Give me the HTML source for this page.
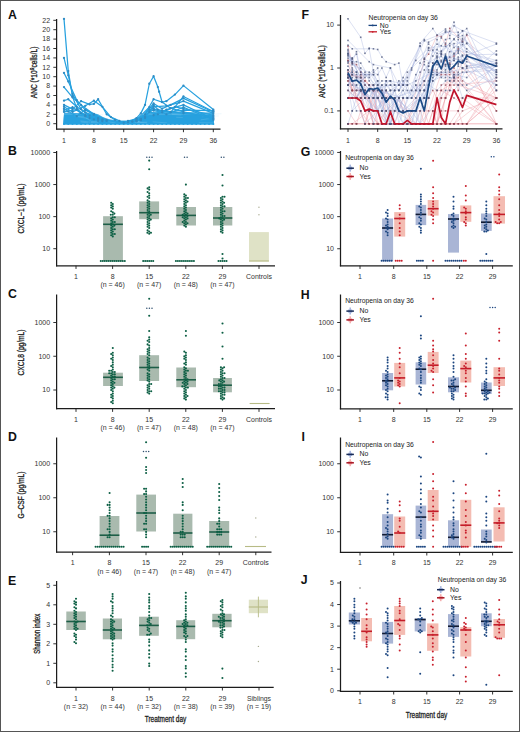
<!DOCTYPE html>
<html><head><meta charset="utf-8"><style>
html,body{margin:0;padding:0;background:#fff;}
svg{display:block;font-family:"Liberation Sans",sans-serif;}
</style></head><body>
<svg width="520" height="732" viewBox="0 0 520 732">
<rect x="0" y="0" width="520" height="732" fill="#ffffff" />
<text x="8" y="18.8" font-size="12.3" text-anchor="start" font-weight="bold" fill="#111" >A</text>
<text x="8" y="155.2" font-size="12.3" text-anchor="start" font-weight="bold" fill="#111" >B</text>
<text x="8" y="298.2" font-size="12.3" text-anchor="start" font-weight="bold" fill="#111" >C</text>
<text x="8" y="441.2" font-size="12.3" text-anchor="start" font-weight="bold" fill="#111" >D</text>
<text x="8" y="585.4" font-size="12.3" text-anchor="start" font-weight="bold" fill="#111" >E</text>
<text x="301.6" y="19" font-size="12.3" text-anchor="start" font-weight="bold" fill="#111" >F</text>
<text x="300.8" y="155.8" font-size="12.3" text-anchor="start" font-weight="bold" fill="#111" >G</text>
<text x="300.8" y="298.8" font-size="12.3" text-anchor="start" font-weight="bold" fill="#111" >H</text>
<text x="301.5" y="441.2" font-size="12.3" text-anchor="start" font-weight="bold" fill="#111" >I</text>
<text x="300.8" y="584.4" font-size="12.3" text-anchor="start" font-weight="bold" fill="#111" >J</text>
<line x1="56.6" y1="19" x2="56.6" y2="129.6" stroke="#1c1c1c" stroke-width="1.25" />
<line x1="53.3" y1="123.7" x2="56.6" y2="123.7" stroke="#1c1c1c" stroke-width="0.9" />
<text x="50.1" y="126.08" font-size="6.6" text-anchor="end" font-weight="normal" fill="#333" textLength="3.9" lengthAdjust="spacingAndGlyphs" >0</text>
<line x1="53.3" y1="114.3" x2="56.6" y2="114.3" stroke="#1c1c1c" stroke-width="0.9" />
<text x="50.1" y="116.68" font-size="6.6" text-anchor="end" font-weight="normal" fill="#333" textLength="3.9" lengthAdjust="spacingAndGlyphs" >2</text>
<line x1="53.3" y1="104.9" x2="56.6" y2="104.9" stroke="#1c1c1c" stroke-width="0.9" />
<text x="50.1" y="107.28" font-size="6.6" text-anchor="end" font-weight="normal" fill="#333" textLength="3.9" lengthAdjust="spacingAndGlyphs" >4</text>
<line x1="53.3" y1="95.5" x2="56.6" y2="95.5" stroke="#1c1c1c" stroke-width="0.9" />
<text x="50.1" y="97.88" font-size="6.6" text-anchor="end" font-weight="normal" fill="#333" textLength="3.9" lengthAdjust="spacingAndGlyphs" >6</text>
<line x1="53.3" y1="86.1" x2="56.6" y2="86.1" stroke="#1c1c1c" stroke-width="0.9" />
<text x="50.1" y="88.48" font-size="6.6" text-anchor="end" font-weight="normal" fill="#333" textLength="3.9" lengthAdjust="spacingAndGlyphs" >8</text>
<line x1="53.3" y1="76.7" x2="56.6" y2="76.7" stroke="#1c1c1c" stroke-width="0.9" />
<text x="50.1" y="79.08" font-size="6.6" text-anchor="end" font-weight="normal" fill="#333" textLength="7.8" lengthAdjust="spacingAndGlyphs" >10</text>
<line x1="53.3" y1="67.3" x2="56.6" y2="67.3" stroke="#1c1c1c" stroke-width="0.9" />
<text x="50.1" y="69.68" font-size="6.6" text-anchor="end" font-weight="normal" fill="#333" textLength="7.8" lengthAdjust="spacingAndGlyphs" >12</text>
<line x1="53.3" y1="57.9" x2="56.6" y2="57.9" stroke="#1c1c1c" stroke-width="0.9" />
<text x="50.1" y="60.28" font-size="6.6" text-anchor="end" font-weight="normal" fill="#333" textLength="7.8" lengthAdjust="spacingAndGlyphs" >14</text>
<line x1="53.3" y1="48.5" x2="56.6" y2="48.5" stroke="#1c1c1c" stroke-width="0.9" />
<text x="50.1" y="50.88" font-size="6.6" text-anchor="end" font-weight="normal" fill="#333" textLength="7.8" lengthAdjust="spacingAndGlyphs" >16</text>
<line x1="53.3" y1="39.1" x2="56.6" y2="39.1" stroke="#1c1c1c" stroke-width="0.9" />
<text x="50.1" y="41.48" font-size="6.6" text-anchor="end" font-weight="normal" fill="#333" textLength="7.8" lengthAdjust="spacingAndGlyphs" >18</text>
<line x1="53.3" y1="29.7" x2="56.6" y2="29.7" stroke="#1c1c1c" stroke-width="0.9" />
<text x="50.1" y="32.08" font-size="6.6" text-anchor="end" font-weight="normal" fill="#333" textLength="7.8" lengthAdjust="spacingAndGlyphs" >20</text>
<line x1="53.3" y1="20.3" x2="56.6" y2="20.3" stroke="#1c1c1c" stroke-width="0.9" />
<text x="50.1" y="22.68" font-size="6.6" text-anchor="end" font-weight="normal" fill="#333" textLength="7.8" lengthAdjust="spacingAndGlyphs" >22</text>
<line x1="56" y1="129" x2="220.5" y2="129" stroke="#1c1c1c" stroke-width="1.25" />
<line x1="64" y1="129" x2="64" y2="132.2" stroke="#1c1c1c" stroke-width="0.9" />
<text x="64" y="142.58" font-size="6.6" text-anchor="middle" font-weight="normal" fill="#333" textLength="3.9" lengthAdjust="spacingAndGlyphs" >1</text>
<line x1="93.86" y1="129" x2="93.86" y2="132.2" stroke="#1c1c1c" stroke-width="0.9" />
<text x="93.86" y="142.58" font-size="6.6" text-anchor="middle" font-weight="normal" fill="#333" textLength="3.9" lengthAdjust="spacingAndGlyphs" >8</text>
<line x1="123.72" y1="129" x2="123.72" y2="132.2" stroke="#1c1c1c" stroke-width="0.9" />
<text x="123.72" y="142.58" font-size="6.6" text-anchor="middle" font-weight="normal" fill="#333" textLength="7.8" lengthAdjust="spacingAndGlyphs" >15</text>
<line x1="153.59" y1="129" x2="153.59" y2="132.2" stroke="#1c1c1c" stroke-width="0.9" />
<text x="153.59" y="142.58" font-size="6.6" text-anchor="middle" font-weight="normal" fill="#333" textLength="7.8" lengthAdjust="spacingAndGlyphs" >22</text>
<line x1="183.45" y1="129" x2="183.45" y2="132.2" stroke="#1c1c1c" stroke-width="0.9" />
<text x="183.45" y="142.58" font-size="6.6" text-anchor="middle" font-weight="normal" fill="#333" textLength="7.8" lengthAdjust="spacingAndGlyphs" >29</text>
<line x1="213.31" y1="129" x2="213.31" y2="132.2" stroke="#1c1c1c" stroke-width="0.9" />
<text x="213.31" y="142.58" font-size="6.6" text-anchor="middle" font-weight="normal" fill="#333" textLength="7.8" lengthAdjust="spacingAndGlyphs" >36</text>
<g transform="translate(37.01,72.4) rotate(-90)"><text x="0" y="0" font-size="8.3" text-anchor="middle" fill="#222" stroke="#222" stroke-width="0.3" textLength="51.5" lengthAdjust="spacingAndGlyphs">ANC (*10<tspan font-size="6.2" dy="-3.2" >9</tspan><tspan dy="3.2">cells/L)</tspan></text></g>
<line x1="56.6" y1="151" x2="56.6" y2="266.35" stroke="#1c1c1c" stroke-width="1.25" />
<line x1="53.3" y1="152.49" x2="56.6" y2="152.49" stroke="#1c1c1c" stroke-width="0.9" />
<text x="50.1" y="154.87" font-size="6.6" text-anchor="end" font-weight="normal" fill="#333" textLength="19.5" lengthAdjust="spacingAndGlyphs" >10000</text>
<line x1="53.3" y1="184.56" x2="56.6" y2="184.56" stroke="#1c1c1c" stroke-width="0.9" />
<text x="50.1" y="186.94" font-size="6.6" text-anchor="end" font-weight="normal" fill="#333" textLength="15.6" lengthAdjust="spacingAndGlyphs" >1000</text>
<line x1="53.3" y1="216.63" x2="56.6" y2="216.63" stroke="#1c1c1c" stroke-width="0.9" />
<text x="50.1" y="219.01" font-size="6.6" text-anchor="end" font-weight="normal" fill="#333" textLength="11.7" lengthAdjust="spacingAndGlyphs" >100</text>
<line x1="53.3" y1="248.7" x2="56.6" y2="248.7" stroke="#1c1c1c" stroke-width="0.9" />
<text x="50.1" y="251.08" font-size="6.6" text-anchor="end" font-weight="normal" fill="#333" textLength="7.8" lengthAdjust="spacingAndGlyphs" >10</text>
<line x1="56" y1="265.75" x2="275" y2="265.75" stroke="#1c1c1c" stroke-width="1.25" />
<line x1="76" y1="265.75" x2="76" y2="268.95" stroke="#1c1c1c" stroke-width="0.9" />
<text x="76" y="278.68" font-size="6.6" text-anchor="middle" font-weight="normal" fill="#333" textLength="3.9" lengthAdjust="spacingAndGlyphs" >1</text>
<line x1="112.6" y1="265.75" x2="112.6" y2="268.95" stroke="#1c1c1c" stroke-width="0.9" />
<text x="112.6" y="278.68" font-size="6.6" text-anchor="middle" font-weight="normal" fill="#333" textLength="3.9" lengthAdjust="spacingAndGlyphs" >8</text>
<text x="112.6" y="287.18" font-size="6.6" text-anchor="middle" font-weight="normal" fill="#333" textLength="24.3" lengthAdjust="spacingAndGlyphs" >(n = 46)</text>
<line x1="149.2" y1="265.75" x2="149.2" y2="268.95" stroke="#1c1c1c" stroke-width="0.9" />
<text x="149.2" y="278.68" font-size="6.6" text-anchor="middle" font-weight="normal" fill="#333" textLength="7.8" lengthAdjust="spacingAndGlyphs" >15</text>
<text x="149.2" y="287.18" font-size="6.6" text-anchor="middle" font-weight="normal" fill="#333" textLength="24.3" lengthAdjust="spacingAndGlyphs" >(n = 47)</text>
<line x1="185.8" y1="265.75" x2="185.8" y2="268.95" stroke="#1c1c1c" stroke-width="0.9" />
<text x="185.8" y="278.68" font-size="6.6" text-anchor="middle" font-weight="normal" fill="#333" textLength="7.8" lengthAdjust="spacingAndGlyphs" >22</text>
<text x="185.8" y="287.18" font-size="6.6" text-anchor="middle" font-weight="normal" fill="#333" textLength="24.3" lengthAdjust="spacingAndGlyphs" >(n = 48)</text>
<line x1="222.4" y1="265.75" x2="222.4" y2="268.95" stroke="#1c1c1c" stroke-width="0.9" />
<text x="222.4" y="278.68" font-size="6.6" text-anchor="middle" font-weight="normal" fill="#333" textLength="7.8" lengthAdjust="spacingAndGlyphs" >29</text>
<text x="222.4" y="287.18" font-size="6.6" text-anchor="middle" font-weight="normal" fill="#333" textLength="24.3" lengthAdjust="spacingAndGlyphs" >(n = 47)</text>
<line x1="259" y1="265.75" x2="259" y2="268.95" stroke="#1c1c1c" stroke-width="0.9" />
<text x="259" y="278.68" font-size="6.6" text-anchor="middle" font-weight="normal" fill="#333" textLength="25.9" lengthAdjust="spacingAndGlyphs" >Controls</text>
<text transform="translate(24.41,208.5) rotate(-90)" x="0" y="0" font-size="8.3" text-anchor="middle" fill="#222" stroke="#222" stroke-width="0.3" textLength="50" lengthAdjust="spacingAndGlyphs">CXCL&#8722;1 (pg/mL)</text>
<line x1="56.6" y1="294.5" x2="56.6" y2="409.3" stroke="#1c1c1c" stroke-width="1.25" />
<line x1="53.3" y1="322.5" x2="56.6" y2="322.5" stroke="#1c1c1c" stroke-width="0.9" />
<text x="50.1" y="324.88" font-size="6.6" text-anchor="end" font-weight="normal" fill="#333" textLength="15.6" lengthAdjust="spacingAndGlyphs" >1000</text>
<line x1="53.3" y1="356.25" x2="56.6" y2="356.25" stroke="#1c1c1c" stroke-width="0.9" />
<text x="50.1" y="358.63" font-size="6.6" text-anchor="end" font-weight="normal" fill="#333" textLength="11.7" lengthAdjust="spacingAndGlyphs" >100</text>
<line x1="53.3" y1="390" x2="56.6" y2="390" stroke="#1c1c1c" stroke-width="0.9" />
<text x="50.1" y="392.38" font-size="6.6" text-anchor="end" font-weight="normal" fill="#333" textLength="7.8" lengthAdjust="spacingAndGlyphs" >10</text>
<line x1="56" y1="408.7" x2="275" y2="408.7" stroke="#1c1c1c" stroke-width="1.25" />
<line x1="76" y1="408.7" x2="76" y2="411.9" stroke="#1c1c1c" stroke-width="0.9" />
<text x="76" y="421.58" font-size="6.6" text-anchor="middle" font-weight="normal" fill="#333" textLength="3.9" lengthAdjust="spacingAndGlyphs" >1</text>
<line x1="112.6" y1="408.7" x2="112.6" y2="411.9" stroke="#1c1c1c" stroke-width="0.9" />
<text x="112.6" y="421.58" font-size="6.6" text-anchor="middle" font-weight="normal" fill="#333" textLength="3.9" lengthAdjust="spacingAndGlyphs" >8</text>
<text x="112.6" y="430.38" font-size="6.6" text-anchor="middle" font-weight="normal" fill="#333" textLength="24.3" lengthAdjust="spacingAndGlyphs" >(n = 46)</text>
<line x1="149.2" y1="408.7" x2="149.2" y2="411.9" stroke="#1c1c1c" stroke-width="0.9" />
<text x="149.2" y="421.58" font-size="6.6" text-anchor="middle" font-weight="normal" fill="#333" textLength="7.8" lengthAdjust="spacingAndGlyphs" >15</text>
<text x="149.2" y="430.38" font-size="6.6" text-anchor="middle" font-weight="normal" fill="#333" textLength="24.3" lengthAdjust="spacingAndGlyphs" >(n = 47)</text>
<line x1="185.8" y1="408.7" x2="185.8" y2="411.9" stroke="#1c1c1c" stroke-width="0.9" />
<text x="185.8" y="421.58" font-size="6.6" text-anchor="middle" font-weight="normal" fill="#333" textLength="7.8" lengthAdjust="spacingAndGlyphs" >22</text>
<text x="185.8" y="430.38" font-size="6.6" text-anchor="middle" font-weight="normal" fill="#333" textLength="24.3" lengthAdjust="spacingAndGlyphs" >(n = 48)</text>
<line x1="222.4" y1="408.7" x2="222.4" y2="411.9" stroke="#1c1c1c" stroke-width="0.9" />
<text x="222.4" y="421.58" font-size="6.6" text-anchor="middle" font-weight="normal" fill="#333" textLength="7.8" lengthAdjust="spacingAndGlyphs" >29</text>
<text x="222.4" y="430.38" font-size="6.6" text-anchor="middle" font-weight="normal" fill="#333" textLength="24.3" lengthAdjust="spacingAndGlyphs" >(n = 47)</text>
<line x1="259" y1="408.7" x2="259" y2="411.9" stroke="#1c1c1c" stroke-width="0.9" />
<text x="259" y="421.58" font-size="6.6" text-anchor="middle" font-weight="normal" fill="#333" textLength="25.9" lengthAdjust="spacingAndGlyphs" >Controls</text>
<text transform="translate(24.41,352.5) rotate(-90)" x="0" y="0" font-size="8.3" text-anchor="middle" fill="#222" stroke="#222" stroke-width="0.3" textLength="46" lengthAdjust="spacingAndGlyphs">CXCL8 (pg/mL)</text>
<line x1="56.6" y1="437.5" x2="56.6" y2="552.6" stroke="#1c1c1c" stroke-width="1.25" />
<line x1="53.3" y1="463.75" x2="56.6" y2="463.75" stroke="#1c1c1c" stroke-width="0.9" />
<text x="50.1" y="466.13" font-size="6.6" text-anchor="end" font-weight="normal" fill="#333" textLength="15.6" lengthAdjust="spacingAndGlyphs" >1000</text>
<line x1="53.3" y1="497.75" x2="56.6" y2="497.75" stroke="#1c1c1c" stroke-width="0.9" />
<text x="50.1" y="500.13" font-size="6.6" text-anchor="end" font-weight="normal" fill="#333" textLength="11.7" lengthAdjust="spacingAndGlyphs" >100</text>
<line x1="53.3" y1="531.75" x2="56.6" y2="531.75" stroke="#1c1c1c" stroke-width="0.9" />
<text x="50.1" y="534.13" font-size="6.6" text-anchor="end" font-weight="normal" fill="#333" textLength="7.8" lengthAdjust="spacingAndGlyphs" >10</text>
<line x1="56" y1="552" x2="271.5" y2="552" stroke="#1c1c1c" stroke-width="1.25" />
<line x1="72.6" y1="552" x2="72.6" y2="555.2" stroke="#1c1c1c" stroke-width="0.9" />
<text x="72.6" y="565.38" font-size="6.6" text-anchor="middle" font-weight="normal" fill="#333" textLength="3.9" lengthAdjust="spacingAndGlyphs" >1</text>
<line x1="109.4" y1="552" x2="109.4" y2="555.2" stroke="#1c1c1c" stroke-width="0.9" />
<text x="109.4" y="565.38" font-size="6.6" text-anchor="middle" font-weight="normal" fill="#333" textLength="3.9" lengthAdjust="spacingAndGlyphs" >8</text>
<text x="109.4" y="573.88" font-size="6.6" text-anchor="middle" font-weight="normal" fill="#333" textLength="24.3" lengthAdjust="spacingAndGlyphs" >(n = 46)</text>
<line x1="146" y1="552" x2="146" y2="555.2" stroke="#1c1c1c" stroke-width="0.9" />
<text x="146" y="565.38" font-size="6.6" text-anchor="middle" font-weight="normal" fill="#333" textLength="7.8" lengthAdjust="spacingAndGlyphs" >15</text>
<text x="146" y="573.88" font-size="6.6" text-anchor="middle" font-weight="normal" fill="#333" textLength="24.3" lengthAdjust="spacingAndGlyphs" >(n = 47)</text>
<line x1="182.6" y1="552" x2="182.6" y2="555.2" stroke="#1c1c1c" stroke-width="0.9" />
<text x="182.6" y="565.38" font-size="6.6" text-anchor="middle" font-weight="normal" fill="#333" textLength="7.8" lengthAdjust="spacingAndGlyphs" >22</text>
<text x="182.6" y="573.88" font-size="6.6" text-anchor="middle" font-weight="normal" fill="#333" textLength="24.3" lengthAdjust="spacingAndGlyphs" >(n = 48)</text>
<line x1="219.2" y1="552" x2="219.2" y2="555.2" stroke="#1c1c1c" stroke-width="0.9" />
<text x="219.2" y="565.38" font-size="6.6" text-anchor="middle" font-weight="normal" fill="#333" textLength="7.8" lengthAdjust="spacingAndGlyphs" >29</text>
<text x="219.2" y="573.88" font-size="6.6" text-anchor="middle" font-weight="normal" fill="#333" textLength="24.3" lengthAdjust="spacingAndGlyphs" >(n = 47)</text>
<line x1="255.8" y1="552" x2="255.8" y2="555.2" stroke="#1c1c1c" stroke-width="0.9" />
<text x="255.8" y="565.38" font-size="6.6" text-anchor="middle" font-weight="normal" fill="#333" textLength="25.9" lengthAdjust="spacingAndGlyphs" >Controls</text>
<text transform="translate(24.41,495) rotate(-90)" x="0" y="0" font-size="8.3" text-anchor="middle" fill="#222" stroke="#222" stroke-width="0.3" textLength="47" lengthAdjust="spacingAndGlyphs">G&#8211;CSF (pg/mL)</text>
<line x1="56.6" y1="581" x2="56.6" y2="687.9" stroke="#1c1c1c" stroke-width="1.25" />
<line x1="53.3" y1="682.8" x2="56.6" y2="682.8" stroke="#1c1c1c" stroke-width="0.9" />
<text x="50.1" y="685.18" font-size="6.6" text-anchor="end" font-weight="normal" fill="#333" textLength="3.9" lengthAdjust="spacingAndGlyphs" >0</text>
<line x1="53.3" y1="663.3" x2="56.6" y2="663.3" stroke="#1c1c1c" stroke-width="0.9" />
<text x="50.1" y="665.68" font-size="6.6" text-anchor="end" font-weight="normal" fill="#333" textLength="3.9" lengthAdjust="spacingAndGlyphs" >1</text>
<line x1="53.3" y1="643.8" x2="56.6" y2="643.8" stroke="#1c1c1c" stroke-width="0.9" />
<text x="50.1" y="646.18" font-size="6.6" text-anchor="end" font-weight="normal" fill="#333" textLength="3.9" lengthAdjust="spacingAndGlyphs" >2</text>
<line x1="53.3" y1="624.3" x2="56.6" y2="624.3" stroke="#1c1c1c" stroke-width="0.9" />
<text x="50.1" y="626.68" font-size="6.6" text-anchor="end" font-weight="normal" fill="#333" textLength="3.9" lengthAdjust="spacingAndGlyphs" >3</text>
<line x1="53.3" y1="604.8" x2="56.6" y2="604.8" stroke="#1c1c1c" stroke-width="0.9" />
<text x="50.1" y="607.18" font-size="6.6" text-anchor="end" font-weight="normal" fill="#333" textLength="3.9" lengthAdjust="spacingAndGlyphs" >4</text>
<line x1="53.3" y1="585.3" x2="56.6" y2="585.3" stroke="#1c1c1c" stroke-width="0.9" />
<text x="50.1" y="587.68" font-size="6.6" text-anchor="end" font-weight="normal" fill="#333" textLength="3.9" lengthAdjust="spacingAndGlyphs" >5</text>
<line x1="56" y1="687.3" x2="273.7" y2="687.3" stroke="#1c1c1c" stroke-width="1.25" />
<line x1="76" y1="687.3" x2="76" y2="690.5" stroke="#1c1c1c" stroke-width="0.9" />
<text x="76" y="700.88" font-size="6.6" text-anchor="middle" font-weight="normal" fill="#333" textLength="3.9" lengthAdjust="spacingAndGlyphs" >1</text>
<text x="76" y="709.28" font-size="6.6" text-anchor="middle" font-weight="normal" fill="#333" textLength="24.3" lengthAdjust="spacingAndGlyphs" >(n = 32)</text>
<line x1="112.6" y1="687.3" x2="112.6" y2="690.5" stroke="#1c1c1c" stroke-width="0.9" />
<text x="112.6" y="700.88" font-size="6.6" text-anchor="middle" font-weight="normal" fill="#333" textLength="3.9" lengthAdjust="spacingAndGlyphs" >8</text>
<text x="112.6" y="709.28" font-size="6.6" text-anchor="middle" font-weight="normal" fill="#333" textLength="24.3" lengthAdjust="spacingAndGlyphs" >(n = 44)</text>
<line x1="149.2" y1="687.3" x2="149.2" y2="690.5" stroke="#1c1c1c" stroke-width="0.9" />
<text x="149.2" y="700.88" font-size="6.6" text-anchor="middle" font-weight="normal" fill="#333" textLength="7.8" lengthAdjust="spacingAndGlyphs" >15</text>
<text x="149.2" y="709.28" font-size="6.6" text-anchor="middle" font-weight="normal" fill="#333" textLength="24.3" lengthAdjust="spacingAndGlyphs" >(n = 32)</text>
<line x1="185.8" y1="687.3" x2="185.8" y2="690.5" stroke="#1c1c1c" stroke-width="0.9" />
<text x="185.8" y="700.88" font-size="6.6" text-anchor="middle" font-weight="normal" fill="#333" textLength="7.8" lengthAdjust="spacingAndGlyphs" >22</text>
<text x="185.8" y="709.28" font-size="6.6" text-anchor="middle" font-weight="normal" fill="#333" textLength="24.3" lengthAdjust="spacingAndGlyphs" >(n = 38)</text>
<line x1="222.4" y1="687.3" x2="222.4" y2="690.5" stroke="#1c1c1c" stroke-width="0.9" />
<text x="222.4" y="700.88" font-size="6.6" text-anchor="middle" font-weight="normal" fill="#333" textLength="7.8" lengthAdjust="spacingAndGlyphs" >29</text>
<text x="222.4" y="709.28" font-size="6.6" text-anchor="middle" font-weight="normal" fill="#333" textLength="24.3" lengthAdjust="spacingAndGlyphs" >(n = 39)</text>
<line x1="259" y1="687.3" x2="259" y2="690.5" stroke="#1c1c1c" stroke-width="0.9" />
<text x="259" y="700.88" font-size="6.6" text-anchor="middle" font-weight="normal" fill="#333" textLength="24" lengthAdjust="spacingAndGlyphs" >Siblings</text>
<text x="259" y="709.28" font-size="6.6" text-anchor="middle" font-weight="normal" fill="#333" textLength="24.3" lengthAdjust="spacingAndGlyphs" >(n = 19)</text>
<text transform="translate(40.41,633.8) rotate(-90)" x="0" y="0" font-size="8.3" text-anchor="middle" fill="#222" stroke="#222" stroke-width="0.3" textLength="40" lengthAdjust="spacingAndGlyphs">Shannon index</text>
<text x="165.5" y="722.3" font-size="8.6" text-anchor="middle" font-weight="normal" fill="#222" textLength="41.5" lengthAdjust="spacingAndGlyphs" stroke="#222" stroke-width="0.3">Treatment day</text>
<line x1="340.5" y1="15" x2="340.5" y2="129.35" stroke="#1c1c1c" stroke-width="1.25" />
<line x1="337.2" y1="25.1" x2="340.5" y2="25.1" stroke="#1c1c1c" stroke-width="0.9" />
<text x="334" y="27.48" font-size="6.6" text-anchor="end" font-weight="normal" fill="#333" textLength="7.8" lengthAdjust="spacingAndGlyphs" >10</text>
<line x1="337.2" y1="68" x2="340.5" y2="68" stroke="#1c1c1c" stroke-width="0.9" />
<text x="334" y="70.38" font-size="6.6" text-anchor="end" font-weight="normal" fill="#333" textLength="3.9" lengthAdjust="spacingAndGlyphs" >1</text>
<line x1="337.2" y1="110.9" x2="340.5" y2="110.9" stroke="#1c1c1c" stroke-width="0.9" />
<text x="334" y="113.28" font-size="6.6" text-anchor="end" font-weight="normal" fill="#333" textLength="9.7" lengthAdjust="spacingAndGlyphs" >0.1</text>
<line x1="339.9" y1="128.75" x2="502.5" y2="128.75" stroke="#1c1c1c" stroke-width="1.25" />
<line x1="348" y1="128.75" x2="348" y2="131.95" stroke="#1c1c1c" stroke-width="0.9" />
<text x="348" y="142.58" font-size="6.6" text-anchor="middle" font-weight="normal" fill="#333" textLength="3.9" lengthAdjust="spacingAndGlyphs" >1</text>
<line x1="377.68" y1="128.75" x2="377.68" y2="131.95" stroke="#1c1c1c" stroke-width="0.9" />
<text x="377.68" y="142.58" font-size="6.6" text-anchor="middle" font-weight="normal" fill="#333" textLength="3.9" lengthAdjust="spacingAndGlyphs" >8</text>
<line x1="407.36" y1="128.75" x2="407.36" y2="131.95" stroke="#1c1c1c" stroke-width="0.9" />
<text x="407.36" y="142.58" font-size="6.6" text-anchor="middle" font-weight="normal" fill="#333" textLength="7.8" lengthAdjust="spacingAndGlyphs" >15</text>
<line x1="437.04" y1="128.75" x2="437.04" y2="131.95" stroke="#1c1c1c" stroke-width="0.9" />
<text x="437.04" y="142.58" font-size="6.6" text-anchor="middle" font-weight="normal" fill="#333" textLength="7.8" lengthAdjust="spacingAndGlyphs" >22</text>
<line x1="466.72" y1="128.75" x2="466.72" y2="131.95" stroke="#1c1c1c" stroke-width="0.9" />
<text x="466.72" y="142.58" font-size="6.6" text-anchor="middle" font-weight="normal" fill="#333" textLength="7.8" lengthAdjust="spacingAndGlyphs" >29</text>
<line x1="496.4" y1="128.75" x2="496.4" y2="131.95" stroke="#1c1c1c" stroke-width="0.9" />
<text x="496.4" y="142.58" font-size="6.6" text-anchor="middle" font-weight="normal" fill="#333" textLength="7.8" lengthAdjust="spacingAndGlyphs" >36</text>
<g transform="translate(325.4,71.6) rotate(-90)"><text x="0" y="0" font-size="8.3" text-anchor="middle" fill="#222" stroke="#222" stroke-width="0.3" textLength="52.5" lengthAdjust="spacingAndGlyphs">ANC (*10<tspan font-size="6.2" dy="-3.2" >9</tspan><tspan dy="3.2">cells/L)</tspan></text></g>
<line x1="340.5" y1="151" x2="340.5" y2="266.35" stroke="#1c1c1c" stroke-width="1.25" />
<line x1="337.2" y1="152.45" x2="340.5" y2="152.45" stroke="#1c1c1c" stroke-width="0.9" />
<text x="334" y="154.83" font-size="6.6" text-anchor="end" font-weight="normal" fill="#333" textLength="19.5" lengthAdjust="spacingAndGlyphs" >10000</text>
<line x1="337.2" y1="184.55" x2="340.5" y2="184.55" stroke="#1c1c1c" stroke-width="0.9" />
<text x="334" y="186.93" font-size="6.6" text-anchor="end" font-weight="normal" fill="#333" textLength="15.6" lengthAdjust="spacingAndGlyphs" >1000</text>
<line x1="337.2" y1="216.65" x2="340.5" y2="216.65" stroke="#1c1c1c" stroke-width="0.9" />
<text x="334" y="219.03" font-size="6.6" text-anchor="end" font-weight="normal" fill="#333" textLength="11.7" lengthAdjust="spacingAndGlyphs" >100</text>
<line x1="337.2" y1="248.75" x2="340.5" y2="248.75" stroke="#1c1c1c" stroke-width="0.9" />
<text x="334" y="251.13" font-size="6.6" text-anchor="end" font-weight="normal" fill="#333" textLength="7.8" lengthAdjust="spacingAndGlyphs" >10</text>
<line x1="339.9" y1="265.75" x2="512.8" y2="265.75" stroke="#1c1c1c" stroke-width="1.25" />
<line x1="360" y1="265.75" x2="360" y2="268.95" stroke="#1c1c1c" stroke-width="0.9" />
<text x="360" y="279.08" font-size="6.6" text-anchor="middle" font-weight="normal" fill="#333" textLength="3.9" lengthAdjust="spacingAndGlyphs" >1</text>
<line x1="393.7" y1="265.75" x2="393.7" y2="268.95" stroke="#1c1c1c" stroke-width="0.9" />
<text x="393.7" y="279.08" font-size="6.6" text-anchor="middle" font-weight="normal" fill="#333" textLength="3.9" lengthAdjust="spacingAndGlyphs" >8</text>
<line x1="426.8" y1="265.75" x2="426.8" y2="268.95" stroke="#1c1c1c" stroke-width="0.9" />
<text x="426.8" y="279.08" font-size="6.6" text-anchor="middle" font-weight="normal" fill="#333" textLength="7.8" lengthAdjust="spacingAndGlyphs" >15</text>
<line x1="459.6" y1="265.75" x2="459.6" y2="268.95" stroke="#1c1c1c" stroke-width="0.9" />
<text x="459.6" y="279.08" font-size="6.6" text-anchor="middle" font-weight="normal" fill="#333" textLength="7.8" lengthAdjust="spacingAndGlyphs" >22</text>
<line x1="492.6" y1="265.75" x2="492.6" y2="268.95" stroke="#1c1c1c" stroke-width="0.9" />
<text x="492.6" y="279.08" font-size="6.6" text-anchor="middle" font-weight="normal" fill="#333" textLength="7.8" lengthAdjust="spacingAndGlyphs" >29</text>
<line x1="340.5" y1="294.5" x2="340.5" y2="409.35" stroke="#1c1c1c" stroke-width="1.25" />
<line x1="337.2" y1="322.5" x2="340.5" y2="322.5" stroke="#1c1c1c" stroke-width="0.9" />
<text x="334" y="324.88" font-size="6.6" text-anchor="end" font-weight="normal" fill="#333" textLength="15.6" lengthAdjust="spacingAndGlyphs" >1000</text>
<line x1="337.2" y1="356.25" x2="340.5" y2="356.25" stroke="#1c1c1c" stroke-width="0.9" />
<text x="334" y="358.63" font-size="6.6" text-anchor="end" font-weight="normal" fill="#333" textLength="11.7" lengthAdjust="spacingAndGlyphs" >100</text>
<line x1="337.2" y1="390" x2="340.5" y2="390" stroke="#1c1c1c" stroke-width="0.9" />
<text x="334" y="392.38" font-size="6.6" text-anchor="end" font-weight="normal" fill="#333" textLength="7.8" lengthAdjust="spacingAndGlyphs" >10</text>
<line x1="339.9" y1="408.75" x2="512.8" y2="408.75" stroke="#1c1c1c" stroke-width="1.25" />
<line x1="360" y1="408.75" x2="360" y2="411.95" stroke="#1c1c1c" stroke-width="0.9" />
<text x="360" y="421.58" font-size="6.6" text-anchor="middle" font-weight="normal" fill="#333" textLength="3.9" lengthAdjust="spacingAndGlyphs" >1</text>
<line x1="393.7" y1="408.75" x2="393.7" y2="411.95" stroke="#1c1c1c" stroke-width="0.9" />
<text x="393.7" y="421.58" font-size="6.6" text-anchor="middle" font-weight="normal" fill="#333" textLength="3.9" lengthAdjust="spacingAndGlyphs" >8</text>
<line x1="426.8" y1="408.75" x2="426.8" y2="411.95" stroke="#1c1c1c" stroke-width="0.9" />
<text x="426.8" y="421.58" font-size="6.6" text-anchor="middle" font-weight="normal" fill="#333" textLength="7.8" lengthAdjust="spacingAndGlyphs" >15</text>
<line x1="459.6" y1="408.75" x2="459.6" y2="411.95" stroke="#1c1c1c" stroke-width="0.9" />
<text x="459.6" y="421.58" font-size="6.6" text-anchor="middle" font-weight="normal" fill="#333" textLength="7.8" lengthAdjust="spacingAndGlyphs" >22</text>
<line x1="492.6" y1="408.75" x2="492.6" y2="411.95" stroke="#1c1c1c" stroke-width="0.9" />
<text x="492.6" y="421.58" font-size="6.6" text-anchor="middle" font-weight="normal" fill="#333" textLength="7.8" lengthAdjust="spacingAndGlyphs" >29</text>
<line x1="340.5" y1="437.5" x2="340.5" y2="552.9" stroke="#1c1c1c" stroke-width="1.25" />
<line x1="337.2" y1="463.75" x2="340.5" y2="463.75" stroke="#1c1c1c" stroke-width="0.9" />
<text x="334" y="466.13" font-size="6.6" text-anchor="end" font-weight="normal" fill="#333" textLength="15.6" lengthAdjust="spacingAndGlyphs" >1000</text>
<line x1="337.2" y1="497.75" x2="340.5" y2="497.75" stroke="#1c1c1c" stroke-width="0.9" />
<text x="334" y="500.13" font-size="6.6" text-anchor="end" font-weight="normal" fill="#333" textLength="11.7" lengthAdjust="spacingAndGlyphs" >100</text>
<line x1="337.2" y1="531.75" x2="340.5" y2="531.75" stroke="#1c1c1c" stroke-width="0.9" />
<text x="334" y="534.13" font-size="6.6" text-anchor="end" font-weight="normal" fill="#333" textLength="7.8" lengthAdjust="spacingAndGlyphs" >10</text>
<line x1="339.9" y1="552.3" x2="512.8" y2="552.3" stroke="#1c1c1c" stroke-width="1.25" />
<line x1="360" y1="552.3" x2="360" y2="555.5" stroke="#1c1c1c" stroke-width="0.9" />
<text x="360" y="564.78" font-size="6.6" text-anchor="middle" font-weight="normal" fill="#333" textLength="3.9" lengthAdjust="spacingAndGlyphs" >1</text>
<line x1="393.7" y1="552.3" x2="393.7" y2="555.5" stroke="#1c1c1c" stroke-width="0.9" />
<text x="393.7" y="564.78" font-size="6.6" text-anchor="middle" font-weight="normal" fill="#333" textLength="3.9" lengthAdjust="spacingAndGlyphs" >8</text>
<line x1="426.8" y1="552.3" x2="426.8" y2="555.5" stroke="#1c1c1c" stroke-width="0.9" />
<text x="426.8" y="564.78" font-size="6.6" text-anchor="middle" font-weight="normal" fill="#333" textLength="7.8" lengthAdjust="spacingAndGlyphs" >15</text>
<line x1="459.6" y1="552.3" x2="459.6" y2="555.5" stroke="#1c1c1c" stroke-width="0.9" />
<text x="459.6" y="564.78" font-size="6.6" text-anchor="middle" font-weight="normal" fill="#333" textLength="7.8" lengthAdjust="spacingAndGlyphs" >22</text>
<line x1="492.6" y1="552.3" x2="492.6" y2="555.5" stroke="#1c1c1c" stroke-width="0.9" />
<text x="492.6" y="564.78" font-size="6.6" text-anchor="middle" font-weight="normal" fill="#333" textLength="7.8" lengthAdjust="spacingAndGlyphs" >29</text>
<line x1="340.5" y1="581" x2="340.5" y2="691.9" stroke="#1c1c1c" stroke-width="1.25" />
<line x1="337.2" y1="690.75" x2="340.5" y2="690.75" stroke="#1c1c1c" stroke-width="0.9" />
<text x="334" y="693.13" font-size="6.6" text-anchor="end" font-weight="normal" fill="#333" textLength="3.9" lengthAdjust="spacingAndGlyphs" >0</text>
<line x1="337.2" y1="669.2" x2="340.5" y2="669.2" stroke="#1c1c1c" stroke-width="0.9" />
<text x="334" y="671.58" font-size="6.6" text-anchor="end" font-weight="normal" fill="#333" textLength="3.9" lengthAdjust="spacingAndGlyphs" >1</text>
<line x1="337.2" y1="647.65" x2="340.5" y2="647.65" stroke="#1c1c1c" stroke-width="0.9" />
<text x="334" y="650.03" font-size="6.6" text-anchor="end" font-weight="normal" fill="#333" textLength="3.9" lengthAdjust="spacingAndGlyphs" >2</text>
<line x1="337.2" y1="626.1" x2="340.5" y2="626.1" stroke="#1c1c1c" stroke-width="0.9" />
<text x="334" y="628.48" font-size="6.6" text-anchor="end" font-weight="normal" fill="#333" textLength="3.9" lengthAdjust="spacingAndGlyphs" >3</text>
<line x1="337.2" y1="604.55" x2="340.5" y2="604.55" stroke="#1c1c1c" stroke-width="0.9" />
<text x="334" y="606.93" font-size="6.6" text-anchor="end" font-weight="normal" fill="#333" textLength="3.9" lengthAdjust="spacingAndGlyphs" >4</text>
<line x1="337.2" y1="583" x2="340.5" y2="583" stroke="#1c1c1c" stroke-width="0.9" />
<text x="334" y="585.38" font-size="6.6" text-anchor="end" font-weight="normal" fill="#333" textLength="3.9" lengthAdjust="spacingAndGlyphs" >5</text>
<line x1="339.9" y1="691.3" x2="512.8" y2="691.3" stroke="#1c1c1c" stroke-width="1.25" />
<line x1="360" y1="691.3" x2="360" y2="694.5" stroke="#1c1c1c" stroke-width="0.9" />
<text x="360" y="704.28" font-size="6.6" text-anchor="middle" font-weight="normal" fill="#333" textLength="3.9" lengthAdjust="spacingAndGlyphs" >1</text>
<line x1="393.7" y1="691.3" x2="393.7" y2="694.5" stroke="#1c1c1c" stroke-width="0.9" />
<text x="393.7" y="704.28" font-size="6.6" text-anchor="middle" font-weight="normal" fill="#333" textLength="3.9" lengthAdjust="spacingAndGlyphs" >8</text>
<line x1="426.8" y1="691.3" x2="426.8" y2="694.5" stroke="#1c1c1c" stroke-width="0.9" />
<text x="426.8" y="704.28" font-size="6.6" text-anchor="middle" font-weight="normal" fill="#333" textLength="7.8" lengthAdjust="spacingAndGlyphs" >15</text>
<line x1="459.6" y1="691.3" x2="459.6" y2="694.5" stroke="#1c1c1c" stroke-width="0.9" />
<text x="459.6" y="704.28" font-size="6.6" text-anchor="middle" font-weight="normal" fill="#333" textLength="7.8" lengthAdjust="spacingAndGlyphs" >22</text>
<line x1="492.6" y1="691.3" x2="492.6" y2="694.5" stroke="#1c1c1c" stroke-width="0.9" />
<text x="492.6" y="704.28" font-size="6.6" text-anchor="middle" font-weight="normal" fill="#333" textLength="7.8" lengthAdjust="spacingAndGlyphs" >29</text>
<text x="426.5" y="717.5" font-size="8.6" text-anchor="middle" font-weight="normal" fill="#222" textLength="41.5" lengthAdjust="spacingAndGlyphs" stroke="#222" stroke-width="0.3">Treatment day</text>
<rect x="103.1" y="216.2" width="19.8" height="44.8" fill="#a9baae" />
<rect x="139.2" y="201.4" width="19.9" height="17.8" fill="#a9baae" />
<rect x="176.3" y="207" width="19.7" height="18.5" fill="#a9baae" />
<rect x="213" y="207" width="19.3" height="18.5" fill="#a9baae" />
<rect x="249" y="232.1" width="19.9" height="29.2" fill="#dfe2c6" />
<line x1="249" y1="261" x2="268.9" y2="261" stroke="#b7bb86" stroke-width="1.1" />
<circle cx="258.95" cy="207.3" r="0.7" fill="#a8ab90" />
<circle cx="258.95" cy="214.8" r="0.7" fill="#a8ab90" />
<line x1="103.1" y1="224.3" x2="122.9" y2="224.3" stroke="#1d5e47" stroke-width="1.6" />
<line x1="139.2" y1="212.7" x2="159.1" y2="212.7" stroke="#1d5e47" stroke-width="1.6" />
<line x1="176.3" y1="215.4" x2="196" y2="215.4" stroke="#1d5e47" stroke-width="1.6" />
<line x1="213" y1="218" x2="232.3" y2="218" stroke="#1d5e47" stroke-width="1.6" />
<circle cx="112.8" cy="261" r="1.05" fill="#0c5f44" />
<circle cx="110.8" cy="261" r="1.05" fill="#0c5f44" />
<circle cx="114.8" cy="261" r="1.05" fill="#0c5f44" />
<circle cx="108.8" cy="261" r="1.05" fill="#0c5f44" />
<circle cx="116.8" cy="261" r="1.05" fill="#0c5f44" />
<circle cx="106.8" cy="261" r="1.05" fill="#0c5f44" />
<circle cx="118.8" cy="261" r="1.05" fill="#0c5f44" />
<circle cx="104.8" cy="261" r="1.05" fill="#0c5f44" />
<circle cx="120.8" cy="261" r="1.05" fill="#0c5f44" />
<circle cx="102.8" cy="261" r="1.05" fill="#0c5f44" />
<circle cx="122.8" cy="261" r="1.05" fill="#0c5f44" />
<circle cx="100.8" cy="261" r="1.05" fill="#0c5f44" />
<circle cx="124.8" cy="261" r="1.05" fill="#0c5f44" />
<circle cx="112.8" cy="236.4" r="1.05" fill="#0c5f44" />
<circle cx="111.2" cy="235.2" r="1.05" fill="#0c5f44" />
<circle cx="112.8" cy="234" r="1.05" fill="#0c5f44" />
<circle cx="114.8" cy="234" r="1.05" fill="#0c5f44" />
<circle cx="111.2" cy="232.8" r="1.05" fill="#0c5f44" />
<circle cx="112.8" cy="231.6" r="1.05" fill="#0c5f44" />
<circle cx="111.2" cy="230.4" r="1.05" fill="#0c5f44" />
<circle cx="112.8" cy="229.2" r="1.05" fill="#0c5f44" />
<circle cx="114.8" cy="229.2" r="1.05" fill="#0c5f44" />
<circle cx="111.2" cy="228" r="1.05" fill="#0c5f44" />
<circle cx="112.8" cy="226.8" r="1.05" fill="#0c5f44" />
<circle cx="111.2" cy="225.6" r="1.05" fill="#0c5f44" />
<circle cx="114.4" cy="225.6" r="1.05" fill="#0c5f44" />
<circle cx="112.8" cy="224.4" r="1.05" fill="#0c5f44" />
<circle cx="111.2" cy="223.2" r="1.05" fill="#0c5f44" />
<circle cx="112.8" cy="222" r="1.05" fill="#0c5f44" />
<circle cx="114.8" cy="222" r="1.05" fill="#0c5f44" />
<circle cx="111.2" cy="220.8" r="1.05" fill="#0c5f44" />
<circle cx="112.8" cy="219.6" r="1.05" fill="#0c5f44" />
<circle cx="111.2" cy="218.4" r="1.05" fill="#0c5f44" />
<circle cx="112.8" cy="217.2" r="1.05" fill="#0c5f44" />
<circle cx="114.8" cy="217.2" r="1.05" fill="#0c5f44" />
<circle cx="112.8" cy="214.8" r="1.05" fill="#0c5f44" />
<circle cx="110.8" cy="214.8" r="1.05" fill="#0c5f44" />
<circle cx="114.4" cy="213.6" r="1.05" fill="#0c5f44" />
<circle cx="112.8" cy="212.4" r="1.05" fill="#0c5f44" />
<circle cx="111.2" cy="211.2" r="1.05" fill="#0c5f44" />
<circle cx="112.8" cy="208.8" r="1.05" fill="#0c5f44" />
<circle cx="111.2" cy="207.6" r="1.05" fill="#0c5f44" />
<circle cx="112.8" cy="206.4" r="1.05" fill="#0c5f44" />
<circle cx="111.2" cy="205.2" r="1.05" fill="#0c5f44" />
<circle cx="112.8" cy="204" r="1.05" fill="#0c5f44" />
<circle cx="111.2" cy="202.8" r="1.05" fill="#0c5f44" />
<circle cx="149.2" cy="261" r="1.05" fill="#0c5f44" />
<circle cx="147.2" cy="261" r="1.05" fill="#0c5f44" />
<circle cx="151.2" cy="261" r="1.05" fill="#0c5f44" />
<circle cx="145.2" cy="261" r="1.05" fill="#0c5f44" />
<circle cx="153.2" cy="261" r="1.05" fill="#0c5f44" />
<circle cx="143.2" cy="261" r="1.05" fill="#0c5f44" />
<circle cx="149.2" cy="233.7" r="1.05" fill="#0c5f44" />
<circle cx="147.41" cy="232.8" r="1.05" fill="#0c5f44" />
<circle cx="150.99" cy="232.8" r="1.05" fill="#0c5f44" />
<circle cx="149.2" cy="231.6" r="1.05" fill="#0c5f44" />
<circle cx="147.6" cy="230.4" r="1.05" fill="#0c5f44" />
<circle cx="149.2" cy="228" r="1.05" fill="#0c5f44" />
<circle cx="147.6" cy="226.8" r="1.05" fill="#0c5f44" />
<circle cx="149.2" cy="225.6" r="1.05" fill="#0c5f44" />
<circle cx="147.6" cy="224.4" r="1.05" fill="#0c5f44" />
<circle cx="149.2" cy="223.2" r="1.05" fill="#0c5f44" />
<circle cx="147.6" cy="222" r="1.05" fill="#0c5f44" />
<circle cx="149.2" cy="220.8" r="1.05" fill="#0c5f44" />
<circle cx="147.6" cy="219.6" r="1.05" fill="#0c5f44" />
<circle cx="150.8" cy="219.6" r="1.05" fill="#0c5f44" />
<circle cx="149.2" cy="218.4" r="1.05" fill="#0c5f44" />
<circle cx="147.6" cy="217.2" r="1.05" fill="#0c5f44" />
<circle cx="149.2" cy="216" r="1.05" fill="#0c5f44" />
<circle cx="147.6" cy="214.8" r="1.05" fill="#0c5f44" />
<circle cx="150.8" cy="214.8" r="1.05" fill="#0c5f44" />
<circle cx="149.2" cy="213.6" r="1.05" fill="#0c5f44" />
<circle cx="147.6" cy="212.4" r="1.05" fill="#0c5f44" />
<circle cx="149.2" cy="211.2" r="1.05" fill="#0c5f44" />
<circle cx="147.6" cy="210" r="1.05" fill="#0c5f44" />
<circle cx="149.2" cy="208.8" r="1.05" fill="#0c5f44" />
<circle cx="147.6" cy="207.6" r="1.05" fill="#0c5f44" />
<circle cx="149.2" cy="206.4" r="1.05" fill="#0c5f44" />
<circle cx="147.6" cy="205.2" r="1.05" fill="#0c5f44" />
<circle cx="149.2" cy="204" r="1.05" fill="#0c5f44" />
<circle cx="147.6" cy="202.8" r="1.05" fill="#0c5f44" />
<circle cx="149.2" cy="201.6" r="1.05" fill="#0c5f44" />
<circle cx="147.6" cy="200.4" r="1.05" fill="#0c5f44" />
<circle cx="149.2" cy="198" r="1.05" fill="#0c5f44" />
<circle cx="147.6" cy="196.8" r="1.05" fill="#0c5f44" />
<circle cx="149.2" cy="195.6" r="1.05" fill="#0c5f44" />
<circle cx="149.2" cy="193.2" r="1.05" fill="#0c5f44" />
<circle cx="147.6" cy="192" r="1.05" fill="#0c5f44" />
<circle cx="149.2" cy="189.6" r="1.05" fill="#0c5f44" />
<circle cx="147.6" cy="188.4" r="1.05" fill="#0c5f44" />
<circle cx="149.2" cy="187.2" r="1.05" fill="#0c5f44" />
<circle cx="149.2" cy="169.2" r="1.05" fill="#0c5f44" />
<circle cx="149.2" cy="160.6" r="1.05" fill="#0c5f44" />
<circle cx="185.9" cy="261" r="1.05" fill="#0c5f44" />
<circle cx="183.9" cy="261" r="1.05" fill="#0c5f44" />
<circle cx="187.9" cy="261" r="1.05" fill="#0c5f44" />
<circle cx="181.9" cy="261" r="1.05" fill="#0c5f44" />
<circle cx="189.9" cy="261" r="1.05" fill="#0c5f44" />
<circle cx="179.9" cy="261" r="1.05" fill="#0c5f44" />
<circle cx="191.9" cy="261" r="1.05" fill="#0c5f44" />
<circle cx="177.9" cy="261" r="1.05" fill="#0c5f44" />
<circle cx="193.9" cy="261" r="1.05" fill="#0c5f44" />
<circle cx="175.9" cy="261" r="1.05" fill="#0c5f44" />
<circle cx="185.9" cy="226.8" r="1.05" fill="#0c5f44" />
<circle cx="184.3" cy="225.6" r="1.05" fill="#0c5f44" />
<circle cx="185.9" cy="224.4" r="1.05" fill="#0c5f44" />
<circle cx="184.3" cy="223.2" r="1.05" fill="#0c5f44" />
<circle cx="187.5" cy="223.2" r="1.05" fill="#0c5f44" />
<circle cx="185.9" cy="222" r="1.05" fill="#0c5f44" />
<circle cx="182.7" cy="222" r="1.05" fill="#0c5f44" />
<circle cx="184.3" cy="220.8" r="1.05" fill="#0c5f44" />
<circle cx="185.9" cy="219.6" r="1.05" fill="#0c5f44" />
<circle cx="184.3" cy="218.4" r="1.05" fill="#0c5f44" />
<circle cx="187.5" cy="218.4" r="1.05" fill="#0c5f44" />
<circle cx="185.9" cy="217.2" r="1.05" fill="#0c5f44" />
<circle cx="182.7" cy="217.2" r="1.05" fill="#0c5f44" />
<circle cx="184.3" cy="216" r="1.05" fill="#0c5f44" />
<circle cx="187.5" cy="216" r="1.05" fill="#0c5f44" />
<circle cx="185.9" cy="214.8" r="1.05" fill="#0c5f44" />
<circle cx="182.7" cy="214.8" r="1.05" fill="#0c5f44" />
<circle cx="184.3" cy="213.6" r="1.05" fill="#0c5f44" />
<circle cx="187.5" cy="213.6" r="1.05" fill="#0c5f44" />
<circle cx="185.9" cy="212.4" r="1.05" fill="#0c5f44" />
<circle cx="184.3" cy="211.2" r="1.05" fill="#0c5f44" />
<circle cx="185.9" cy="210" r="1.05" fill="#0c5f44" />
<circle cx="184.3" cy="208.8" r="1.05" fill="#0c5f44" />
<circle cx="185.9" cy="207.6" r="1.05" fill="#0c5f44" />
<circle cx="184.3" cy="206.4" r="1.05" fill="#0c5f44" />
<circle cx="185.9" cy="205.2" r="1.05" fill="#0c5f44" />
<circle cx="184.3" cy="204" r="1.05" fill="#0c5f44" />
<circle cx="185.9" cy="202.8" r="1.05" fill="#0c5f44" />
<circle cx="184.3" cy="201.6" r="1.05" fill="#0c5f44" />
<circle cx="187.5" cy="201.6" r="1.05" fill="#0c5f44" />
<circle cx="185.9" cy="200.4" r="1.05" fill="#0c5f44" />
<circle cx="184.3" cy="199.2" r="1.05" fill="#0c5f44" />
<circle cx="185.9" cy="198" r="1.05" fill="#0c5f44" />
<circle cx="187.9" cy="198" r="1.05" fill="#0c5f44" />
<circle cx="184.3" cy="196.8" r="1.05" fill="#0c5f44" />
<circle cx="185.9" cy="195.6" r="1.05" fill="#0c5f44" />
<circle cx="184.3" cy="194.4" r="1.05" fill="#0c5f44" />
<circle cx="185.9" cy="184.6" r="1.05" fill="#0c5f44" />
<circle cx="222.5" cy="261" r="1.05" fill="#0c5f44" />
<circle cx="220.5" cy="261" r="1.05" fill="#0c5f44" />
<circle cx="224.5" cy="261" r="1.05" fill="#0c5f44" />
<circle cx="218.5" cy="261" r="1.05" fill="#0c5f44" />
<circle cx="226.5" cy="261" r="1.05" fill="#0c5f44" />
<circle cx="222.5" cy="258.5" r="1.05" fill="#0c5f44" />
<circle cx="222.5" cy="254" r="1.05" fill="#0c5f44" />
<circle cx="222.5" cy="232.8" r="1.05" fill="#0c5f44" />
<circle cx="220.9" cy="231.6" r="1.05" fill="#0c5f44" />
<circle cx="222.5" cy="230.4" r="1.05" fill="#0c5f44" />
<circle cx="220.9" cy="229.2" r="1.05" fill="#0c5f44" />
<circle cx="222.5" cy="228" r="1.05" fill="#0c5f44" />
<circle cx="220.9" cy="226.8" r="1.05" fill="#0c5f44" />
<circle cx="222.5" cy="225.6" r="1.05" fill="#0c5f44" />
<circle cx="220.9" cy="224.4" r="1.05" fill="#0c5f44" />
<circle cx="222.5" cy="223.2" r="1.05" fill="#0c5f44" />
<circle cx="220.9" cy="222" r="1.05" fill="#0c5f44" />
<circle cx="222.5" cy="220.8" r="1.05" fill="#0c5f44" />
<circle cx="220.9" cy="219.6" r="1.05" fill="#0c5f44" />
<circle cx="224.1" cy="219.6" r="1.05" fill="#0c5f44" />
<circle cx="222.5" cy="218.4" r="1.05" fill="#0c5f44" />
<circle cx="219.3" cy="218.4" r="1.05" fill="#0c5f44" />
<circle cx="220.9" cy="217.2" r="1.05" fill="#0c5f44" />
<circle cx="222.5" cy="216" r="1.05" fill="#0c5f44" />
<circle cx="224.5" cy="216" r="1.05" fill="#0c5f44" />
<circle cx="220.9" cy="214.8" r="1.05" fill="#0c5f44" />
<circle cx="222.5" cy="213.6" r="1.05" fill="#0c5f44" />
<circle cx="220.9" cy="212.4" r="1.05" fill="#0c5f44" />
<circle cx="222.5" cy="211.2" r="1.05" fill="#0c5f44" />
<circle cx="224.5" cy="211.2" r="1.05" fill="#0c5f44" />
<circle cx="220.9" cy="210" r="1.05" fill="#0c5f44" />
<circle cx="222.5" cy="208.8" r="1.05" fill="#0c5f44" />
<circle cx="220.9" cy="207.6" r="1.05" fill="#0c5f44" />
<circle cx="222.5" cy="206.4" r="1.05" fill="#0c5f44" />
<circle cx="224.5" cy="206.4" r="1.05" fill="#0c5f44" />
<circle cx="220.9" cy="205.2" r="1.05" fill="#0c5f44" />
<circle cx="222.5" cy="204" r="1.05" fill="#0c5f44" />
<circle cx="220.9" cy="202.8" r="1.05" fill="#0c5f44" />
<circle cx="224.1" cy="202.8" r="1.05" fill="#0c5f44" />
<circle cx="222.5" cy="201.6" r="1.05" fill="#0c5f44" />
<circle cx="220.9" cy="200.4" r="1.05" fill="#0c5f44" />
<circle cx="222.5" cy="199.2" r="1.05" fill="#0c5f44" />
<circle cx="220.9" cy="198" r="1.05" fill="#0c5f44" />
<circle cx="222.5" cy="196.8" r="1.05" fill="#0c5f44" />
<circle cx="224.5" cy="196.8" r="1.05" fill="#0c5f44" />
<circle cx="222.5" cy="185.5" r="1.05" fill="#0c5f44" />
<circle cx="222.5" cy="175" r="1.05" fill="#0c5f44" />
<circle cx="146.8" cy="157.3" r="0.75" fill="#2f4f6f" />
<circle cx="149.4" cy="157.3" r="0.75" fill="#2f4f6f" />
<circle cx="152" cy="157.3" r="0.75" fill="#2f4f6f" />
<circle cx="184.5" cy="157.3" r="0.75" fill="#2f4f6f" />
<circle cx="187.1" cy="157.3" r="0.75" fill="#2f4f6f" />
<circle cx="221.3" cy="157.3" r="0.75" fill="#2f4f6f" />
<circle cx="223.9" cy="157.3" r="0.75" fill="#2f4f6f" />
<rect x="103.1" y="372.7" width="19.8" height="13.3" fill="#a9baae" />
<rect x="139.2" y="355.2" width="19.9" height="25.8" fill="#a9baae" />
<rect x="176.3" y="367.5" width="19.7" height="19.7" fill="#a9baae" />
<rect x="213.1" y="378" width="18.8" height="14.3" fill="#a9baae" />
<line x1="249.6" y1="403.5" x2="269.6" y2="403.5" stroke="#b7bb86" stroke-width="1.1" />
<line x1="103.1" y1="377.3" x2="122.9" y2="377.3" stroke="#1d5e47" stroke-width="1.6" />
<line x1="139.2" y1="367.5" x2="159.1" y2="367.5" stroke="#1d5e47" stroke-width="1.6" />
<line x1="176.3" y1="379.8" x2="196" y2="379.8" stroke="#1d5e47" stroke-width="1.6" />
<line x1="213.1" y1="385.2" x2="231.9" y2="385.2" stroke="#1d5e47" stroke-width="1.6" />
<circle cx="112.8" cy="403.2" r="1.05" fill="#0c5f44" />
<circle cx="111.2" cy="402" r="1.05" fill="#0c5f44" />
<circle cx="112.8" cy="400.8" r="1.05" fill="#0c5f44" />
<circle cx="112.8" cy="398.4" r="1.05" fill="#0c5f44" />
<circle cx="111.2" cy="397.2" r="1.05" fill="#0c5f44" />
<circle cx="112.8" cy="396" r="1.05" fill="#0c5f44" />
<circle cx="111.2" cy="394.8" r="1.05" fill="#0c5f44" />
<circle cx="112.8" cy="393.6" r="1.05" fill="#0c5f44" />
<circle cx="112.8" cy="391.2" r="1.05" fill="#0c5f44" />
<circle cx="111.2" cy="390" r="1.05" fill="#0c5f44" />
<circle cx="112.8" cy="388.8" r="1.05" fill="#0c5f44" />
<circle cx="111.2" cy="387.6" r="1.05" fill="#0c5f44" />
<circle cx="114.4" cy="387.6" r="1.05" fill="#0c5f44" />
<circle cx="112.8" cy="386.4" r="1.05" fill="#0c5f44" />
<circle cx="111.2" cy="385.2" r="1.05" fill="#0c5f44" />
<circle cx="112.8" cy="384" r="1.05" fill="#0c5f44" />
<circle cx="111.2" cy="382.8" r="1.05" fill="#0c5f44" />
<circle cx="114.4" cy="382.8" r="1.05" fill="#0c5f44" />
<circle cx="112.8" cy="381.6" r="1.05" fill="#0c5f44" />
<circle cx="111.2" cy="380.4" r="1.05" fill="#0c5f44" />
<circle cx="112.8" cy="379.2" r="1.05" fill="#0c5f44" />
<circle cx="114.8" cy="379.2" r="1.05" fill="#0c5f44" />
<circle cx="111.2" cy="378" r="1.05" fill="#0c5f44" />
<circle cx="112.8" cy="376.8" r="1.05" fill="#0c5f44" />
<circle cx="114.8" cy="376.8" r="1.05" fill="#0c5f44" />
<circle cx="111.2" cy="375.6" r="1.05" fill="#0c5f44" />
<circle cx="112.8" cy="374.4" r="1.05" fill="#0c5f44" />
<circle cx="114.8" cy="374.4" r="1.05" fill="#0c5f44" />
<circle cx="111.2" cy="373.2" r="1.05" fill="#0c5f44" />
<circle cx="109.2" cy="373.2" r="1.05" fill="#0c5f44" />
<circle cx="112.8" cy="372" r="1.05" fill="#0c5f44" />
<circle cx="114.8" cy="372" r="1.05" fill="#0c5f44" />
<circle cx="111.2" cy="370.8" r="1.05" fill="#0c5f44" />
<circle cx="109.2" cy="370.8" r="1.05" fill="#0c5f44" />
<circle cx="112.8" cy="369.6" r="1.05" fill="#0c5f44" />
<circle cx="112.8" cy="367.2" r="1.05" fill="#0c5f44" />
<circle cx="111.2" cy="366" r="1.05" fill="#0c5f44" />
<circle cx="112.8" cy="364.8" r="1.05" fill="#0c5f44" />
<circle cx="112.8" cy="362.4" r="1.05" fill="#0c5f44" />
<circle cx="112.8" cy="360" r="1.05" fill="#0c5f44" />
<circle cx="111.2" cy="358.8" r="1.05" fill="#0c5f44" />
<circle cx="112.8" cy="357.6" r="1.05" fill="#0c5f44" />
<circle cx="112.8" cy="355.2" r="1.05" fill="#0c5f44" />
<circle cx="111.2" cy="354" r="1.05" fill="#0c5f44" />
<circle cx="112.8" cy="352.8" r="1.05" fill="#0c5f44" />
<circle cx="112.8" cy="348" r="1.05" fill="#0c5f44" />
<circle cx="149.2" cy="393.6" r="1.05" fill="#0c5f44" />
<circle cx="147.6" cy="392.4" r="1.05" fill="#0c5f44" />
<circle cx="149.2" cy="391.2" r="1.05" fill="#0c5f44" />
<circle cx="151.2" cy="391.2" r="1.05" fill="#0c5f44" />
<circle cx="147.6" cy="390" r="1.05" fill="#0c5f44" />
<circle cx="149.2" cy="388.8" r="1.05" fill="#0c5f44" />
<circle cx="147.6" cy="387.6" r="1.05" fill="#0c5f44" />
<circle cx="149.2" cy="386.4" r="1.05" fill="#0c5f44" />
<circle cx="147.6" cy="385.2" r="1.05" fill="#0c5f44" />
<circle cx="149.2" cy="384" r="1.05" fill="#0c5f44" />
<circle cx="151.2" cy="384" r="1.05" fill="#0c5f44" />
<circle cx="149.2" cy="381.6" r="1.05" fill="#0c5f44" />
<circle cx="147.6" cy="380.4" r="1.05" fill="#0c5f44" />
<circle cx="149.2" cy="379.2" r="1.05" fill="#0c5f44" />
<circle cx="147.6" cy="378" r="1.05" fill="#0c5f44" />
<circle cx="149.2" cy="376.8" r="1.05" fill="#0c5f44" />
<circle cx="147.6" cy="375.6" r="1.05" fill="#0c5f44" />
<circle cx="149.2" cy="374.4" r="1.05" fill="#0c5f44" />
<circle cx="147.6" cy="373.2" r="1.05" fill="#0c5f44" />
<circle cx="149.2" cy="370.8" r="1.05" fill="#0c5f44" />
<circle cx="147.6" cy="369.6" r="1.05" fill="#0c5f44" />
<circle cx="149.2" cy="368.4" r="1.05" fill="#0c5f44" />
<circle cx="147.6" cy="367.2" r="1.05" fill="#0c5f44" />
<circle cx="149.2" cy="366" r="1.05" fill="#0c5f44" />
<circle cx="147.6" cy="364.8" r="1.05" fill="#0c5f44" />
<circle cx="149.2" cy="363.6" r="1.05" fill="#0c5f44" />
<circle cx="147.6" cy="362.4" r="1.05" fill="#0c5f44" />
<circle cx="149.2" cy="361.2" r="1.05" fill="#0c5f44" />
<circle cx="147.6" cy="360" r="1.05" fill="#0c5f44" />
<circle cx="149.2" cy="358.8" r="1.05" fill="#0c5f44" />
<circle cx="147.6" cy="357.6" r="1.05" fill="#0c5f44" />
<circle cx="149.2" cy="355.2" r="1.05" fill="#0c5f44" />
<circle cx="147.6" cy="354" r="1.05" fill="#0c5f44" />
<circle cx="149.2" cy="352.8" r="1.05" fill="#0c5f44" />
<circle cx="147.6" cy="351.6" r="1.05" fill="#0c5f44" />
<circle cx="149.2" cy="350.4" r="1.05" fill="#0c5f44" />
<circle cx="147.6" cy="349.2" r="1.05" fill="#0c5f44" />
<circle cx="149.2" cy="348" r="1.05" fill="#0c5f44" />
<circle cx="149.2" cy="345.6" r="1.05" fill="#0c5f44" />
<circle cx="147.6" cy="344.4" r="1.05" fill="#0c5f44" />
<circle cx="149.2" cy="342" r="1.05" fill="#0c5f44" />
<circle cx="147.6" cy="340.8" r="1.05" fill="#0c5f44" />
<circle cx="149.2" cy="339.6" r="1.05" fill="#0c5f44" />
<circle cx="149.2" cy="337.2" r="1.05" fill="#0c5f44" />
<circle cx="149.2" cy="331" r="1.05" fill="#0c5f44" />
<circle cx="149.2" cy="315.8" r="1.05" fill="#0c5f44" />
<circle cx="149.2" cy="298.8" r="1.05" fill="#0c5f44" />
<circle cx="185.9" cy="399.6" r="1.05" fill="#0c5f44" />
<circle cx="184.3" cy="398.4" r="1.05" fill="#0c5f44" />
<circle cx="185.9" cy="397.2" r="1.05" fill="#0c5f44" />
<circle cx="184.3" cy="396" r="1.05" fill="#0c5f44" />
<circle cx="187.5" cy="396" r="1.05" fill="#0c5f44" />
<circle cx="185.9" cy="394.8" r="1.05" fill="#0c5f44" />
<circle cx="184.3" cy="393.6" r="1.05" fill="#0c5f44" />
<circle cx="185.9" cy="392.4" r="1.05" fill="#0c5f44" />
<circle cx="184.3" cy="391.2" r="1.05" fill="#0c5f44" />
<circle cx="185.9" cy="390" r="1.05" fill="#0c5f44" />
<circle cx="184.3" cy="388.8" r="1.05" fill="#0c5f44" />
<circle cx="185.9" cy="387.6" r="1.05" fill="#0c5f44" />
<circle cx="187.9" cy="387.6" r="1.05" fill="#0c5f44" />
<circle cx="184.3" cy="386.4" r="1.05" fill="#0c5f44" />
<circle cx="182.3" cy="386.4" r="1.05" fill="#0c5f44" />
<circle cx="185.9" cy="385.2" r="1.05" fill="#0c5f44" />
<circle cx="184.3" cy="384" r="1.05" fill="#0c5f44" />
<circle cx="187.5" cy="384" r="1.05" fill="#0c5f44" />
<circle cx="185.9" cy="382.8" r="1.05" fill="#0c5f44" />
<circle cx="182.7" cy="382.8" r="1.05" fill="#0c5f44" />
<circle cx="184.3" cy="381.6" r="1.05" fill="#0c5f44" />
<circle cx="187.5" cy="381.6" r="1.05" fill="#0c5f44" />
<circle cx="185.9" cy="380.4" r="1.05" fill="#0c5f44" />
<circle cx="184.3" cy="379.2" r="1.05" fill="#0c5f44" />
<circle cx="187.5" cy="379.2" r="1.05" fill="#0c5f44" />
<circle cx="185.9" cy="378" r="1.05" fill="#0c5f44" />
<circle cx="184.3" cy="376.8" r="1.05" fill="#0c5f44" />
<circle cx="185.9" cy="375.6" r="1.05" fill="#0c5f44" />
<circle cx="184.3" cy="374.4" r="1.05" fill="#0c5f44" />
<circle cx="185.9" cy="373.2" r="1.05" fill="#0c5f44" />
<circle cx="184.3" cy="372" r="1.05" fill="#0c5f44" />
<circle cx="185.9" cy="370.8" r="1.05" fill="#0c5f44" />
<circle cx="187.9" cy="370.8" r="1.05" fill="#0c5f44" />
<circle cx="184.3" cy="369.6" r="1.05" fill="#0c5f44" />
<circle cx="185.9" cy="368.4" r="1.05" fill="#0c5f44" />
<circle cx="184.3" cy="367.2" r="1.05" fill="#0c5f44" />
<circle cx="185.9" cy="364.8" r="1.05" fill="#0c5f44" />
<circle cx="184.3" cy="363.6" r="1.05" fill="#0c5f44" />
<circle cx="185.9" cy="362.4" r="1.05" fill="#0c5f44" />
<circle cx="185.9" cy="360" r="1.05" fill="#0c5f44" />
<circle cx="184.3" cy="358.8" r="1.05" fill="#0c5f44" />
<circle cx="185.9" cy="357.6" r="1.05" fill="#0c5f44" />
<circle cx="184.3" cy="356.4" r="1.05" fill="#0c5f44" />
<circle cx="185.9" cy="355.2" r="1.05" fill="#0c5f44" />
<circle cx="185.9" cy="352.8" r="1.05" fill="#0c5f44" />
<circle cx="184.3" cy="351.6" r="1.05" fill="#0c5f44" />
<circle cx="185.9" cy="335.8" r="1.05" fill="#0c5f44" />
<circle cx="185.9" cy="331" r="1.05" fill="#0c5f44" />
<circle cx="222.5" cy="399.6" r="1.05" fill="#0c5f44" />
<circle cx="220.9" cy="398.4" r="1.05" fill="#0c5f44" />
<circle cx="224.1" cy="398.4" r="1.05" fill="#0c5f44" />
<circle cx="222.5" cy="397.2" r="1.05" fill="#0c5f44" />
<circle cx="220.9" cy="396" r="1.05" fill="#0c5f44" />
<circle cx="222.5" cy="394.8" r="1.05" fill="#0c5f44" />
<circle cx="224.5" cy="394.8" r="1.05" fill="#0c5f44" />
<circle cx="220.9" cy="393.6" r="1.05" fill="#0c5f44" />
<circle cx="222.5" cy="392.4" r="1.05" fill="#0c5f44" />
<circle cx="224.5" cy="392.4" r="1.05" fill="#0c5f44" />
<circle cx="220.9" cy="391.2" r="1.05" fill="#0c5f44" />
<circle cx="218.9" cy="391.2" r="1.05" fill="#0c5f44" />
<circle cx="222.5" cy="390" r="1.05" fill="#0c5f44" />
<circle cx="224.5" cy="390" r="1.05" fill="#0c5f44" />
<circle cx="220.9" cy="388.8" r="1.05" fill="#0c5f44" />
<circle cx="218.9" cy="388.8" r="1.05" fill="#0c5f44" />
<circle cx="222.5" cy="387.6" r="1.05" fill="#0c5f44" />
<circle cx="224.5" cy="387.6" r="1.05" fill="#0c5f44" />
<circle cx="220.9" cy="386.4" r="1.05" fill="#0c5f44" />
<circle cx="218.9" cy="386.4" r="1.05" fill="#0c5f44" />
<circle cx="222.5" cy="385.2" r="1.05" fill="#0c5f44" />
<circle cx="224.5" cy="385.2" r="1.05" fill="#0c5f44" />
<circle cx="220.9" cy="384" r="1.05" fill="#0c5f44" />
<circle cx="218.9" cy="384" r="1.05" fill="#0c5f44" />
<circle cx="222.5" cy="382.8" r="1.05" fill="#0c5f44" />
<circle cx="220.9" cy="381.6" r="1.05" fill="#0c5f44" />
<circle cx="224.1" cy="381.6" r="1.05" fill="#0c5f44" />
<circle cx="222.5" cy="380.4" r="1.05" fill="#0c5f44" />
<circle cx="219.3" cy="380.4" r="1.05" fill="#0c5f44" />
<circle cx="220.9" cy="379.2" r="1.05" fill="#0c5f44" />
<circle cx="222.5" cy="378" r="1.05" fill="#0c5f44" />
<circle cx="224.5" cy="378" r="1.05" fill="#0c5f44" />
<circle cx="220.9" cy="376.8" r="1.05" fill="#0c5f44" />
<circle cx="222.5" cy="375.6" r="1.05" fill="#0c5f44" />
<circle cx="220.9" cy="374.4" r="1.05" fill="#0c5f44" />
<circle cx="222.5" cy="373.2" r="1.05" fill="#0c5f44" />
<circle cx="224.5" cy="373.2" r="1.05" fill="#0c5f44" />
<circle cx="220.9" cy="372" r="1.05" fill="#0c5f44" />
<circle cx="222.5" cy="370.8" r="1.05" fill="#0c5f44" />
<circle cx="220.9" cy="369.6" r="1.05" fill="#0c5f44" />
<circle cx="222.5" cy="368.4" r="1.05" fill="#0c5f44" />
<circle cx="220.9" cy="367.2" r="1.05" fill="#0c5f44" />
<circle cx="224.1" cy="367.2" r="1.05" fill="#0c5f44" />
<circle cx="222.5" cy="358.8" r="1.05" fill="#0c5f44" />
<circle cx="222.5" cy="346.5" r="1.05" fill="#0c5f44" />
<circle cx="222.5" cy="332.7" r="1.05" fill="#0c5f44" />
<circle cx="222.5" cy="323.5" r="1.05" fill="#0c5f44" />
<circle cx="146.8" cy="308.2" r="0.75" fill="#2f4f6f" />
<circle cx="149.4" cy="308.2" r="0.75" fill="#2f4f6f" />
<circle cx="152" cy="308.2" r="0.75" fill="#2f4f6f" />
<rect x="99.6" y="516" width="19.8" height="31" fill="#a9baae" />
<rect x="136.3" y="494.6" width="19.7" height="36.9" fill="#a9baae" />
<rect x="173.2" y="513.7" width="19.2" height="33.3" fill="#a9baae" />
<rect x="209.2" y="521" width="20" height="26" fill="#a9baae" />
<line x1="245" y1="546.5" x2="266" y2="546.5" stroke="#b7bb86" stroke-width="1.1" />
<circle cx="255.8" cy="518" r="0.7" fill="#a8ab90" />
<circle cx="255.8" cy="537" r="0.7" fill="#a8ab90" />
<line x1="99.6" y1="535.2" x2="119.4" y2="535.2" stroke="#1d5e47" stroke-width="1.6" />
<line x1="136.3" y1="513" x2="156" y2="513" stroke="#1d5e47" stroke-width="1.6" />
<line x1="173.2" y1="533" x2="192.4" y2="533" stroke="#1d5e47" stroke-width="1.6" />
<line x1="209.2" y1="532" x2="229.2" y2="532" stroke="#1d5e47" stroke-width="1.6" />
<circle cx="109.6" cy="546.8" r="1.05" fill="#0c5f44" />
<circle cx="107.6" cy="546.8" r="1.05" fill="#0c5f44" />
<circle cx="111.6" cy="546.8" r="1.05" fill="#0c5f44" />
<circle cx="105.6" cy="546.8" r="1.05" fill="#0c5f44" />
<circle cx="113.6" cy="546.8" r="1.05" fill="#0c5f44" />
<circle cx="103.6" cy="546.8" r="1.05" fill="#0c5f44" />
<circle cx="115.6" cy="546.8" r="1.05" fill="#0c5f44" />
<circle cx="101.6" cy="546.8" r="1.05" fill="#0c5f44" />
<circle cx="117.6" cy="546.8" r="1.05" fill="#0c5f44" />
<circle cx="99.6" cy="546.8" r="1.05" fill="#0c5f44" />
<circle cx="119.6" cy="546.8" r="1.05" fill="#0c5f44" />
<circle cx="97.6" cy="546.8" r="1.05" fill="#0c5f44" />
<circle cx="121.6" cy="546.8" r="1.05" fill="#0c5f44" />
<circle cx="95.6" cy="546.8" r="1.05" fill="#0c5f44" />
<circle cx="123.6" cy="546.8" r="1.05" fill="#0c5f44" />
<circle cx="109.6" cy="537.3" r="1.05" fill="#0c5f44" />
<circle cx="107.6" cy="537.3" r="1.05" fill="#0c5f44" />
<circle cx="109.6" cy="534.6" r="1.05" fill="#0c5f44" />
<circle cx="109.6" cy="531.9" r="1.05" fill="#0c5f44" />
<circle cx="109.6" cy="529.2" r="1.05" fill="#0c5f44" />
<circle cx="107.6" cy="529.2" r="1.05" fill="#0c5f44" />
<circle cx="109.6" cy="526.5" r="1.05" fill="#0c5f44" />
<circle cx="109.6" cy="523.8" r="1.05" fill="#0c5f44" />
<circle cx="109.6" cy="521.1" r="1.05" fill="#0c5f44" />
<circle cx="109.6" cy="518.4" r="1.05" fill="#0c5f44" />
<circle cx="109.6" cy="515.7" r="1.05" fill="#0c5f44" />
<circle cx="107.6" cy="515.7" r="1.05" fill="#0c5f44" />
<circle cx="109.6" cy="513" r="1.05" fill="#0c5f44" />
<circle cx="109.6" cy="510.3" r="1.05" fill="#0c5f44" />
<circle cx="109.6" cy="507.6" r="1.05" fill="#0c5f44" />
<circle cx="109.6" cy="504.9" r="1.05" fill="#0c5f44" />
<circle cx="107.6" cy="504.9" r="1.05" fill="#0c5f44" />
<circle cx="109.6" cy="502.2" r="1.05" fill="#0c5f44" />
<circle cx="109.6" cy="493" r="1.05" fill="#0c5f44" />
<circle cx="146.1" cy="546.8" r="1.05" fill="#0c5f44" />
<circle cx="144.1" cy="546.8" r="1.05" fill="#0c5f44" />
<circle cx="148.1" cy="546.8" r="1.05" fill="#0c5f44" />
<circle cx="142.1" cy="546.8" r="1.05" fill="#0c5f44" />
<circle cx="146.1" cy="537.3" r="1.05" fill="#0c5f44" />
<circle cx="146.1" cy="534.6" r="1.05" fill="#0c5f44" />
<circle cx="146.1" cy="531.9" r="1.05" fill="#0c5f44" />
<circle cx="146.1" cy="529.2" r="1.05" fill="#0c5f44" />
<circle cx="144.1" cy="529.2" r="1.05" fill="#0c5f44" />
<circle cx="146.1" cy="523.8" r="1.05" fill="#0c5f44" />
<circle cx="144.1" cy="523.8" r="1.05" fill="#0c5f44" />
<circle cx="146.1" cy="521.1" r="1.05" fill="#0c5f44" />
<circle cx="146.1" cy="518.4" r="1.05" fill="#0c5f44" />
<circle cx="146.1" cy="515.7" r="1.05" fill="#0c5f44" />
<circle cx="146.1" cy="513" r="1.05" fill="#0c5f44" />
<circle cx="144.1" cy="513" r="1.05" fill="#0c5f44" />
<circle cx="146.1" cy="510.3" r="1.05" fill="#0c5f44" />
<circle cx="146.1" cy="507.6" r="1.05" fill="#0c5f44" />
<circle cx="146.1" cy="504.9" r="1.05" fill="#0c5f44" />
<circle cx="146.1" cy="502.2" r="1.05" fill="#0c5f44" />
<circle cx="146.1" cy="499.5" r="1.05" fill="#0c5f44" />
<circle cx="146.1" cy="496.8" r="1.05" fill="#0c5f44" />
<circle cx="146.1" cy="494.1" r="1.05" fill="#0c5f44" />
<circle cx="144.1" cy="494.1" r="1.05" fill="#0c5f44" />
<circle cx="146.1" cy="491.4" r="1.05" fill="#0c5f44" />
<circle cx="146.1" cy="488.7" r="1.05" fill="#0c5f44" />
<circle cx="144.1" cy="488.7" r="1.05" fill="#0c5f44" />
<circle cx="146.1" cy="473" r="1.05" fill="#0c5f44" />
<circle cx="146.1" cy="470" r="1.05" fill="#0c5f44" />
<circle cx="146.1" cy="467" r="1.05" fill="#0c5f44" />
<circle cx="146.1" cy="457.7" r="1.05" fill="#0c5f44" />
<circle cx="146.1" cy="442.3" r="1.05" fill="#0c5f44" />
<circle cx="182.7" cy="546.8" r="1.05" fill="#0c5f44" />
<circle cx="180.7" cy="546.8" r="1.05" fill="#0c5f44" />
<circle cx="184.7" cy="546.8" r="1.05" fill="#0c5f44" />
<circle cx="178.7" cy="546.8" r="1.05" fill="#0c5f44" />
<circle cx="186.7" cy="546.8" r="1.05" fill="#0c5f44" />
<circle cx="176.7" cy="546.8" r="1.05" fill="#0c5f44" />
<circle cx="188.7" cy="546.8" r="1.05" fill="#0c5f44" />
<circle cx="174.7" cy="546.8" r="1.05" fill="#0c5f44" />
<circle cx="190.7" cy="546.8" r="1.05" fill="#0c5f44" />
<circle cx="172.7" cy="546.8" r="1.05" fill="#0c5f44" />
<circle cx="192.7" cy="546.8" r="1.05" fill="#0c5f44" />
<circle cx="170.7" cy="546.8" r="1.05" fill="#0c5f44" />
<circle cx="182.7" cy="537.3" r="1.05" fill="#0c5f44" />
<circle cx="180.7" cy="537.3" r="1.05" fill="#0c5f44" />
<circle cx="184.7" cy="537.3" r="1.05" fill="#0c5f44" />
<circle cx="182.7" cy="534.6" r="1.05" fill="#0c5f44" />
<circle cx="180.7" cy="534.6" r="1.05" fill="#0c5f44" />
<circle cx="184.7" cy="534.6" r="1.05" fill="#0c5f44" />
<circle cx="182.7" cy="531.9" r="1.05" fill="#0c5f44" />
<circle cx="180.7" cy="531.9" r="1.05" fill="#0c5f44" />
<circle cx="182.7" cy="529.2" r="1.05" fill="#0c5f44" />
<circle cx="182.7" cy="526.5" r="1.05" fill="#0c5f44" />
<circle cx="182.7" cy="523.8" r="1.05" fill="#0c5f44" />
<circle cx="182.7" cy="521.1" r="1.05" fill="#0c5f44" />
<circle cx="182.7" cy="518.4" r="1.05" fill="#0c5f44" />
<circle cx="182.7" cy="515.7" r="1.05" fill="#0c5f44" />
<circle cx="182.7" cy="510.3" r="1.05" fill="#0c5f44" />
<circle cx="182.7" cy="504.9" r="1.05" fill="#0c5f44" />
<circle cx="182.7" cy="502.2" r="1.05" fill="#0c5f44" />
<circle cx="182.7" cy="487" r="1.05" fill="#0c5f44" />
<circle cx="182.7" cy="483" r="1.05" fill="#0c5f44" />
<circle cx="182.7" cy="479" r="1.05" fill="#0c5f44" />
<circle cx="219.2" cy="546.8" r="1.05" fill="#0c5f44" />
<circle cx="217.2" cy="546.8" r="1.05" fill="#0c5f44" />
<circle cx="221.2" cy="546.8" r="1.05" fill="#0c5f44" />
<circle cx="215.2" cy="546.8" r="1.05" fill="#0c5f44" />
<circle cx="223.2" cy="546.8" r="1.05" fill="#0c5f44" />
<circle cx="213.2" cy="546.8" r="1.05" fill="#0c5f44" />
<circle cx="225.2" cy="546.8" r="1.05" fill="#0c5f44" />
<circle cx="211.2" cy="546.8" r="1.05" fill="#0c5f44" />
<circle cx="227.2" cy="546.8" r="1.05" fill="#0c5f44" />
<circle cx="209.2" cy="546.8" r="1.05" fill="#0c5f44" />
<circle cx="229.2" cy="546.8" r="1.05" fill="#0c5f44" />
<circle cx="207.2" cy="546.8" r="1.05" fill="#0c5f44" />
<circle cx="231.2" cy="546.8" r="1.05" fill="#0c5f44" />
<circle cx="219.2" cy="534.6" r="1.05" fill="#0c5f44" />
<circle cx="217.2" cy="534.6" r="1.05" fill="#0c5f44" />
<circle cx="221.2" cy="534.6" r="1.05" fill="#0c5f44" />
<circle cx="219.2" cy="531.9" r="1.05" fill="#0c5f44" />
<circle cx="217.2" cy="531.9" r="1.05" fill="#0c5f44" />
<circle cx="221.2" cy="531.9" r="1.05" fill="#0c5f44" />
<circle cx="219.2" cy="529.2" r="1.05" fill="#0c5f44" />
<circle cx="217.2" cy="529.2" r="1.05" fill="#0c5f44" />
<circle cx="221.2" cy="529.2" r="1.05" fill="#0c5f44" />
<circle cx="219.2" cy="526.5" r="1.05" fill="#0c5f44" />
<circle cx="219.2" cy="523.8" r="1.05" fill="#0c5f44" />
<circle cx="217.2" cy="523.8" r="1.05" fill="#0c5f44" />
<circle cx="219.2" cy="521.1" r="1.05" fill="#0c5f44" />
<circle cx="219.2" cy="518.4" r="1.05" fill="#0c5f44" />
<circle cx="219.2" cy="513" r="1.05" fill="#0c5f44" />
<circle cx="219.2" cy="510.3" r="1.05" fill="#0c5f44" />
<circle cx="219.2" cy="507.6" r="1.05" fill="#0c5f44" />
<circle cx="219.2" cy="500" r="1.05" fill="#0c5f44" />
<circle cx="219.2" cy="496" r="1.05" fill="#0c5f44" />
<circle cx="219.2" cy="492" r="1.05" fill="#0c5f44" />
<circle cx="219.2" cy="488" r="1.05" fill="#0c5f44" />
<circle cx="219.2" cy="484" r="1.05" fill="#0c5f44" />
<circle cx="143.5" cy="451.6" r="0.75" fill="#2f4f6f" />
<circle cx="146.1" cy="451.6" r="0.75" fill="#2f4f6f" />
<circle cx="148.7" cy="451.6" r="0.75" fill="#2f4f6f" />
<rect x="66.3" y="611.5" width="19.5" height="18.5" fill="#a9baae" />
<rect x="102.8" y="618.5" width="19.2" height="20.8" fill="#a9baae" />
<rect x="139.1" y="616.7" width="19.7" height="19.1" fill="#a9baae" />
<rect x="176.2" y="620.2" width="19" height="19" fill="#a9baae" />
<rect x="212.3" y="613.8" width="19.3" height="13.5" fill="#a9baae" />
<rect x="248.8" y="599.7" width="19.2" height="13.5" fill="#dfe2c6" />
<line x1="258.4" y1="596.6" x2="258.4" y2="617.3" stroke="#b7bb86" stroke-width="0.9" />
<line x1="248.8" y1="607" x2="268" y2="607" stroke="#b7bb86" stroke-width="1.1" />
<circle cx="258.4" cy="646.4" r="0.7" fill="#a8ab90" />
<circle cx="258.4" cy="661.5" r="0.7" fill="#a8ab90" />
<line x1="66.3" y1="621.5" x2="85.8" y2="621.5" stroke="#1d5e47" stroke-width="1.6" />
<line x1="102.8" y1="630" x2="122" y2="630" stroke="#1d5e47" stroke-width="1.6" />
<line x1="139.1" y1="625.4" x2="158.8" y2="625.4" stroke="#1d5e47" stroke-width="1.6" />
<line x1="176.2" y1="626.4" x2="195.2" y2="626.4" stroke="#1d5e47" stroke-width="1.6" />
<line x1="212.3" y1="620.7" x2="231.6" y2="620.7" stroke="#1d5e47" stroke-width="1.6" />
<circle cx="76" cy="643.2" r="1.05" fill="#0c5f44" />
<circle cx="74.4" cy="642" r="1.05" fill="#0c5f44" />
<circle cx="76" cy="639.6" r="1.05" fill="#0c5f44" />
<circle cx="76" cy="637.2" r="1.05" fill="#0c5f44" />
<circle cx="74.4" cy="636" r="1.05" fill="#0c5f44" />
<circle cx="76" cy="634.8" r="1.05" fill="#0c5f44" />
<circle cx="74.4" cy="633.6" r="1.05" fill="#0c5f44" />
<circle cx="76" cy="630" r="1.05" fill="#0c5f44" />
<circle cx="74.4" cy="628.8" r="1.05" fill="#0c5f44" />
<circle cx="77.6" cy="628.8" r="1.05" fill="#0c5f44" />
<circle cx="76" cy="627.6" r="1.05" fill="#0c5f44" />
<circle cx="74.4" cy="626.4" r="1.05" fill="#0c5f44" />
<circle cx="76" cy="625.2" r="1.05" fill="#0c5f44" />
<circle cx="74.4" cy="624" r="1.05" fill="#0c5f44" />
<circle cx="76" cy="622.8" r="1.05" fill="#0c5f44" />
<circle cx="74.4" cy="621.6" r="1.05" fill="#0c5f44" />
<circle cx="77.6" cy="621.6" r="1.05" fill="#0c5f44" />
<circle cx="76" cy="619.2" r="1.05" fill="#0c5f44" />
<circle cx="74.4" cy="618" r="1.05" fill="#0c5f44" />
<circle cx="76" cy="616.8" r="1.05" fill="#0c5f44" />
<circle cx="74.4" cy="615.6" r="1.05" fill="#0c5f44" />
<circle cx="76" cy="614.4" r="1.05" fill="#0c5f44" />
<circle cx="74.4" cy="613.2" r="1.05" fill="#0c5f44" />
<circle cx="76" cy="612" r="1.05" fill="#0c5f44" />
<circle cx="74.4" cy="610.8" r="1.05" fill="#0c5f44" />
<circle cx="76" cy="608.4" r="1.05" fill="#0c5f44" />
<circle cx="74.4" cy="607.2" r="1.05" fill="#0c5f44" />
<circle cx="76" cy="604.8" r="1.05" fill="#0c5f44" />
<circle cx="74.4" cy="603.6" r="1.05" fill="#0c5f44" />
<circle cx="76" cy="602.4" r="1.05" fill="#0c5f44" />
<circle cx="74.4" cy="601.2" r="1.05" fill="#0c5f44" />
<circle cx="76" cy="598.8" r="1.05" fill="#0c5f44" />
<circle cx="112.6" cy="670.8" r="1.05" fill="#0c5f44" />
<circle cx="112.6" cy="667.2" r="1.05" fill="#0c5f44" />
<circle cx="112.6" cy="664.8" r="1.05" fill="#0c5f44" />
<circle cx="112.6" cy="661.2" r="1.05" fill="#0c5f44" />
<circle cx="112.6" cy="658.8" r="1.05" fill="#0c5f44" />
<circle cx="112.6" cy="655.2" r="1.05" fill="#0c5f44" />
<circle cx="112.6" cy="651.6" r="1.05" fill="#0c5f44" />
<circle cx="112.6" cy="649.2" r="1.05" fill="#0c5f44" />
<circle cx="112.6" cy="645.6" r="1.05" fill="#0c5f44" />
<circle cx="112.6" cy="643.2" r="1.05" fill="#0c5f44" />
<circle cx="112.6" cy="639.6" r="1.05" fill="#0c5f44" />
<circle cx="111" cy="638.4" r="1.05" fill="#0c5f44" />
<circle cx="114.2" cy="638.4" r="1.05" fill="#0c5f44" />
<circle cx="112.6" cy="637.2" r="1.05" fill="#0c5f44" />
<circle cx="111" cy="636" r="1.05" fill="#0c5f44" />
<circle cx="114.2" cy="636" r="1.05" fill="#0c5f44" />
<circle cx="112.6" cy="634.8" r="1.05" fill="#0c5f44" />
<circle cx="111" cy="633.6" r="1.05" fill="#0c5f44" />
<circle cx="114.2" cy="633.6" r="1.05" fill="#0c5f44" />
<circle cx="112.6" cy="632.4" r="1.05" fill="#0c5f44" />
<circle cx="111" cy="631.2" r="1.05" fill="#0c5f44" />
<circle cx="112.6" cy="630" r="1.05" fill="#0c5f44" />
<circle cx="111" cy="628.8" r="1.05" fill="#0c5f44" />
<circle cx="114.2" cy="628.8" r="1.05" fill="#0c5f44" />
<circle cx="112.6" cy="627.6" r="1.05" fill="#0c5f44" />
<circle cx="111" cy="626.4" r="1.05" fill="#0c5f44" />
<circle cx="112.6" cy="625.2" r="1.05" fill="#0c5f44" />
<circle cx="111" cy="624" r="1.05" fill="#0c5f44" />
<circle cx="112.6" cy="622.8" r="1.05" fill="#0c5f44" />
<circle cx="111" cy="621.6" r="1.05" fill="#0c5f44" />
<circle cx="114.2" cy="621.6" r="1.05" fill="#0c5f44" />
<circle cx="112.6" cy="620.4" r="1.05" fill="#0c5f44" />
<circle cx="111" cy="619.2" r="1.05" fill="#0c5f44" />
<circle cx="112.6" cy="616.8" r="1.05" fill="#0c5f44" />
<circle cx="111" cy="615.6" r="1.05" fill="#0c5f44" />
<circle cx="112.6" cy="613.2" r="1.05" fill="#0c5f44" />
<circle cx="112.6" cy="610.8" r="1.05" fill="#0c5f44" />
<circle cx="112.6" cy="608.4" r="1.05" fill="#0c5f44" />
<circle cx="112.6" cy="606" r="1.05" fill="#0c5f44" />
<circle cx="112.6" cy="602.4" r="1.05" fill="#0c5f44" />
<circle cx="111" cy="601.2" r="1.05" fill="#0c5f44" />
<circle cx="112.6" cy="598.8" r="1.05" fill="#0c5f44" />
<circle cx="112.6" cy="596.4" r="1.05" fill="#0c5f44" />
<circle cx="112.6" cy="594" r="1.05" fill="#0c5f44" />
<circle cx="149.2" cy="666" r="1.05" fill="#0c5f44" />
<circle cx="149.2" cy="663.6" r="1.05" fill="#0c5f44" />
<circle cx="149.2" cy="657.6" r="1.05" fill="#0c5f44" />
<circle cx="149.2" cy="654" r="1.05" fill="#0c5f44" />
<circle cx="149.2" cy="650.4" r="1.05" fill="#0c5f44" />
<circle cx="149.2" cy="645.6" r="1.05" fill="#0c5f44" />
<circle cx="149.2" cy="642" r="1.05" fill="#0c5f44" />
<circle cx="149.2" cy="639.6" r="1.05" fill="#0c5f44" />
<circle cx="149.2" cy="634.8" r="1.05" fill="#0c5f44" />
<circle cx="147.2" cy="634.8" r="1.05" fill="#0c5f44" />
<circle cx="150.8" cy="633.6" r="1.05" fill="#0c5f44" />
<circle cx="149.2" cy="631.2" r="1.05" fill="#0c5f44" />
<circle cx="147.6" cy="630" r="1.05" fill="#0c5f44" />
<circle cx="149.2" cy="628.8" r="1.05" fill="#0c5f44" />
<circle cx="147.6" cy="627.6" r="1.05" fill="#0c5f44" />
<circle cx="149.2" cy="625.2" r="1.05" fill="#0c5f44" />
<circle cx="147.2" cy="625.2" r="1.05" fill="#0c5f44" />
<circle cx="150.8" cy="624" r="1.05" fill="#0c5f44" />
<circle cx="149.2" cy="622.8" r="1.05" fill="#0c5f44" />
<circle cx="147.6" cy="621.6" r="1.05" fill="#0c5f44" />
<circle cx="149.2" cy="620.4" r="1.05" fill="#0c5f44" />
<circle cx="147.6" cy="619.2" r="1.05" fill="#0c5f44" />
<circle cx="149.2" cy="618" r="1.05" fill="#0c5f44" />
<circle cx="151.2" cy="618" r="1.05" fill="#0c5f44" />
<circle cx="149.2" cy="615.6" r="1.05" fill="#0c5f44" />
<circle cx="149.2" cy="612" r="1.05" fill="#0c5f44" />
<circle cx="149.2" cy="608.4" r="1.05" fill="#0c5f44" />
<circle cx="149.2" cy="606" r="1.05" fill="#0c5f44" />
<circle cx="149.2" cy="602.4" r="1.05" fill="#0c5f44" />
<circle cx="149.2" cy="600" r="1.05" fill="#0c5f44" />
<circle cx="149.2" cy="597.6" r="1.05" fill="#0c5f44" />
<circle cx="149.2" cy="594" r="1.05" fill="#0c5f44" />
<circle cx="185.8" cy="676.8" r="1.05" fill="#0c5f44" />
<circle cx="185.8" cy="673.2" r="1.05" fill="#0c5f44" />
<circle cx="185.8" cy="668.4" r="1.05" fill="#0c5f44" />
<circle cx="185.8" cy="666" r="1.05" fill="#0c5f44" />
<circle cx="185.8" cy="660" r="1.05" fill="#0c5f44" />
<circle cx="185.8" cy="656.4" r="1.05" fill="#0c5f44" />
<circle cx="185.8" cy="651.6" r="1.05" fill="#0c5f44" />
<circle cx="185.8" cy="649.2" r="1.05" fill="#0c5f44" />
<circle cx="185.8" cy="642" r="1.05" fill="#0c5f44" />
<circle cx="185.8" cy="639.6" r="1.05" fill="#0c5f44" />
<circle cx="185.8" cy="637.2" r="1.05" fill="#0c5f44" />
<circle cx="184.2" cy="636" r="1.05" fill="#0c5f44" />
<circle cx="187.4" cy="636" r="1.05" fill="#0c5f44" />
<circle cx="185.8" cy="633.6" r="1.05" fill="#0c5f44" />
<circle cx="184.2" cy="632.4" r="1.05" fill="#0c5f44" />
<circle cx="185.8" cy="631.2" r="1.05" fill="#0c5f44" />
<circle cx="184.2" cy="630" r="1.05" fill="#0c5f44" />
<circle cx="185.8" cy="628.8" r="1.05" fill="#0c5f44" />
<circle cx="184.2" cy="627.6" r="1.05" fill="#0c5f44" />
<circle cx="185.8" cy="626.4" r="1.05" fill="#0c5f44" />
<circle cx="184.2" cy="625.2" r="1.05" fill="#0c5f44" />
<circle cx="187.4" cy="625.2" r="1.05" fill="#0c5f44" />
<circle cx="185.8" cy="624" r="1.05" fill="#0c5f44" />
<circle cx="182.6" cy="624" r="1.05" fill="#0c5f44" />
<circle cx="184.2" cy="622.8" r="1.05" fill="#0c5f44" />
<circle cx="187.4" cy="622.8" r="1.05" fill="#0c5f44" />
<circle cx="185.8" cy="621.6" r="1.05" fill="#0c5f44" />
<circle cx="184.2" cy="620.4" r="1.05" fill="#0c5f44" />
<circle cx="185.8" cy="619.2" r="1.05" fill="#0c5f44" />
<circle cx="185.8" cy="616.8" r="1.05" fill="#0c5f44" />
<circle cx="185.8" cy="614.4" r="1.05" fill="#0c5f44" />
<circle cx="185.8" cy="610.8" r="1.05" fill="#0c5f44" />
<circle cx="185.8" cy="608.4" r="1.05" fill="#0c5f44" />
<circle cx="185.8" cy="606" r="1.05" fill="#0c5f44" />
<circle cx="185.8" cy="602.4" r="1.05" fill="#0c5f44" />
<circle cx="185.8" cy="598.8" r="1.05" fill="#0c5f44" />
<circle cx="185.8" cy="596.4" r="1.05" fill="#0c5f44" />
<circle cx="185.8" cy="592.8" r="1.05" fill="#0c5f44" />
<circle cx="222.4" cy="678" r="1.05" fill="#0c5f44" />
<circle cx="222.4" cy="668.6" r="1.05" fill="#0c5f44" />
<circle cx="222.4" cy="637.2" r="1.05" fill="#0c5f44" />
<circle cx="220.8" cy="636" r="1.05" fill="#0c5f44" />
<circle cx="222.4" cy="634.8" r="1.05" fill="#0c5f44" />
<circle cx="220.8" cy="633.6" r="1.05" fill="#0c5f44" />
<circle cx="222.4" cy="632.4" r="1.05" fill="#0c5f44" />
<circle cx="220.8" cy="631.2" r="1.05" fill="#0c5f44" />
<circle cx="222.4" cy="630" r="1.05" fill="#0c5f44" />
<circle cx="224.4" cy="630" r="1.05" fill="#0c5f44" />
<circle cx="222.4" cy="627.6" r="1.05" fill="#0c5f44" />
<circle cx="220.4" cy="627.6" r="1.05" fill="#0c5f44" />
<circle cx="224" cy="626.4" r="1.05" fill="#0c5f44" />
<circle cx="222.4" cy="625.2" r="1.05" fill="#0c5f44" />
<circle cx="220.4" cy="625.2" r="1.05" fill="#0c5f44" />
<circle cx="224" cy="624" r="1.05" fill="#0c5f44" />
<circle cx="222.4" cy="622.8" r="1.05" fill="#0c5f44" />
<circle cx="220.4" cy="622.8" r="1.05" fill="#0c5f44" />
<circle cx="224" cy="621.6" r="1.05" fill="#0c5f44" />
<circle cx="218.8" cy="621.6" r="1.05" fill="#0c5f44" />
<circle cx="222.4" cy="620.4" r="1.05" fill="#0c5f44" />
<circle cx="220.4" cy="620.4" r="1.05" fill="#0c5f44" />
<circle cx="224" cy="619.2" r="1.05" fill="#0c5f44" />
<circle cx="222.4" cy="618" r="1.05" fill="#0c5f44" />
<circle cx="220.4" cy="618" r="1.05" fill="#0c5f44" />
<circle cx="224" cy="616.8" r="1.05" fill="#0c5f44" />
<circle cx="218.8" cy="616.8" r="1.05" fill="#0c5f44" />
<circle cx="222.4" cy="615.6" r="1.05" fill="#0c5f44" />
<circle cx="220.8" cy="614.4" r="1.05" fill="#0c5f44" />
<circle cx="224" cy="614.4" r="1.05" fill="#0c5f44" />
<circle cx="222.4" cy="613.2" r="1.05" fill="#0c5f44" />
<circle cx="222.4" cy="610.8" r="1.05" fill="#0c5f44" />
<circle cx="220.8" cy="609.6" r="1.05" fill="#0c5f44" />
<circle cx="222.4" cy="607.2" r="1.05" fill="#0c5f44" />
<circle cx="220.8" cy="606" r="1.05" fill="#0c5f44" />
<circle cx="222.4" cy="604.8" r="1.05" fill="#0c5f44" />
<circle cx="222.4" cy="602.4" r="1.05" fill="#0c5f44" />
<circle cx="220.8" cy="601.2" r="1.05" fill="#0c5f44" />
<circle cx="222.4" cy="600" r="1.05" fill="#0c5f44" />
<rect x="382.1" y="218.5" width="11" height="42.7" fill="#a9b5d5" />
<rect x="394.2" y="212.1" width="11" height="24.5" fill="#f4bcb2" />
<rect x="415.6" y="204.9" width="10.6" height="20.2" fill="#a9b5d5" />
<rect x="427.7" y="200" width="10.9" height="15.6" fill="#f4bcb2" />
<rect x="448" y="214.1" width="11" height="38.5" fill="#a9b5d5" />
<rect x="460.3" y="205.4" width="11" height="16.4" fill="#f4bcb2" />
<rect x="481" y="213.5" width="10.7" height="17.4" fill="#a9b5d5" />
<rect x="493.5" y="196.2" width="11.5" height="27.4" fill="#f4bcb2" />
<line x1="382.1" y1="228" x2="393.1" y2="228" stroke="#111b33" stroke-width="1.6" />
<line x1="394.2" y1="218.5" x2="405.2" y2="218.5" stroke="#c41c28" stroke-width="1.6" />
<line x1="415.6" y1="214.4" x2="426.2" y2="214.4" stroke="#111b33" stroke-width="1.6" />
<line x1="427.7" y1="208.7" x2="438.6" y2="208.7" stroke="#c41c28" stroke-width="1.6" />
<line x1="448" y1="219" x2="459" y2="219" stroke="#111b33" stroke-width="1.6" />
<line x1="460.3" y1="212.6" x2="471.3" y2="212.6" stroke="#c41c28" stroke-width="1.6" />
<line x1="481" y1="222.2" x2="491.7" y2="222.2" stroke="#111b33" stroke-width="1.6" />
<line x1="493.5" y1="214.4" x2="505" y2="214.4" stroke="#c41c28" stroke-width="1.6" />
<circle cx="387.6" cy="260.8" r="1" fill="#1c4680" />
<circle cx="385.6" cy="260.8" r="1" fill="#1c4680" />
<circle cx="389.6" cy="260.8" r="1" fill="#1c4680" />
<circle cx="383.6" cy="260.8" r="1" fill="#1c4680" />
<circle cx="391.6" cy="260.8" r="1" fill="#1c4680" />
<circle cx="381.6" cy="260.8" r="1" fill="#1c4680" />
<circle cx="387.6" cy="235.2" r="1" fill="#1c4680" />
<circle cx="387.6" cy="232.8" r="1" fill="#1c4680" />
<circle cx="386" cy="231.6" r="1" fill="#1c4680" />
<circle cx="387.6" cy="229.2" r="1" fill="#1c4680" />
<circle cx="386" cy="228" r="1" fill="#1c4680" />
<circle cx="389.2" cy="228" r="1" fill="#1c4680" />
<circle cx="387.6" cy="226.8" r="1" fill="#1c4680" />
<circle cx="386" cy="225.6" r="1" fill="#1c4680" />
<circle cx="387.6" cy="224.4" r="1" fill="#1c4680" />
<circle cx="387.6" cy="222" r="1" fill="#1c4680" />
<circle cx="387.6" cy="219.6" r="1" fill="#1c4680" />
<circle cx="386" cy="218.4" r="1" fill="#1c4680" />
<circle cx="387.6" cy="216" r="1" fill="#1c4680" />
<circle cx="387.6" cy="213.6" r="1" fill="#1c4680" />
<circle cx="386" cy="212.4" r="1" fill="#1c4680" />
<circle cx="387.6" cy="210" r="1" fill="#1c4680" />
<circle cx="399.7" cy="260.8" r="1" fill="#c81f2c" />
<circle cx="397.7" cy="260.8" r="1" fill="#c81f2c" />
<circle cx="401.7" cy="260.8" r="1" fill="#c81f2c" />
<circle cx="395.7" cy="260.8" r="1" fill="#c81f2c" />
<circle cx="399.7" cy="235.2" r="1" fill="#c81f2c" />
<circle cx="399.7" cy="231.6" r="1" fill="#c81f2c" />
<circle cx="399.7" cy="228" r="1" fill="#c81f2c" />
<circle cx="399.7" cy="223.2" r="1" fill="#c81f2c" />
<circle cx="399.7" cy="218.4" r="1" fill="#c81f2c" />
<circle cx="399.7" cy="214.8" r="1" fill="#c81f2c" />
<circle cx="399.7" cy="208.8" r="1" fill="#c81f2c" />
<circle cx="399.7" cy="205.2" r="1" fill="#c81f2c" />
<circle cx="420.9" cy="260.8" r="1" fill="#1c4680" />
<circle cx="418.9" cy="260.8" r="1" fill="#1c4680" />
<circle cx="422.9" cy="260.8" r="1" fill="#1c4680" />
<circle cx="416.9" cy="260.8" r="1" fill="#1c4680" />
<circle cx="420.9" cy="232.8" r="1" fill="#1c4680" />
<circle cx="420.9" cy="230.4" r="1" fill="#1c4680" />
<circle cx="420.9" cy="228" r="1" fill="#1c4680" />
<circle cx="419.3" cy="226.8" r="1" fill="#1c4680" />
<circle cx="420.9" cy="224.4" r="1" fill="#1c4680" />
<circle cx="419.3" cy="223.2" r="1" fill="#1c4680" />
<circle cx="420.9" cy="220.8" r="1" fill="#1c4680" />
<circle cx="420.9" cy="218.4" r="1" fill="#1c4680" />
<circle cx="419.3" cy="217.2" r="1" fill="#1c4680" />
<circle cx="420.9" cy="214.8" r="1" fill="#1c4680" />
<circle cx="420.9" cy="212.4" r="1" fill="#1c4680" />
<circle cx="420.9" cy="210" r="1" fill="#1c4680" />
<circle cx="420.9" cy="207.6" r="1" fill="#1c4680" />
<circle cx="419.3" cy="206.4" r="1" fill="#1c4680" />
<circle cx="420.9" cy="204" r="1" fill="#1c4680" />
<circle cx="420.9" cy="201.6" r="1" fill="#1c4680" />
<circle cx="420.9" cy="199.2" r="1" fill="#1c4680" />
<circle cx="420.9" cy="196.8" r="1" fill="#1c4680" />
<circle cx="420.9" cy="194.4" r="1" fill="#1c4680" />
<circle cx="420.9" cy="168.8" r="1" fill="#1c4680" />
<circle cx="433.1" cy="260.8" r="1" fill="#c81f2c" />
<circle cx="433.1" cy="223.2" r="1" fill="#c81f2c" />
<circle cx="433.1" cy="219.6" r="1" fill="#c81f2c" />
<circle cx="433.1" cy="216" r="1" fill="#c81f2c" />
<circle cx="431.5" cy="214.8" r="1" fill="#c81f2c" />
<circle cx="433.1" cy="212.4" r="1" fill="#c81f2c" />
<circle cx="431.5" cy="211.2" r="1" fill="#c81f2c" />
<circle cx="433.1" cy="208.8" r="1" fill="#c81f2c" />
<circle cx="433.1" cy="206.4" r="1" fill="#c81f2c" />
<circle cx="433.1" cy="204" r="1" fill="#c81f2c" />
<circle cx="433.1" cy="201.6" r="1" fill="#c81f2c" />
<circle cx="433.1" cy="198" r="1" fill="#c81f2c" />
<circle cx="433.1" cy="193.2" r="1" fill="#c81f2c" />
<circle cx="433.1" cy="187.2" r="1" fill="#c81f2c" />
<circle cx="433.1" cy="160.8" r="1" fill="#c81f2c" />
<circle cx="453.5" cy="260.8" r="1" fill="#1c4680" />
<circle cx="451.5" cy="260.8" r="1" fill="#1c4680" />
<circle cx="455.5" cy="260.8" r="1" fill="#1c4680" />
<circle cx="449.5" cy="260.8" r="1" fill="#1c4680" />
<circle cx="457.5" cy="260.8" r="1" fill="#1c4680" />
<circle cx="447.5" cy="260.8" r="1" fill="#1c4680" />
<circle cx="459.5" cy="260.8" r="1" fill="#1c4680" />
<circle cx="445.5" cy="260.8" r="1" fill="#1c4680" />
<circle cx="461.5" cy="260.8" r="1" fill="#1c4680" />
<circle cx="453.5" cy="228" r="1" fill="#1c4680" />
<circle cx="451.9" cy="226.8" r="1" fill="#1c4680" />
<circle cx="455.1" cy="226.8" r="1" fill="#1c4680" />
<circle cx="453.5" cy="225.6" r="1" fill="#1c4680" />
<circle cx="453.5" cy="223.2" r="1" fill="#1c4680" />
<circle cx="451.9" cy="222" r="1" fill="#1c4680" />
<circle cx="453.5" cy="220.8" r="1" fill="#1c4680" />
<circle cx="451.9" cy="219.6" r="1" fill="#1c4680" />
<circle cx="455.1" cy="219.6" r="1" fill="#1c4680" />
<circle cx="453.5" cy="218.4" r="1" fill="#1c4680" />
<circle cx="453.5" cy="216" r="1" fill="#1c4680" />
<circle cx="451.9" cy="214.8" r="1" fill="#1c4680" />
<circle cx="453.5" cy="213.6" r="1" fill="#1c4680" />
<circle cx="453.5" cy="208.8" r="1" fill="#1c4680" />
<circle cx="453.5" cy="206.4" r="1" fill="#1c4680" />
<circle cx="453.5" cy="201.6" r="1" fill="#1c4680" />
<circle cx="453.5" cy="196.8" r="1" fill="#1c4680" />
<circle cx="465.8" cy="260.8" r="1" fill="#c81f2c" />
<circle cx="463.8" cy="260.8" r="1" fill="#c81f2c" />
<circle cx="465.8" cy="225.6" r="1" fill="#c81f2c" />
<circle cx="465.8" cy="223.2" r="1" fill="#c81f2c" />
<circle cx="464.2" cy="222" r="1" fill="#c81f2c" />
<circle cx="465.8" cy="219.6" r="1" fill="#c81f2c" />
<circle cx="465.8" cy="217.2" r="1" fill="#c81f2c" />
<circle cx="465.8" cy="213.6" r="1" fill="#c81f2c" />
<circle cx="465.8" cy="211.2" r="1" fill="#c81f2c" />
<circle cx="465.8" cy="208.8" r="1" fill="#c81f2c" />
<circle cx="464.2" cy="207.6" r="1" fill="#c81f2c" />
<circle cx="465.8" cy="200.4" r="1" fill="#c81f2c" />
<circle cx="465.8" cy="195.6" r="1" fill="#c81f2c" />
<circle cx="465.8" cy="186" r="1" fill="#c81f2c" />
<circle cx="486.3" cy="260.8" r="1" fill="#1c4680" />
<circle cx="484.3" cy="260.8" r="1" fill="#1c4680" />
<circle cx="488.3" cy="260.8" r="1" fill="#1c4680" />
<circle cx="482.3" cy="260.8" r="1" fill="#1c4680" />
<circle cx="490.3" cy="260.8" r="1" fill="#1c4680" />
<circle cx="480.3" cy="260.8" r="1" fill="#1c4680" />
<circle cx="492.3" cy="260.8" r="1" fill="#1c4680" />
<circle cx="486.3" cy="254" r="1" fill="#1c4680" />
<circle cx="486.3" cy="231.6" r="1" fill="#1c4680" />
<circle cx="484.3" cy="231.6" r="1" fill="#1c4680" />
<circle cx="487.9" cy="230.4" r="1" fill="#1c4680" />
<circle cx="486.3" cy="229.2" r="1" fill="#1c4680" />
<circle cx="484.7" cy="228" r="1" fill="#1c4680" />
<circle cx="486.3" cy="226.8" r="1" fill="#1c4680" />
<circle cx="484.7" cy="225.6" r="1" fill="#1c4680" />
<circle cx="486.3" cy="224.4" r="1" fill="#1c4680" />
<circle cx="486.3" cy="222" r="1" fill="#1c4680" />
<circle cx="486.3" cy="219.6" r="1" fill="#1c4680" />
<circle cx="484.7" cy="218.4" r="1" fill="#1c4680" />
<circle cx="486.3" cy="216" r="1" fill="#1c4680" />
<circle cx="486.3" cy="213.6" r="1" fill="#1c4680" />
<circle cx="486.3" cy="211.2" r="1" fill="#1c4680" />
<circle cx="486.3" cy="208.8" r="1" fill="#1c4680" />
<circle cx="486.3" cy="205.2" r="1" fill="#1c4680" />
<circle cx="486.3" cy="201.6" r="1" fill="#1c4680" />
<circle cx="499.2" cy="223.2" r="1" fill="#c81f2c" />
<circle cx="497.2" cy="223.2" r="1" fill="#c81f2c" />
<circle cx="500.8" cy="222" r="1" fill="#c81f2c" />
<circle cx="495.6" cy="222" r="1" fill="#c81f2c" />
<circle cx="499.2" cy="219.6" r="1" fill="#c81f2c" />
<circle cx="499.2" cy="216" r="1" fill="#c81f2c" />
<circle cx="499.2" cy="213.6" r="1" fill="#c81f2c" />
<circle cx="499.2" cy="210" r="1" fill="#c81f2c" />
<circle cx="499.2" cy="205.2" r="1" fill="#c81f2c" />
<circle cx="499.2" cy="199.2" r="1" fill="#c81f2c" />
<circle cx="499.2" cy="194.4" r="1" fill="#c81f2c" />
<circle cx="499.2" cy="190.8" r="1" fill="#c81f2c" />
<circle cx="499.2" cy="187.2" r="1" fill="#c81f2c" />
<circle cx="499.2" cy="174.6" r="1" fill="#c81f2c" />
<circle cx="491.3" cy="156.8" r="0.75" fill="#1c4680" />
<circle cx="493.9" cy="156.8" r="0.75" fill="#1c4680" />
<rect x="382.1" y="373" width="11" height="17.3" fill="#a9b5d5" />
<rect x="394.2" y="362.9" width="11" height="23.6" fill="#f4bcb2" />
<rect x="415.6" y="362.3" width="10.6" height="22.2" fill="#a9b5d5" />
<rect x="427.7" y="351.9" width="10.9" height="21.1" fill="#f4bcb2" />
<rect x="448" y="377.3" width="11" height="15" fill="#a9b5d5" />
<rect x="460.3" y="360.6" width="11" height="21.9" fill="#f4bcb2" />
<rect x="481" y="382.5" width="10.7" height="11.5" fill="#a9b5d5" />
<rect x="493.5" y="367.2" width="11.5" height="18.8" fill="#f4bcb2" />
<line x1="382.1" y1="380.8" x2="393.1" y2="380.8" stroke="#111b33" stroke-width="1.6" />
<line x1="394.2" y1="377.9" x2="405.2" y2="377.9" stroke="#c41c28" stroke-width="1.6" />
<line x1="415.6" y1="369.2" x2="426.2" y2="369.2" stroke="#111b33" stroke-width="1.6" />
<line x1="427.7" y1="365.2" x2="438.6" y2="365.2" stroke="#c41c28" stroke-width="1.6" />
<line x1="448" y1="386.5" x2="459" y2="386.5" stroke="#111b33" stroke-width="1.6" />
<line x1="460.3" y1="368.6" x2="471.3" y2="368.6" stroke="#c41c28" stroke-width="1.6" />
<line x1="481" y1="390.3" x2="491.7" y2="390.3" stroke="#111b33" stroke-width="1.6" />
<line x1="493.5" y1="377.9" x2="505" y2="377.9" stroke="#c41c28" stroke-width="1.6" />
<circle cx="387.6" cy="399.6" r="1" fill="#1c4680" />
<circle cx="387.6" cy="397.2" r="1" fill="#1c4680" />
<circle cx="385.6" cy="397.2" r="1" fill="#1c4680" />
<circle cx="387.6" cy="394.8" r="1" fill="#1c4680" />
<circle cx="386" cy="393.6" r="1" fill="#1c4680" />
<circle cx="387.6" cy="391.2" r="1" fill="#1c4680" />
<circle cx="386" cy="390" r="1" fill="#1c4680" />
<circle cx="387.6" cy="388.8" r="1" fill="#1c4680" />
<circle cx="387.6" cy="386.4" r="1" fill="#1c4680" />
<circle cx="386" cy="385.2" r="1" fill="#1c4680" />
<circle cx="387.6" cy="384" r="1" fill="#1c4680" />
<circle cx="386" cy="382.8" r="1" fill="#1c4680" />
<circle cx="387.6" cy="381.6" r="1" fill="#1c4680" />
<circle cx="386" cy="380.4" r="1" fill="#1c4680" />
<circle cx="387.6" cy="379.2" r="1" fill="#1c4680" />
<circle cx="386" cy="378" r="1" fill="#1c4680" />
<circle cx="387.6" cy="376.8" r="1" fill="#1c4680" />
<circle cx="386" cy="375.6" r="1" fill="#1c4680" />
<circle cx="387.6" cy="374.4" r="1" fill="#1c4680" />
<circle cx="387.6" cy="372" r="1" fill="#1c4680" />
<circle cx="386" cy="370.8" r="1" fill="#1c4680" />
<circle cx="387.6" cy="368.4" r="1" fill="#1c4680" />
<circle cx="387.6" cy="366" r="1" fill="#1c4680" />
<circle cx="387.6" cy="362.4" r="1" fill="#1c4680" />
<circle cx="387.6" cy="360" r="1" fill="#1c4680" />
<circle cx="387.6" cy="357.6" r="1" fill="#1c4680" />
<circle cx="399.7" cy="403.3" r="1" fill="#c81f2c" />
<circle cx="399.7" cy="386.4" r="1" fill="#c81f2c" />
<circle cx="398.1" cy="385.2" r="1" fill="#c81f2c" />
<circle cx="399.7" cy="384" r="1" fill="#c81f2c" />
<circle cx="398.1" cy="382.8" r="1" fill="#c81f2c" />
<circle cx="399.7" cy="381.6" r="1" fill="#c81f2c" />
<circle cx="398.1" cy="380.4" r="1" fill="#c81f2c" />
<circle cx="399.7" cy="378" r="1" fill="#c81f2c" />
<circle cx="399.7" cy="373.2" r="1" fill="#c81f2c" />
<circle cx="399.7" cy="367.2" r="1" fill="#c81f2c" />
<circle cx="399.7" cy="363.6" r="1" fill="#c81f2c" />
<circle cx="399.7" cy="358.8" r="1" fill="#c81f2c" />
<circle cx="399.7" cy="352.8" r="1" fill="#c81f2c" />
<circle cx="399.7" cy="348" r="1" fill="#c81f2c" />
<circle cx="420.9" cy="394.8" r="1" fill="#1c4680" />
<circle cx="419.3" cy="393.6" r="1" fill="#1c4680" />
<circle cx="420.9" cy="390" r="1" fill="#1c4680" />
<circle cx="420.9" cy="387.6" r="1" fill="#1c4680" />
<circle cx="419.3" cy="386.4" r="1" fill="#1c4680" />
<circle cx="420.9" cy="382.8" r="1" fill="#1c4680" />
<circle cx="420.9" cy="380.4" r="1" fill="#1c4680" />
<circle cx="420.9" cy="378" r="1" fill="#1c4680" />
<circle cx="420.9" cy="375.6" r="1" fill="#1c4680" />
<circle cx="420.9" cy="372" r="1" fill="#1c4680" />
<circle cx="420.9" cy="369.6" r="1" fill="#1c4680" />
<circle cx="419.3" cy="368.4" r="1" fill="#1c4680" />
<circle cx="420.9" cy="366" r="1" fill="#1c4680" />
<circle cx="419.3" cy="364.8" r="1" fill="#1c4680" />
<circle cx="420.9" cy="363.6" r="1" fill="#1c4680" />
<circle cx="419.3" cy="362.4" r="1" fill="#1c4680" />
<circle cx="420.9" cy="361.2" r="1" fill="#1c4680" />
<circle cx="419.3" cy="360" r="1" fill="#1c4680" />
<circle cx="420.9" cy="358.8" r="1" fill="#1c4680" />
<circle cx="419.3" cy="357.6" r="1" fill="#1c4680" />
<circle cx="420.9" cy="356.4" r="1" fill="#1c4680" />
<circle cx="420.9" cy="338.4" r="1" fill="#1c4680" />
<circle cx="420.9" cy="335.5" r="1" fill="#1c4680" />
<circle cx="420.9" cy="316.2" r="1" fill="#1c4680" />
<circle cx="433.1" cy="392.4" r="1" fill="#c81f2c" />
<circle cx="433.1" cy="385.2" r="1" fill="#c81f2c" />
<circle cx="433.1" cy="379.2" r="1" fill="#c81f2c" />
<circle cx="433.1" cy="372" r="1" fill="#c81f2c" />
<circle cx="431.5" cy="370.8" r="1" fill="#c81f2c" />
<circle cx="433.1" cy="368.4" r="1" fill="#c81f2c" />
<circle cx="433.1" cy="366" r="1" fill="#c81f2c" />
<circle cx="433.1" cy="363.6" r="1" fill="#c81f2c" />
<circle cx="433.1" cy="360" r="1" fill="#c81f2c" />
<circle cx="433.1" cy="355.2" r="1" fill="#c81f2c" />
<circle cx="433.1" cy="351.6" r="1" fill="#c81f2c" />
<circle cx="433.1" cy="349.2" r="1" fill="#c81f2c" />
<circle cx="433.1" cy="345.6" r="1" fill="#c81f2c" />
<circle cx="433.1" cy="340.8" r="1" fill="#c81f2c" />
<circle cx="433.1" cy="298.8" r="1" fill="#c81f2c" />
<circle cx="453.5" cy="399.6" r="1" fill="#1c4680" />
<circle cx="451.9" cy="398.4" r="1" fill="#1c4680" />
<circle cx="453.5" cy="397.2" r="1" fill="#1c4680" />
<circle cx="451.9" cy="396" r="1" fill="#1c4680" />
<circle cx="453.5" cy="394.8" r="1" fill="#1c4680" />
<circle cx="451.9" cy="393.6" r="1" fill="#1c4680" />
<circle cx="453.5" cy="391.2" r="1" fill="#1c4680" />
<circle cx="451.5" cy="391.2" r="1" fill="#1c4680" />
<circle cx="455.1" cy="390" r="1" fill="#1c4680" />
<circle cx="453.5" cy="388.8" r="1" fill="#1c4680" />
<circle cx="451.5" cy="388.8" r="1" fill="#1c4680" />
<circle cx="455.1" cy="387.6" r="1" fill="#1c4680" />
<circle cx="449.9" cy="387.6" r="1" fill="#1c4680" />
<circle cx="453.5" cy="385.2" r="1" fill="#1c4680" />
<circle cx="451.9" cy="384" r="1" fill="#1c4680" />
<circle cx="453.5" cy="382.8" r="1" fill="#1c4680" />
<circle cx="453.5" cy="380.4" r="1" fill="#1c4680" />
<circle cx="451.5" cy="380.4" r="1" fill="#1c4680" />
<circle cx="455.1" cy="379.2" r="1" fill="#1c4680" />
<circle cx="453.5" cy="376.8" r="1" fill="#1c4680" />
<circle cx="453.5" cy="372" r="1" fill="#1c4680" />
<circle cx="453.5" cy="368.4" r="1" fill="#1c4680" />
<circle cx="453.5" cy="366" r="1" fill="#1c4680" />
<circle cx="453.5" cy="362.4" r="1" fill="#1c4680" />
<circle cx="453.5" cy="358.8" r="1" fill="#1c4680" />
<circle cx="453.5" cy="355.2" r="1" fill="#1c4680" />
<circle cx="465.8" cy="396" r="1" fill="#c81f2c" />
<circle cx="465.8" cy="393.6" r="1" fill="#c81f2c" />
<circle cx="465.8" cy="386.4" r="1" fill="#c81f2c" />
<circle cx="465.8" cy="381.6" r="1" fill="#c81f2c" />
<circle cx="465.8" cy="378" r="1" fill="#c81f2c" />
<circle cx="465.8" cy="373.2" r="1" fill="#c81f2c" />
<circle cx="465.8" cy="370.8" r="1" fill="#c81f2c" />
<circle cx="465.8" cy="367.2" r="1" fill="#c81f2c" />
<circle cx="464.2" cy="366" r="1" fill="#c81f2c" />
<circle cx="465.8" cy="363.6" r="1" fill="#c81f2c" />
<circle cx="465.8" cy="358.8" r="1" fill="#c81f2c" />
<circle cx="465.8" cy="354" r="1" fill="#c81f2c" />
<circle cx="465.8" cy="345.6" r="1" fill="#c81f2c" />
<circle cx="465.8" cy="333.6" r="1" fill="#c81f2c" />
<circle cx="486.3" cy="399.6" r="1" fill="#1c4680" />
<circle cx="484.3" cy="399.6" r="1" fill="#1c4680" />
<circle cx="487.9" cy="398.4" r="1" fill="#1c4680" />
<circle cx="486.3" cy="397.2" r="1" fill="#1c4680" />
<circle cx="484.7" cy="396" r="1" fill="#1c4680" />
<circle cx="486.3" cy="394.8" r="1" fill="#1c4680" />
<circle cx="484.7" cy="393.6" r="1" fill="#1c4680" />
<circle cx="487.9" cy="393.6" r="1" fill="#1c4680" />
<circle cx="482.7" cy="393.6" r="1" fill="#1c4680" />
<circle cx="486.3" cy="392.4" r="1" fill="#1c4680" />
<circle cx="489.5" cy="392.4" r="1" fill="#1c4680" />
<circle cx="487.9" cy="391.2" r="1" fill="#1c4680" />
<circle cx="484.7" cy="391.2" r="1" fill="#1c4680" />
<circle cx="486.3" cy="390" r="1" fill="#1c4680" />
<circle cx="484.7" cy="388.8" r="1" fill="#1c4680" />
<circle cx="486.3" cy="387.6" r="1" fill="#1c4680" />
<circle cx="484.7" cy="386.4" r="1" fill="#1c4680" />
<circle cx="486.3" cy="385.2" r="1" fill="#1c4680" />
<circle cx="484.7" cy="384" r="1" fill="#1c4680" />
<circle cx="486.3" cy="382.8" r="1" fill="#1c4680" />
<circle cx="484.7" cy="381.6" r="1" fill="#1c4680" />
<circle cx="486.3" cy="379.2" r="1" fill="#1c4680" />
<circle cx="486.3" cy="373.2" r="1" fill="#1c4680" />
<circle cx="486.3" cy="370.8" r="1" fill="#1c4680" />
<circle cx="486.3" cy="367.2" r="1" fill="#1c4680" />
<circle cx="486.3" cy="363.6" r="1" fill="#1c4680" />
<circle cx="486.3" cy="358.8" r="1" fill="#1c4680" />
<circle cx="499.2" cy="396" r="1" fill="#c81f2c" />
<circle cx="499.2" cy="392.4" r="1" fill="#c81f2c" />
<circle cx="499.2" cy="388.8" r="1" fill="#c81f2c" />
<circle cx="499.2" cy="386.4" r="1" fill="#c81f2c" />
<circle cx="499.2" cy="382.8" r="1" fill="#c81f2c" />
<circle cx="499.2" cy="380.4" r="1" fill="#c81f2c" />
<circle cx="499.2" cy="378" r="1" fill="#c81f2c" />
<circle cx="499.2" cy="374.4" r="1" fill="#c81f2c" />
<circle cx="499.2" cy="370.8" r="1" fill="#c81f2c" />
<circle cx="499.2" cy="368.4" r="1" fill="#c81f2c" />
<circle cx="499.2" cy="358.8" r="1" fill="#c81f2c" />
<circle cx="499.2" cy="340.8" r="1" fill="#c81f2c" />
<circle cx="499.2" cy="332.6" r="1" fill="#c81f2c" />
<circle cx="499.2" cy="328.8" r="1" fill="#c81f2c" />
<circle cx="490" cy="307.6" r="0.75" fill="#1c4680" />
<circle cx="492.6" cy="307.6" r="0.75" fill="#1c4680" />
<circle cx="495.2" cy="307.6" r="0.75" fill="#1c4680" />
<rect x="382.1" y="514.2" width="11" height="32.6" fill="#a9b5d5" />
<rect x="394.2" y="516.5" width="11" height="30.3" fill="#f4bcb2" />
<rect x="415.6" y="505.6" width="10.6" height="33.4" fill="#a9b5d5" />
<rect x="427.7" y="490" width="10.9" height="30.9" fill="#f4bcb2" />
<rect x="448" y="520.3" width="11" height="26.5" fill="#a9b5d5" />
<rect x="460.3" y="499.8" width="11" height="47" fill="#f4bcb2" />
<rect x="481" y="529.5" width="10.7" height="12.9" fill="#a9b5d5" />
<rect x="493.5" y="507.3" width="11.1" height="34.2" fill="#f4bcb2" />
<line x1="382.1" y1="534.7" x2="393.1" y2="534.7" stroke="#111b33" stroke-width="1.6" />
<line x1="394.2" y1="533" x2="405.2" y2="533" stroke="#c41c28" stroke-width="1.6" />
<line x1="415.6" y1="517.1" x2="426.2" y2="517.1" stroke="#111b33" stroke-width="1.6" />
<line x1="427.7" y1="511.3" x2="438.6" y2="511.3" stroke="#c41c28" stroke-width="1.6" />
<line x1="448" y1="537.3" x2="459" y2="537.3" stroke="#111b33" stroke-width="1.6" />
<line x1="460.3" y1="525.2" x2="471.3" y2="525.2" stroke="#c41c28" stroke-width="1.6" />
<line x1="481" y1="541.9" x2="491.7" y2="541.9" stroke="#111b33" stroke-width="1.6" />
<line x1="493.5" y1="522.9" x2="504.6" y2="522.9" stroke="#c41c28" stroke-width="1.6" />
<circle cx="387.6" cy="546.8" r="1" fill="#1c4680" />
<circle cx="385.6" cy="546.8" r="1" fill="#1c4680" />
<circle cx="389.6" cy="546.8" r="1" fill="#1c4680" />
<circle cx="383.6" cy="546.8" r="1" fill="#1c4680" />
<circle cx="391.6" cy="546.8" r="1" fill="#1c4680" />
<circle cx="381.6" cy="546.8" r="1" fill="#1c4680" />
<circle cx="393.6" cy="546.8" r="1" fill="#1c4680" />
<circle cx="387.6" cy="538.8" r="1" fill="#1c4680" />
<circle cx="386" cy="537.6" r="1" fill="#1c4680" />
<circle cx="387.6" cy="536.4" r="1" fill="#1c4680" />
<circle cx="387.6" cy="534" r="1" fill="#1c4680" />
<circle cx="387.6" cy="531.6" r="1" fill="#1c4680" />
<circle cx="387.6" cy="529.2" r="1" fill="#1c4680" />
<circle cx="386" cy="528" r="1" fill="#1c4680" />
<circle cx="387.6" cy="525.6" r="1" fill="#1c4680" />
<circle cx="387.6" cy="522" r="1" fill="#1c4680" />
<circle cx="387.6" cy="517.2" r="1" fill="#1c4680" />
<circle cx="387.6" cy="512.4" r="1" fill="#1c4680" />
<circle cx="387.6" cy="508.8" r="1" fill="#1c4680" />
<circle cx="387.6" cy="502.8" r="1" fill="#1c4680" />
<circle cx="387.6" cy="500.4" r="1" fill="#1c4680" />
<circle cx="387.6" cy="494.4" r="1" fill="#1c4680" />
<circle cx="399.7" cy="546.8" r="1" fill="#c81f2c" />
<circle cx="397.7" cy="546.8" r="1" fill="#c81f2c" />
<circle cx="401.7" cy="546.8" r="1" fill="#c81f2c" />
<circle cx="395.7" cy="546.8" r="1" fill="#c81f2c" />
<circle cx="403.7" cy="546.8" r="1" fill="#c81f2c" />
<circle cx="399.7" cy="532.8" r="1" fill="#c81f2c" />
<circle cx="398.1" cy="531.6" r="1" fill="#c81f2c" />
<circle cx="399.7" cy="526.8" r="1" fill="#c81f2c" />
<circle cx="399.7" cy="520.8" r="1" fill="#c81f2c" />
<circle cx="399.7" cy="518.4" r="1" fill="#c81f2c" />
<circle cx="399.7" cy="511.2" r="1" fill="#c81f2c" />
<circle cx="399.7" cy="505.2" r="1" fill="#c81f2c" />
<circle cx="399.7" cy="501.6" r="1" fill="#c81f2c" />
<circle cx="420.9" cy="546.8" r="1" fill="#1c4680" />
<circle cx="418.9" cy="546.8" r="1" fill="#1c4680" />
<circle cx="422.9" cy="546.8" r="1" fill="#1c4680" />
<circle cx="416.9" cy="546.8" r="1" fill="#1c4680" />
<circle cx="424.9" cy="546.8" r="1" fill="#1c4680" />
<circle cx="420.9" cy="538.8" r="1" fill="#1c4680" />
<circle cx="420.9" cy="536.4" r="1" fill="#1c4680" />
<circle cx="419.3" cy="535.2" r="1" fill="#1c4680" />
<circle cx="420.9" cy="532.8" r="1" fill="#1c4680" />
<circle cx="420.9" cy="530.4" r="1" fill="#1c4680" />
<circle cx="420.9" cy="526.8" r="1" fill="#1c4680" />
<circle cx="420.9" cy="524.4" r="1" fill="#1c4680" />
<circle cx="420.9" cy="520.8" r="1" fill="#1c4680" />
<circle cx="420.9" cy="517.2" r="1" fill="#1c4680" />
<circle cx="420.9" cy="512.4" r="1" fill="#1c4680" />
<circle cx="419.3" cy="511.2" r="1" fill="#1c4680" />
<circle cx="420.9" cy="507.6" r="1" fill="#1c4680" />
<circle cx="420.9" cy="504" r="1" fill="#1c4680" />
<circle cx="420.9" cy="499.2" r="1" fill="#1c4680" />
<circle cx="420.9" cy="493.2" r="1" fill="#1c4680" />
<circle cx="420.9" cy="489.6" r="1" fill="#1c4680" />
<circle cx="420.9" cy="483.6" r="1" fill="#1c4680" />
<circle cx="420.9" cy="476.4" r="1" fill="#1c4680" />
<circle cx="420.9" cy="457.4" r="1" fill="#1c4680" />
<circle cx="419.11" cy="456.5" r="1" fill="#1c4680" />
<circle cx="433.1" cy="546.8" r="1" fill="#c81f2c" />
<circle cx="433.1" cy="536.4" r="1" fill="#c81f2c" />
<circle cx="433.1" cy="530.4" r="1" fill="#c81f2c" />
<circle cx="433.1" cy="525.6" r="1" fill="#c81f2c" />
<circle cx="433.1" cy="519.6" r="1" fill="#c81f2c" />
<circle cx="433.1" cy="516" r="1" fill="#c81f2c" />
<circle cx="433.1" cy="513.6" r="1" fill="#c81f2c" />
<circle cx="433.1" cy="511.2" r="1" fill="#c81f2c" />
<circle cx="433.1" cy="506.4" r="1" fill="#c81f2c" />
<circle cx="433.1" cy="500.4" r="1" fill="#c81f2c" />
<circle cx="433.1" cy="496.8" r="1" fill="#c81f2c" />
<circle cx="433.1" cy="488.4" r="1" fill="#c81f2c" />
<circle cx="433.1" cy="481.2" r="1" fill="#c81f2c" />
<circle cx="433.1" cy="474" r="1" fill="#c81f2c" />
<circle cx="433.1" cy="442" r="1" fill="#c81f2c" />
<circle cx="453.5" cy="546.8" r="1" fill="#1c4680" />
<circle cx="451.5" cy="546.8" r="1" fill="#1c4680" />
<circle cx="455.5" cy="546.8" r="1" fill="#1c4680" />
<circle cx="449.5" cy="546.8" r="1" fill="#1c4680" />
<circle cx="457.5" cy="546.8" r="1" fill="#1c4680" />
<circle cx="447.5" cy="546.8" r="1" fill="#1c4680" />
<circle cx="459.5" cy="546.8" r="1" fill="#1c4680" />
<circle cx="445.5" cy="546.8" r="1" fill="#1c4680" />
<circle cx="461.5" cy="546.8" r="1" fill="#1c4680" />
<circle cx="443.5" cy="546.8" r="1" fill="#1c4680" />
<circle cx="453.5" cy="538.8" r="1" fill="#1c4680" />
<circle cx="451.9" cy="537.6" r="1" fill="#1c4680" />
<circle cx="453.5" cy="536.4" r="1" fill="#1c4680" />
<circle cx="451.9" cy="535.2" r="1" fill="#1c4680" />
<circle cx="453.5" cy="534" r="1" fill="#1c4680" />
<circle cx="453.5" cy="531.6" r="1" fill="#1c4680" />
<circle cx="453.5" cy="529.2" r="1" fill="#1c4680" />
<circle cx="453.5" cy="525.6" r="1" fill="#1c4680" />
<circle cx="453.5" cy="523.2" r="1" fill="#1c4680" />
<circle cx="453.5" cy="519.6" r="1" fill="#1c4680" />
<circle cx="453.5" cy="517.2" r="1" fill="#1c4680" />
<circle cx="453.5" cy="512.4" r="1" fill="#1c4680" />
<circle cx="453.5" cy="507.6" r="1" fill="#1c4680" />
<circle cx="453.5" cy="500.4" r="1" fill="#1c4680" />
<circle cx="453.5" cy="493.2" r="1" fill="#1c4680" />
<circle cx="453.5" cy="481.2" r="1" fill="#1c4680" />
<circle cx="465.8" cy="546.8" r="1" fill="#c81f2c" />
<circle cx="463.8" cy="546.8" r="1" fill="#c81f2c" />
<circle cx="467.8" cy="546.8" r="1" fill="#c81f2c" />
<circle cx="461.8" cy="546.8" r="1" fill="#c81f2c" />
<circle cx="465.8" cy="537.6" r="1" fill="#c81f2c" />
<circle cx="465.8" cy="532.8" r="1" fill="#c81f2c" />
<circle cx="465.8" cy="530.4" r="1" fill="#c81f2c" />
<circle cx="465.8" cy="525.6" r="1" fill="#c81f2c" />
<circle cx="465.8" cy="522" r="1" fill="#c81f2c" />
<circle cx="465.8" cy="516" r="1" fill="#c81f2c" />
<circle cx="465.8" cy="510" r="1" fill="#c81f2c" />
<circle cx="465.8" cy="501.6" r="1" fill="#c81f2c" />
<circle cx="465.8" cy="493.2" r="1" fill="#c81f2c" />
<circle cx="465.8" cy="484.8" r="1" fill="#c81f2c" />
<circle cx="486.3" cy="546.8" r="1" fill="#1c4680" />
<circle cx="484.3" cy="546.8" r="1" fill="#1c4680" />
<circle cx="488.3" cy="546.8" r="1" fill="#1c4680" />
<circle cx="482.3" cy="546.8" r="1" fill="#1c4680" />
<circle cx="490.3" cy="546.8" r="1" fill="#1c4680" />
<circle cx="480.3" cy="546.8" r="1" fill="#1c4680" />
<circle cx="492.3" cy="546.8" r="1" fill="#1c4680" />
<circle cx="478.3" cy="546.8" r="1" fill="#1c4680" />
<circle cx="494.3" cy="546.8" r="1" fill="#1c4680" />
<circle cx="476.3" cy="546.8" r="1" fill="#1c4680" />
<circle cx="496.3" cy="546.8" r="1" fill="#1c4680" />
<circle cx="474.3" cy="546.8" r="1" fill="#1c4680" />
<circle cx="486.3" cy="542.4" r="1" fill="#1c4680" />
<circle cx="486.3" cy="540" r="1" fill="#1c4680" />
<circle cx="484.7" cy="538.8" r="1" fill="#1c4680" />
<circle cx="486.3" cy="536.4" r="1" fill="#1c4680" />
<circle cx="486.3" cy="534" r="1" fill="#1c4680" />
<circle cx="486.3" cy="531.6" r="1" fill="#1c4680" />
<circle cx="486.3" cy="525.6" r="1" fill="#1c4680" />
<circle cx="486.3" cy="520.8" r="1" fill="#1c4680" />
<circle cx="486.3" cy="517.2" r="1" fill="#1c4680" />
<circle cx="486.3" cy="513.6" r="1" fill="#1c4680" />
<circle cx="486.3" cy="501.6" r="1" fill="#1c4680" />
<circle cx="486.3" cy="496.8" r="1" fill="#1c4680" />
<circle cx="486.3" cy="453.7" r="1" fill="#1c4680" />
<circle cx="499.2" cy="546.8" r="1" fill="#c81f2c" />
<circle cx="497.2" cy="546.8" r="1" fill="#c81f2c" />
<circle cx="501.2" cy="546.8" r="1" fill="#c81f2c" />
<circle cx="495.2" cy="546.8" r="1" fill="#c81f2c" />
<circle cx="499.2" cy="528" r="1" fill="#c81f2c" />
<circle cx="499.2" cy="525.6" r="1" fill="#c81f2c" />
<circle cx="499.2" cy="523.2" r="1" fill="#c81f2c" />
<circle cx="497.2" cy="523.2" r="1" fill="#c81f2c" />
<circle cx="499.2" cy="520.8" r="1" fill="#c81f2c" />
<circle cx="499.2" cy="518.4" r="1" fill="#c81f2c" />
<circle cx="499.2" cy="511.2" r="1" fill="#c81f2c" />
<circle cx="499.2" cy="504" r="1" fill="#c81f2c" />
<circle cx="499.2" cy="495.6" r="1" fill="#c81f2c" />
<circle cx="499.2" cy="490.8" r="1" fill="#c81f2c" />
<rect x="348.8" y="612.5" width="11.2" height="12" fill="#a9b5d5" />
<rect x="361.2" y="618" width="10.8" height="23.3" fill="#f4bcb2" />
<rect x="382.1" y="621.9" width="11" height="21.7" fill="#a9b5d5" />
<rect x="394.2" y="606" width="11" height="28.9" fill="#f4bcb2" />
<rect x="414.7" y="618.2" width="11" height="13.2" fill="#a9b5d5" />
<rect x="427.1" y="623.4" width="11.3" height="27.4" fill="#f4bcb2" />
<rect x="448" y="614.1" width="11" height="22.8" fill="#a9b5d5" />
<rect x="460.3" y="627.1" width="11" height="29.4" fill="#f4bcb2" />
<rect x="481" y="613.3" width="10.7" height="12.9" fill="#a9b5d5" />
<rect x="493.5" y="619" width="11.5" height="18.8" fill="#f4bcb2" />
<line x1="348.8" y1="620.8" x2="360" y2="620.8" stroke="#111b33" stroke-width="1.6" />
<line x1="361.2" y1="631.3" x2="372" y2="631.3" stroke="#c41c28" stroke-width="1.6" />
<line x1="382.1" y1="633.5" x2="393.1" y2="633.5" stroke="#111b33" stroke-width="1.6" />
<line x1="394.2" y1="620.5" x2="405.2" y2="620.5" stroke="#c41c28" stroke-width="1.6" />
<line x1="414.7" y1="619.6" x2="425.7" y2="619.6" stroke="#111b33" stroke-width="1.6" />
<line x1="427.1" y1="634.9" x2="438.4" y2="634.9" stroke="#c41c28" stroke-width="1.6" />
<line x1="448" y1="626.2" x2="459" y2="626.2" stroke="#111b33" stroke-width="1.6" />
<line x1="460.3" y1="630" x2="471.3" y2="630" stroke="#c41c28" stroke-width="1.6" />
<line x1="481" y1="621.3" x2="491.7" y2="621.3" stroke="#111b33" stroke-width="1.6" />
<line x1="493.5" y1="624.8" x2="505" y2="624.8" stroke="#c41c28" stroke-width="1.6" />
<circle cx="354.4" cy="638.4" r="1" fill="#1c4680" />
<circle cx="354.4" cy="636" r="1" fill="#1c4680" />
<circle cx="354.4" cy="632.4" r="1" fill="#1c4680" />
<circle cx="354.4" cy="628.8" r="1" fill="#1c4680" />
<circle cx="354.4" cy="626.4" r="1" fill="#1c4680" />
<circle cx="354.4" cy="624" r="1" fill="#1c4680" />
<circle cx="352.8" cy="622.8" r="1" fill="#1c4680" />
<circle cx="356" cy="622.8" r="1" fill="#1c4680" />
<circle cx="354.4" cy="621.6" r="1" fill="#1c4680" />
<circle cx="351.2" cy="621.6" r="1" fill="#1c4680" />
<circle cx="354.4" cy="619.2" r="1" fill="#1c4680" />
<circle cx="352.4" cy="619.2" r="1" fill="#1c4680" />
<circle cx="354.4" cy="616.8" r="1" fill="#1c4680" />
<circle cx="352.8" cy="615.6" r="1" fill="#1c4680" />
<circle cx="354.4" cy="613.2" r="1" fill="#1c4680" />
<circle cx="354.4" cy="610.8" r="1" fill="#1c4680" />
<circle cx="354.4" cy="607.2" r="1" fill="#1c4680" />
<circle cx="354.4" cy="604.8" r="1" fill="#1c4680" />
<circle cx="354.4" cy="601.2" r="1" fill="#1c4680" />
<circle cx="354.4" cy="598.8" r="1" fill="#1c4680" />
<circle cx="366.6" cy="646.8" r="1" fill="#c81f2c" />
<circle cx="366.6" cy="644.4" r="1" fill="#c81f2c" />
<circle cx="366.6" cy="642" r="1" fill="#c81f2c" />
<circle cx="366.6" cy="639.6" r="1" fill="#c81f2c" />
<circle cx="366.6" cy="637.2" r="1" fill="#c81f2c" />
<circle cx="366.6" cy="632.4" r="1" fill="#c81f2c" />
<circle cx="366.6" cy="628.8" r="1" fill="#c81f2c" />
<circle cx="366.6" cy="625.2" r="1" fill="#c81f2c" />
<circle cx="366.6" cy="619.2" r="1" fill="#c81f2c" />
<circle cx="366.6" cy="614.4" r="1" fill="#c81f2c" />
<circle cx="366.6" cy="609.6" r="1" fill="#c81f2c" />
<circle cx="366.6" cy="603.6" r="1" fill="#c81f2c" />
<circle cx="387.6" cy="677.3" r="1" fill="#1c4680" />
<circle cx="387.6" cy="668" r="1" fill="#1c4680" />
<circle cx="387.6" cy="655.2" r="1" fill="#1c4680" />
<circle cx="386" cy="654" r="1" fill="#1c4680" />
<circle cx="387.6" cy="651.6" r="1" fill="#1c4680" />
<circle cx="387.6" cy="649.2" r="1" fill="#1c4680" />
<circle cx="387.6" cy="646.8" r="1" fill="#1c4680" />
<circle cx="387.6" cy="644.4" r="1" fill="#1c4680" />
<circle cx="386" cy="643.2" r="1" fill="#1c4680" />
<circle cx="387.6" cy="642" r="1" fill="#1c4680" />
<circle cx="387.6" cy="639.6" r="1" fill="#1c4680" />
<circle cx="386" cy="638.4" r="1" fill="#1c4680" />
<circle cx="387.6" cy="636" r="1" fill="#1c4680" />
<circle cx="387.6" cy="633.6" r="1" fill="#1c4680" />
<circle cx="386" cy="632.4" r="1" fill="#1c4680" />
<circle cx="387.6" cy="631.2" r="1" fill="#1c4680" />
<circle cx="387.6" cy="628.8" r="1" fill="#1c4680" />
<circle cx="387.6" cy="626.4" r="1" fill="#1c4680" />
<circle cx="387.6" cy="624" r="1" fill="#1c4680" />
<circle cx="386" cy="622.8" r="1" fill="#1c4680" />
<circle cx="387.6" cy="620.4" r="1" fill="#1c4680" />
<circle cx="387.6" cy="618" r="1" fill="#1c4680" />
<circle cx="387.6" cy="615.6" r="1" fill="#1c4680" />
<circle cx="387.6" cy="613.2" r="1" fill="#1c4680" />
<circle cx="386" cy="612" r="1" fill="#1c4680" />
<circle cx="387.6" cy="608.4" r="1" fill="#1c4680" />
<circle cx="399.7" cy="650.4" r="1" fill="#c81f2c" />
<circle cx="399.7" cy="644.4" r="1" fill="#c81f2c" />
<circle cx="399.7" cy="638.4" r="1" fill="#c81f2c" />
<circle cx="399.7" cy="636" r="1" fill="#c81f2c" />
<circle cx="399.7" cy="630" r="1" fill="#c81f2c" />
<circle cx="399.7" cy="625.2" r="1" fill="#c81f2c" />
<circle cx="398.1" cy="624" r="1" fill="#c81f2c" />
<circle cx="399.7" cy="619.2" r="1" fill="#c81f2c" />
<circle cx="399.7" cy="613.2" r="1" fill="#c81f2c" />
<circle cx="399.7" cy="610.8" r="1" fill="#c81f2c" />
<circle cx="399.7" cy="606" r="1" fill="#c81f2c" />
<circle cx="399.7" cy="603.6" r="1" fill="#c81f2c" />
<circle cx="399.7" cy="601.2" r="1" fill="#c81f2c" />
<circle cx="399.7" cy="598.8" r="1" fill="#c81f2c" />
<circle cx="420.2" cy="673.8" r="1" fill="#1c4680" />
<circle cx="420.2" cy="652.2" r="1" fill="#1c4680" />
<circle cx="420.2" cy="632.4" r="1" fill="#1c4680" />
<circle cx="418.6" cy="631.2" r="1" fill="#1c4680" />
<circle cx="421.8" cy="631.2" r="1" fill="#1c4680" />
<circle cx="420.2" cy="630" r="1" fill="#1c4680" />
<circle cx="420.2" cy="625.2" r="1" fill="#1c4680" />
<circle cx="420.2" cy="621.6" r="1" fill="#1c4680" />
<circle cx="420.2" cy="619.2" r="1" fill="#1c4680" />
<circle cx="418.2" cy="619.2" r="1" fill="#1c4680" />
<circle cx="421.8" cy="618" r="1" fill="#1c4680" />
<circle cx="420.2" cy="615.6" r="1" fill="#1c4680" />
<circle cx="420.2" cy="612" r="1" fill="#1c4680" />
<circle cx="420.2" cy="608.4" r="1" fill="#1c4680" />
<circle cx="432.8" cy="664.8" r="1" fill="#c81f2c" />
<circle cx="432.8" cy="660" r="1" fill="#c81f2c" />
<circle cx="432.8" cy="657.6" r="1" fill="#c81f2c" />
<circle cx="432.8" cy="651.6" r="1" fill="#c81f2c" />
<circle cx="432.8" cy="646.8" r="1" fill="#c81f2c" />
<circle cx="432.8" cy="643.2" r="1" fill="#c81f2c" />
<circle cx="432.8" cy="638.4" r="1" fill="#c81f2c" />
<circle cx="432.8" cy="634.8" r="1" fill="#c81f2c" />
<circle cx="432.8" cy="631.2" r="1" fill="#c81f2c" />
<circle cx="432.8" cy="627.6" r="1" fill="#c81f2c" />
<circle cx="431.2" cy="626.4" r="1" fill="#c81f2c" />
<circle cx="432.8" cy="620.4" r="1" fill="#c81f2c" />
<circle cx="432.8" cy="614.4" r="1" fill="#c81f2c" />
<circle cx="432.8" cy="609.6" r="1" fill="#c81f2c" />
<circle cx="432.8" cy="601.2" r="1" fill="#c81f2c" />
<circle cx="453.5" cy="675.3" r="1" fill="#1c4680" />
<circle cx="453.5" cy="657.6" r="1" fill="#1c4680" />
<circle cx="453.5" cy="652.8" r="1" fill="#1c4680" />
<circle cx="453.5" cy="650.4" r="1" fill="#1c4680" />
<circle cx="453.5" cy="646.8" r="1" fill="#1c4680" />
<circle cx="453.5" cy="642" r="1" fill="#1c4680" />
<circle cx="453.5" cy="639.6" r="1" fill="#1c4680" />
<circle cx="453.5" cy="637.2" r="1" fill="#1c4680" />
<circle cx="453.5" cy="634.8" r="1" fill="#1c4680" />
<circle cx="451.9" cy="633.6" r="1" fill="#1c4680" />
<circle cx="453.5" cy="631.2" r="1" fill="#1c4680" />
<circle cx="451.9" cy="630" r="1" fill="#1c4680" />
<circle cx="453.5" cy="627.6" r="1" fill="#1c4680" />
<circle cx="453.5" cy="625.2" r="1" fill="#1c4680" />
<circle cx="451.9" cy="624" r="1" fill="#1c4680" />
<circle cx="453.5" cy="621.6" r="1" fill="#1c4680" />
<circle cx="451.9" cy="620.4" r="1" fill="#1c4680" />
<circle cx="453.5" cy="619.2" r="1" fill="#1c4680" />
<circle cx="453.5" cy="616.8" r="1" fill="#1c4680" />
<circle cx="453.5" cy="614.4" r="1" fill="#1c4680" />
<circle cx="451.9" cy="613.2" r="1" fill="#1c4680" />
<circle cx="453.5" cy="612" r="1" fill="#1c4680" />
<circle cx="453.5" cy="609.6" r="1" fill="#1c4680" />
<circle cx="451.9" cy="608.4" r="1" fill="#1c4680" />
<circle cx="453.5" cy="607.2" r="1" fill="#1c4680" />
<circle cx="451.9" cy="606" r="1" fill="#1c4680" />
<circle cx="465.8" cy="681.6" r="1" fill="#c81f2c" />
<circle cx="465.8" cy="676.8" r="1" fill="#c81f2c" />
<circle cx="465.8" cy="667.2" r="1" fill="#c81f2c" />
<circle cx="465.8" cy="657.6" r="1" fill="#c81f2c" />
<circle cx="465.8" cy="650.4" r="1" fill="#c81f2c" />
<circle cx="465.8" cy="642" r="1" fill="#c81f2c" />
<circle cx="465.8" cy="634.8" r="1" fill="#c81f2c" />
<circle cx="465.8" cy="630" r="1" fill="#c81f2c" />
<circle cx="464.2" cy="628.8" r="1" fill="#c81f2c" />
<circle cx="465.8" cy="627.6" r="1" fill="#c81f2c" />
<circle cx="464.2" cy="626.4" r="1" fill="#c81f2c" />
<circle cx="465.8" cy="624" r="1" fill="#c81f2c" />
<circle cx="464.2" cy="622.8" r="1" fill="#c81f2c" />
<circle cx="465.8" cy="618" r="1" fill="#c81f2c" />
<circle cx="486.3" cy="684.8" r="1" fill="#1c4680" />
<circle cx="486.3" cy="636" r="1" fill="#1c4680" />
<circle cx="484.7" cy="634.8" r="1" fill="#1c4680" />
<circle cx="486.3" cy="632.4" r="1" fill="#1c4680" />
<circle cx="486.3" cy="630" r="1" fill="#1c4680" />
<circle cx="484.7" cy="628.8" r="1" fill="#1c4680" />
<circle cx="486.3" cy="627.6" r="1" fill="#1c4680" />
<circle cx="484.7" cy="626.4" r="1" fill="#1c4680" />
<circle cx="486.3" cy="625.2" r="1" fill="#1c4680" />
<circle cx="488.3" cy="625.2" r="1" fill="#1c4680" />
<circle cx="484.7" cy="624" r="1" fill="#1c4680" />
<circle cx="486.3" cy="622.8" r="1" fill="#1c4680" />
<circle cx="484.7" cy="621.6" r="1" fill="#1c4680" />
<circle cx="487.9" cy="621.6" r="1" fill="#1c4680" />
<circle cx="486.3" cy="620.4" r="1" fill="#1c4680" />
<circle cx="486.3" cy="618" r="1" fill="#1c4680" />
<circle cx="484.7" cy="616.8" r="1" fill="#1c4680" />
<circle cx="487.9" cy="616.8" r="1" fill="#1c4680" />
<circle cx="486.3" cy="614.4" r="1" fill="#1c4680" />
<circle cx="484.3" cy="614.4" r="1" fill="#1c4680" />
<circle cx="486.3" cy="612" r="1" fill="#1c4680" />
<circle cx="486.3" cy="609.6" r="1" fill="#1c4680" />
<circle cx="484.7" cy="608.4" r="1" fill="#1c4680" />
<circle cx="486.3" cy="606" r="1" fill="#1c4680" />
<circle cx="486.3" cy="603.6" r="1" fill="#1c4680" />
<circle cx="484.7" cy="602.4" r="1" fill="#1c4680" />
<circle cx="499.2" cy="675.3" r="1" fill="#c81f2c" />
<circle cx="499.2" cy="638.4" r="1" fill="#c81f2c" />
<circle cx="497.2" cy="638.4" r="1" fill="#c81f2c" />
<circle cx="501.2" cy="638.4" r="1" fill="#c81f2c" />
<circle cx="495.6" cy="637.2" r="1" fill="#c81f2c" />
<circle cx="499.2" cy="632.4" r="1" fill="#c81f2c" />
<circle cx="499.2" cy="628.8" r="1" fill="#c81f2c" />
<circle cx="499.2" cy="625.2" r="1" fill="#c81f2c" />
<circle cx="499.2" cy="622.8" r="1" fill="#c81f2c" />
<circle cx="497.6" cy="621.6" r="1" fill="#c81f2c" />
<circle cx="499.2" cy="619.2" r="1" fill="#c81f2c" />
<circle cx="499.2" cy="614.4" r="1" fill="#c81f2c" />
<circle cx="499.2" cy="609.6" r="1" fill="#c81f2c" />
<circle cx="499.2" cy="600" r="1" fill="#c81f2c" />
<text x="368.5" y="20" font-size="6.9" text-anchor="start" font-weight="normal" fill="#222" textLength="69.3" lengthAdjust="spacingAndGlyphs" >Neutropenia on day 36</text>
<line x1="368.5" y1="25.4" x2="377" y2="25.4" stroke="#1c4680" stroke-width="1.3" />
<circle cx="372.7" cy="25.4" r="0.9" fill="#1c4680" />
<text x="379.8" y="27.8" font-size="6.9" text-anchor="start" font-weight="normal" fill="#222" >No</text>
<line x1="368.5" y1="31.8" x2="377" y2="31.8" stroke="#c81f2c" stroke-width="1.3" />
<circle cx="372.7" cy="31.8" r="0.9" fill="#c81f2c" />
<text x="379.8" y="34.2" font-size="6.9" text-anchor="start" font-weight="normal" fill="#222" >Yes</text>
<text x="345.2" y="160.1" font-size="6.9" text-anchor="start" font-weight="normal" fill="#222" textLength="68.5" lengthAdjust="spacingAndGlyphs" >Neutropenia on day 36</text>
<rect x="349.5" y="164.6" width="1.4" height="7" fill="#9fb0dc" />
<rect x="348.2" y="166.6" width="4" height="3.2" fill="#9fb0dc" />
<line x1="346.4" y1="168.2" x2="353.9" y2="168.2" stroke="#172a55" stroke-width="1.5" />
<text x="359.5" y="170.2" font-size="6.9" text-anchor="start" font-weight="normal" fill="#222" >No</text>
<rect x="349.5" y="172.9" width="1.4" height="7" fill="#f3a7a7" />
<rect x="348.2" y="174.9" width="4" height="3.2" fill="#f3a7a7" />
<line x1="346.4" y1="176.5" x2="353.9" y2="176.5" stroke="#a8121f" stroke-width="1.5" />
<text x="359.5" y="178.5" font-size="6.9" text-anchor="start" font-weight="normal" fill="#222" >Yes</text>
<text x="345.2" y="303.3" font-size="6.9" text-anchor="start" font-weight="normal" fill="#222" textLength="68.5" lengthAdjust="spacingAndGlyphs" >Neutropenia on day 36</text>
<rect x="349.5" y="307.5" width="1.4" height="7" fill="#9fb0dc" />
<rect x="348.2" y="309.5" width="4" height="3.2" fill="#9fb0dc" />
<line x1="346.4" y1="311.1" x2="353.9" y2="311.1" stroke="#172a55" stroke-width="1.5" />
<text x="359.5" y="313.1" font-size="6.9" text-anchor="start" font-weight="normal" fill="#222" >No</text>
<rect x="349.5" y="316.3" width="1.4" height="7" fill="#f3a7a7" />
<rect x="348.2" y="318.3" width="4" height="3.2" fill="#f3a7a7" />
<line x1="346.4" y1="319.9" x2="353.9" y2="319.9" stroke="#a8121f" stroke-width="1.5" />
<text x="359.5" y="321.9" font-size="6.9" text-anchor="start" font-weight="normal" fill="#222" >Yes</text>
<text x="345.2" y="446.6" font-size="6.9" text-anchor="start" font-weight="normal" fill="#222" textLength="68.5" lengthAdjust="spacingAndGlyphs" >Neutropenia on day 36</text>
<rect x="349.5" y="450.8" width="1.4" height="7" fill="#9fb0dc" />
<rect x="348.2" y="452.8" width="4" height="3.2" fill="#9fb0dc" />
<line x1="346.4" y1="454.4" x2="353.9" y2="454.4" stroke="#172a55" stroke-width="1.5" />
<text x="359.5" y="456.4" font-size="6.9" text-anchor="start" font-weight="normal" fill="#222" >No</text>
<rect x="349.5" y="459.2" width="1.4" height="7" fill="#f3a7a7" />
<rect x="348.2" y="461.2" width="4" height="3.2" fill="#f3a7a7" />
<line x1="346.4" y1="462.8" x2="353.9" y2="462.8" stroke="#a8121f" stroke-width="1.5" />
<text x="359.5" y="464.8" font-size="6.9" text-anchor="start" font-weight="normal" fill="#222" >Yes</text>
<text x="437.8" y="582.2" font-size="6.9" text-anchor="start" font-weight="normal" fill="#222" textLength="68.5" lengthAdjust="spacingAndGlyphs" >Neutropenia on day 36</text>
<rect x="440.1" y="586.1" width="1.4" height="7" fill="#9fb0dc" />
<rect x="438.8" y="588.1" width="4" height="3.2" fill="#9fb0dc" />
<line x1="437" y1="589.7" x2="444.5" y2="589.7" stroke="#172a55" stroke-width="1.5" />
<text x="450.1" y="591.7" font-size="6.9" text-anchor="start" font-weight="normal" fill="#222" >No</text>
<rect x="440.1" y="594.2" width="1.4" height="7" fill="#f3a7a7" />
<rect x="438.8" y="596.2" width="4" height="3.2" fill="#f3a7a7" />
<line x1="437" y1="597.8" x2="444.5" y2="597.8" stroke="#a8121f" stroke-width="1.5" />
<text x="450.1" y="599.8" font-size="6.9" text-anchor="start" font-weight="normal" fill="#222" >Yes</text>
<polygon points="64,112.66 68.27,112.66 72.53,112.89 76.8,112.89 81.06,112.89 85.33,113.36 89.6,113.36 93.86,113.36 98.13,114.3 102.39,116.65 106.66,118.53 110.93,119.47 115.19,119.94 119.46,120.41 123.72,120.41 127.99,120.41 132.26,119.94 136.52,119 140.79,116.65 145.05,114.3 149.32,112.89 153.59,111.95 157.85,111.95 162.12,111.95 166.38,111.95 170.65,111.95 174.92,111.95 179.18,111.95 183.45,111.95 213.31,112.42 214.11,124.6 63.2,124.6" fill="#27a1df" fill-opacity="0.88"/>
<polygon points="64,115 68.27,115 72.53,115.05 76.8,115.05 81.06,115.05 85.33,115.43 89.6,115.43 93.86,115.43 98.13,116.18 102.39,118.06 106.66,119.56 110.93,120.32 115.19,120.69 119.46,121.07 123.72,121.07 127.99,121.07 132.26,120.69 136.52,119.94 140.79,118.06 145.05,116.18 149.32,115.05 153.59,115 157.85,115 162.12,115 166.38,115 170.65,115 174.92,115 179.18,115 183.45,115 213.31,115 214.11,124.6 63.2,124.6" fill="#27a1df"/>
<line x1="127.69" y1="121.46" x2="139.12" y2="121.65" stroke="#a8dcf4" stroke-width="0.5" stroke-opacity="0.4"/>
<line x1="135.49" y1="122.24" x2="147.28" y2="122.17" stroke="#a8dcf4" stroke-width="0.5" stroke-opacity="0.4"/>
<line x1="152.67" y1="121.83" x2="167.09" y2="122.94" stroke="#a8dcf4" stroke-width="0.5" stroke-opacity="0.4"/>
<line x1="76.76" y1="116.57" x2="91.39" y2="119.15" stroke="#a8dcf4" stroke-width="0.5" stroke-opacity="0.4"/>
<line x1="202.27" y1="116.61" x2="218.88" y2="115.96" stroke="#a8dcf4" stroke-width="0.5" stroke-opacity="0.4"/>
<line x1="86.17" y1="118.29" x2="90.63" y2="120.77" stroke="#a8dcf4" stroke-width="0.5" stroke-opacity="0.4"/>
<line x1="90.78" y1="122.51" x2="98.14" y2="122.71" stroke="#a8dcf4" stroke-width="0.5" stroke-opacity="0.4"/>
<line x1="126.02" y1="122.03" x2="141.06" y2="121.24" stroke="#a8dcf4" stroke-width="0.5" stroke-opacity="0.4"/>
<line x1="134.36" y1="121.9" x2="147.1" y2="123" stroke="#a8dcf4" stroke-width="0.5" stroke-opacity="0.4"/>
<line x1="204.45" y1="114.86" x2="221.46" y2="113.69" stroke="#a8dcf4" stroke-width="0.5" stroke-opacity="0.4"/>
<line x1="108.38" y1="121.81" x2="115.59" y2="123" stroke="#a8dcf4" stroke-width="0.5" stroke-opacity="0.4"/>
<line x1="171.88" y1="114.4" x2="181.27" y2="115.04" stroke="#a8dcf4" stroke-width="0.5" stroke-opacity="0.4"/>
<line x1="198.87" y1="122.75" x2="213.98" y2="123" stroke="#a8dcf4" stroke-width="0.5" stroke-opacity="0.4"/>
<line x1="192.15" y1="113.08" x2="202.43" y2="113.66" stroke="#a8dcf4" stroke-width="0.5" stroke-opacity="0.4"/>
<line x1="74.28" y1="115.81" x2="86.6" y2="117.11" stroke="#a8dcf4" stroke-width="0.5" stroke-opacity="0.4"/>
<line x1="76.27" y1="114.15" x2="84.79" y2="112.7" stroke="#a8dcf4" stroke-width="0.5" stroke-opacity="0.4"/>
<line x1="80.61" y1="121.86" x2="88.03" y2="123" stroke="#a8dcf4" stroke-width="0.5" stroke-opacity="0.4"/>
<line x1="176.2" y1="117.24" x2="182.74" y2="117.54" stroke="#a8dcf4" stroke-width="0.5" stroke-opacity="0.4"/>
<line x1="90.84" y1="121.65" x2="104.48" y2="120.84" stroke="#a8dcf4" stroke-width="0.5" stroke-opacity="0.4"/>
<line x1="80.4" y1="120.86" x2="90.05" y2="122.16" stroke="#a8dcf4" stroke-width="0.5" stroke-opacity="0.4"/>
<line x1="200.69" y1="119.9" x2="215.23" y2="117.73" stroke="#a8dcf4" stroke-width="0.5" stroke-opacity="0.4"/>
<line x1="93.66" y1="115.53" x2="102.98" y2="114.73" stroke="#a8dcf4" stroke-width="0.5" stroke-opacity="0.4"/>
<circle cx="64" cy="124" r="1" fill="#27a1df" />
<circle cx="68.27" cy="124" r="1" fill="#27a1df" />
<circle cx="72.53" cy="124" r="1" fill="#27a1df" />
<circle cx="76.8" cy="124" r="1" fill="#27a1df" />
<circle cx="81.06" cy="124" r="1" fill="#27a1df" />
<circle cx="85.33" cy="124" r="1" fill="#27a1df" />
<circle cx="89.6" cy="124" r="1" fill="#27a1df" />
<circle cx="93.86" cy="124" r="1" fill="#27a1df" />
<circle cx="98.13" cy="124" r="1" fill="#27a1df" />
<circle cx="102.39" cy="124" r="1" fill="#27a1df" />
<circle cx="106.66" cy="124" r="1" fill="#27a1df" />
<circle cx="110.93" cy="124" r="1" fill="#27a1df" />
<circle cx="115.19" cy="124" r="1" fill="#27a1df" />
<circle cx="119.46" cy="124" r="1" fill="#27a1df" />
<circle cx="123.72" cy="124" r="1" fill="#27a1df" />
<circle cx="127.99" cy="124" r="1" fill="#27a1df" />
<circle cx="132.26" cy="124" r="1" fill="#27a1df" />
<circle cx="136.52" cy="124" r="1" fill="#27a1df" />
<circle cx="140.79" cy="124" r="1" fill="#27a1df" />
<circle cx="145.05" cy="124" r="1" fill="#27a1df" />
<circle cx="149.32" cy="124" r="1" fill="#27a1df" />
<circle cx="153.59" cy="124" r="1" fill="#27a1df" />
<circle cx="157.85" cy="124" r="1" fill="#27a1df" />
<circle cx="162.12" cy="124" r="1" fill="#27a1df" />
<circle cx="166.38" cy="124" r="1" fill="#27a1df" />
<circle cx="170.65" cy="124" r="1" fill="#27a1df" />
<circle cx="174.92" cy="124" r="1" fill="#27a1df" />
<circle cx="179.18" cy="124" r="1" fill="#27a1df" />
<circle cx="183.45" cy="124" r="1" fill="#27a1df" />
<circle cx="187.71" cy="124" r="1" fill="#27a1df" />
<circle cx="191.98" cy="124" r="1" fill="#27a1df" />
<circle cx="196.25" cy="124" r="1" fill="#27a1df" />
<circle cx="200.51" cy="124" r="1" fill="#27a1df" />
<circle cx="204.78" cy="124" r="1" fill="#27a1df" />
<circle cx="209.04" cy="124" r="1" fill="#27a1df" />
<circle cx="213.31" cy="124" r="1" fill="#27a1df" />
<polyline points="64,18.89 68.27,71.06 72.53,96.44 76.8,108.66 85.33,116.18 93.86,119.47 102.39,121.35" fill="none" stroke="#27a1df" stroke-width="1.25" stroke-opacity="1.0" stroke-linejoin="round"/>
<polyline points="64,57.9 68.27,75.29 72.53,94.09 81.06,109.13 89.6,115.71 102.39,120.41" fill="none" stroke="#27a1df" stroke-width="1.25" stroke-opacity="1.0" stroke-linejoin="round"/>
<polyline points="64,72.94 68.27,81.4 76.8,100.2 85.33,110.07 93.86,114.77 106.66,120.88" fill="none" stroke="#27a1df" stroke-width="1.25" stroke-opacity="1.0" stroke-linejoin="round"/>
<polyline points="64,87.04 72.53,97.38 81.06,104.9 93.86,114.3 106.66,119.94" fill="none" stroke="#27a1df" stroke-width="1.25" stroke-opacity="1.0" stroke-linejoin="round"/>
<polyline points="64,100.67 68.27,99.26 76.8,106.78 85.33,112.42 98.13,118.06" fill="none" stroke="#27a1df" stroke-width="1.25" stroke-opacity="1.0" stroke-linejoin="round"/>
<polyline points="64,104.9 72.53,109.13 81.06,101.14 89.6,104.43 93.86,103.96 98.13,99.26 106.66,114.3 115.19,119.94" fill="none" stroke="#27a1df" stroke-width="1.25" stroke-opacity="1.0" stroke-linejoin="round"/>
<polyline points="64,106.78 72.53,111.95 85.33,105.84 93.86,100.67 102.39,106.78 110.93,117.12 119.46,120.88" fill="none" stroke="#27a1df" stroke-width="1.25" stroke-opacity="1.0" stroke-linejoin="round"/>
<polyline points="64,110.07 72.53,107.25 81.06,113.36 89.6,118.06 98.13,120.88" fill="none" stroke="#27a1df" stroke-width="1.25" stroke-opacity="1.0" stroke-linejoin="round"/>
<polyline points="64,108.66 68.27,111.48 76.8,116.18 85.33,109.6 93.86,113.83 102.39,119.47" fill="none" stroke="#27a1df" stroke-width="1.25" stroke-opacity="1.0" stroke-linejoin="round"/>
<polyline points="64,111.95 76.8,109.6 85.33,115.24 98.13,119" fill="none" stroke="#27a1df" stroke-width="1.25" stroke-opacity="1.0" stroke-linejoin="round"/>
<polyline points="127.99,122.29 136.52,118.06 140.79,113.36 145.05,104.9 149.32,83.75 153.59,76.23 157.85,87.04 159.13,91.74 162.12,102.08 170.65,108.19 183.45,111.95 213.31,118.06" fill="none" stroke="#27a1df" stroke-width="1.25" stroke-opacity="1.0" stroke-linejoin="round"/>
<polyline points="127.99,120.88 136.52,119 145.05,114.3 153.59,99.26 162.12,102.08 166.38,101.14 174.92,94.56 183.45,85.63 213.31,109.6" fill="none" stroke="#27a1df" stroke-width="1.25" stroke-opacity="1.0" stroke-linejoin="round"/>
<polyline points="132.26,121.82 140.79,119 153.59,103.49 162.12,108.66 170.65,104.9 183.45,98.32 213.31,111.95" fill="none" stroke="#27a1df" stroke-width="1.25" stroke-opacity="1.0" stroke-linejoin="round"/>
<polyline points="136.52,120.88 145.05,116.65 153.59,106.78 166.38,105.84 179.18,102.55 183.45,101.14 213.31,113.36" fill="none" stroke="#27a1df" stroke-width="1.25" stroke-opacity="1.0" stroke-linejoin="round"/>
<polyline points="132.26,121.35 140.79,119.94 149.32,109.6 153.59,110.54 162.12,112.42 174.92,106.78 183.45,108.66 213.31,115.24" fill="none" stroke="#27a1df" stroke-width="1.25" stroke-opacity="1.0" stroke-linejoin="round"/>
<polyline points="136.52,121.35 153.59,109.6 170.65,111.95 183.45,110.07 213.31,110.54" fill="none" stroke="#27a1df" stroke-width="1.25" stroke-opacity="1.0" stroke-linejoin="round"/>
<polyline points="140.79,120.41 149.32,111.95 157.85,114.3 166.38,109.6 183.45,104.9 213.31,119" fill="none" stroke="#27a1df" stroke-width="1.25" stroke-opacity="1.0" stroke-linejoin="round"/>
<polyline points="140.79,119 153.59,115.24 162.12,110.54 183.45,113.36 213.31,116.65" fill="none" stroke="#27a1df" stroke-width="1.25" stroke-opacity="1.0" stroke-linejoin="round"/>
<polyline points="145.05,118.06 153.59,104.9 157.85,109.6 170.65,112.42 183.45,96.44 213.31,111.48" fill="none" stroke="#27a1df" stroke-width="1.25" stroke-opacity="1.0" stroke-linejoin="round"/>
<polyline points="123.72,122.76 136.52,119.94 149.32,107.25 153.59,108.66 166.38,114.3 183.45,107.25 213.31,119.94" fill="none" stroke="#27a1df" stroke-width="1.25" stroke-opacity="1.0" stroke-linejoin="round"/>
<circle cx="64" cy="18.89" r="1.15" fill="#2f8cc4" />
<circle cx="68.27" cy="71.06" r="1.15" fill="#2f8cc4" />
<circle cx="72.53" cy="96.44" r="1.15" fill="#2f8cc4" />
<circle cx="76.8" cy="108.66" r="1.15" fill="#2f8cc4" />
<circle cx="85.33" cy="116.18" r="1.15" fill="#2f8cc4" />
<circle cx="93.86" cy="119.47" r="1.15" fill="#2f8cc4" />
<circle cx="102.39" cy="121.35" r="1.15" fill="#2f8cc4" />
<circle cx="64" cy="57.9" r="1.15" fill="#2f8cc4" />
<circle cx="68.27" cy="75.29" r="1.15" fill="#2f8cc4" />
<circle cx="72.53" cy="94.09" r="1.15" fill="#2f8cc4" />
<circle cx="81.06" cy="109.13" r="1.15" fill="#2f8cc4" />
<circle cx="89.6" cy="115.71" r="1.15" fill="#2f8cc4" />
<circle cx="102.39" cy="120.41" r="1.15" fill="#2f8cc4" />
<circle cx="64" cy="72.94" r="1.15" fill="#2f8cc4" />
<circle cx="68.27" cy="81.4" r="1.15" fill="#2f8cc4" />
<circle cx="76.8" cy="100.2" r="1.15" fill="#2f8cc4" />
<circle cx="85.33" cy="110.07" r="1.15" fill="#2f8cc4" />
<circle cx="93.86" cy="114.77" r="1.15" fill="#2f8cc4" />
<circle cx="106.66" cy="120.88" r="1.15" fill="#2f8cc4" />
<circle cx="64" cy="87.04" r="1.15" fill="#2f8cc4" />
<circle cx="72.53" cy="97.38" r="1.15" fill="#2f8cc4" />
<circle cx="81.06" cy="104.9" r="1.15" fill="#2f8cc4" />
<circle cx="93.86" cy="114.3" r="1.15" fill="#2f8cc4" />
<circle cx="106.66" cy="119.94" r="1.15" fill="#2f8cc4" />
<circle cx="64" cy="100.67" r="1.15" fill="#2f8cc4" />
<circle cx="68.27" cy="99.26" r="1.15" fill="#2f8cc4" />
<circle cx="76.8" cy="106.78" r="1.15" fill="#2f8cc4" />
<circle cx="85.33" cy="112.42" r="1.15" fill="#2f8cc4" />
<circle cx="98.13" cy="118.06" r="1.15" fill="#2f8cc4" />
<circle cx="64" cy="104.9" r="1.15" fill="#2f8cc4" />
<circle cx="72.53" cy="109.13" r="1.15" fill="#2f8cc4" />
<circle cx="81.06" cy="101.14" r="1.15" fill="#2f8cc4" />
<circle cx="89.6" cy="104.43" r="1.15" fill="#2f8cc4" />
<circle cx="93.86" cy="103.96" r="1.15" fill="#2f8cc4" />
<circle cx="98.13" cy="99.26" r="1.15" fill="#2f8cc4" />
<circle cx="106.66" cy="114.3" r="1.15" fill="#2f8cc4" />
<circle cx="115.19" cy="119.94" r="1.15" fill="#2f8cc4" />
<circle cx="64" cy="106.78" r="1.15" fill="#2f8cc4" />
<circle cx="72.53" cy="111.95" r="1.15" fill="#2f8cc4" />
<circle cx="85.33" cy="105.84" r="1.15" fill="#2f8cc4" />
<circle cx="93.86" cy="100.67" r="1.15" fill="#2f8cc4" />
<circle cx="102.39" cy="106.78" r="1.15" fill="#2f8cc4" />
<circle cx="110.93" cy="117.12" r="1.15" fill="#2f8cc4" />
<circle cx="119.46" cy="120.88" r="1.15" fill="#2f8cc4" />
<circle cx="64" cy="110.07" r="1.15" fill="#2f8cc4" />
<circle cx="72.53" cy="107.25" r="1.15" fill="#2f8cc4" />
<circle cx="81.06" cy="113.36" r="1.15" fill="#2f8cc4" />
<circle cx="89.6" cy="118.06" r="1.15" fill="#2f8cc4" />
<circle cx="98.13" cy="120.88" r="1.15" fill="#2f8cc4" />
<circle cx="64" cy="108.66" r="1.15" fill="#2f8cc4" />
<circle cx="68.27" cy="111.48" r="1.15" fill="#2f8cc4" />
<circle cx="76.8" cy="116.18" r="1.15" fill="#2f8cc4" />
<circle cx="85.33" cy="109.6" r="1.15" fill="#2f8cc4" />
<circle cx="93.86" cy="113.83" r="1.15" fill="#2f8cc4" />
<circle cx="102.39" cy="119.47" r="1.15" fill="#2f8cc4" />
<circle cx="64" cy="111.95" r="1.15" fill="#2f8cc4" />
<circle cx="76.8" cy="109.6" r="1.15" fill="#2f8cc4" />
<circle cx="85.33" cy="115.24" r="1.15" fill="#2f8cc4" />
<circle cx="98.13" cy="119" r="1.15" fill="#2f8cc4" />
<circle cx="127.99" cy="122.29" r="1.15" fill="#2f8cc4" />
<circle cx="136.52" cy="118.06" r="1.15" fill="#2f8cc4" />
<circle cx="140.79" cy="113.36" r="1.15" fill="#2f8cc4" />
<circle cx="145.05" cy="104.9" r="1.15" fill="#2f8cc4" />
<circle cx="149.32" cy="83.75" r="1.15" fill="#2f8cc4" />
<circle cx="153.59" cy="76.23" r="1.15" fill="#2f8cc4" />
<circle cx="157.85" cy="87.04" r="1.15" fill="#2f8cc4" />
<circle cx="159.13" cy="91.74" r="1.15" fill="#2f8cc4" />
<circle cx="162.12" cy="102.08" r="1.15" fill="#2f8cc4" />
<circle cx="170.65" cy="108.19" r="1.15" fill="#2f8cc4" />
<circle cx="183.45" cy="111.95" r="1.15" fill="#2f8cc4" />
<circle cx="213.31" cy="118.06" r="1.15" fill="#2f8cc4" />
<circle cx="127.99" cy="120.88" r="1.15" fill="#2f8cc4" />
<circle cx="136.52" cy="119" r="1.15" fill="#2f8cc4" />
<circle cx="145.05" cy="114.3" r="1.15" fill="#2f8cc4" />
<circle cx="153.59" cy="99.26" r="1.15" fill="#2f8cc4" />
<circle cx="162.12" cy="102.08" r="1.15" fill="#2f8cc4" />
<circle cx="166.38" cy="101.14" r="1.15" fill="#2f8cc4" />
<circle cx="174.92" cy="94.56" r="1.15" fill="#2f8cc4" />
<circle cx="183.45" cy="85.63" r="1.15" fill="#2f8cc4" />
<circle cx="213.31" cy="109.6" r="1.15" fill="#2f8cc4" />
<circle cx="132.26" cy="121.82" r="1.15" fill="#2f8cc4" />
<circle cx="140.79" cy="119" r="1.15" fill="#2f8cc4" />
<circle cx="153.59" cy="103.49" r="1.15" fill="#2f8cc4" />
<circle cx="162.12" cy="108.66" r="1.15" fill="#2f8cc4" />
<circle cx="170.65" cy="104.9" r="1.15" fill="#2f8cc4" />
<circle cx="183.45" cy="98.32" r="1.15" fill="#2f8cc4" />
<circle cx="213.31" cy="111.95" r="1.15" fill="#2f8cc4" />
<circle cx="136.52" cy="120.88" r="1.15" fill="#2f8cc4" />
<circle cx="145.05" cy="116.65" r="1.15" fill="#2f8cc4" />
<circle cx="153.59" cy="106.78" r="1.15" fill="#2f8cc4" />
<circle cx="166.38" cy="105.84" r="1.15" fill="#2f8cc4" />
<circle cx="179.18" cy="102.55" r="1.15" fill="#2f8cc4" />
<circle cx="183.45" cy="101.14" r="1.15" fill="#2f8cc4" />
<circle cx="213.31" cy="113.36" r="1.15" fill="#2f8cc4" />
<circle cx="132.26" cy="121.35" r="1.15" fill="#2f8cc4" />
<circle cx="140.79" cy="119.94" r="1.15" fill="#2f8cc4" />
<circle cx="149.32" cy="109.6" r="1.15" fill="#2f8cc4" />
<circle cx="153.59" cy="110.54" r="1.15" fill="#2f8cc4" />
<circle cx="162.12" cy="112.42" r="1.15" fill="#2f8cc4" />
<circle cx="174.92" cy="106.78" r="1.15" fill="#2f8cc4" />
<circle cx="183.45" cy="108.66" r="1.15" fill="#2f8cc4" />
<circle cx="213.31" cy="115.24" r="1.15" fill="#2f8cc4" />
<circle cx="136.52" cy="121.35" r="1.15" fill="#2f8cc4" />
<circle cx="153.59" cy="109.6" r="1.15" fill="#2f8cc4" />
<circle cx="170.65" cy="111.95" r="1.15" fill="#2f8cc4" />
<circle cx="183.45" cy="110.07" r="1.15" fill="#2f8cc4" />
<circle cx="213.31" cy="110.54" r="1.15" fill="#2f8cc4" />
<circle cx="140.79" cy="120.41" r="1.15" fill="#2f8cc4" />
<circle cx="149.32" cy="111.95" r="1.15" fill="#2f8cc4" />
<circle cx="157.85" cy="114.3" r="1.15" fill="#2f8cc4" />
<circle cx="166.38" cy="109.6" r="1.15" fill="#2f8cc4" />
<circle cx="183.45" cy="104.9" r="1.15" fill="#2f8cc4" />
<circle cx="213.31" cy="119" r="1.15" fill="#2f8cc4" />
<circle cx="140.79" cy="119" r="1.15" fill="#2f8cc4" />
<circle cx="153.59" cy="115.24" r="1.15" fill="#2f8cc4" />
<circle cx="162.12" cy="110.54" r="1.15" fill="#2f8cc4" />
<circle cx="183.45" cy="113.36" r="1.15" fill="#2f8cc4" />
<circle cx="213.31" cy="116.65" r="1.15" fill="#2f8cc4" />
<circle cx="145.05" cy="118.06" r="1.15" fill="#2f8cc4" />
<circle cx="153.59" cy="104.9" r="1.15" fill="#2f8cc4" />
<circle cx="157.85" cy="109.6" r="1.15" fill="#2f8cc4" />
<circle cx="170.65" cy="112.42" r="1.15" fill="#2f8cc4" />
<circle cx="183.45" cy="96.44" r="1.15" fill="#2f8cc4" />
<circle cx="213.31" cy="111.48" r="1.15" fill="#2f8cc4" />
<circle cx="123.72" cy="122.76" r="1.15" fill="#2f8cc4" />
<circle cx="136.52" cy="119.94" r="1.15" fill="#2f8cc4" />
<circle cx="149.32" cy="107.25" r="1.15" fill="#2f8cc4" />
<circle cx="153.59" cy="108.66" r="1.15" fill="#2f8cc4" />
<circle cx="166.38" cy="114.3" r="1.15" fill="#2f8cc4" />
<circle cx="183.45" cy="107.25" r="1.15" fill="#2f8cc4" />
<circle cx="213.31" cy="119.94" r="1.15" fill="#2f8cc4" />
<polyline points="348,123.81 352.24,123.81 369.2,110.9 373.44,123.81 377.68,123.81 381.92,123.81 390.4,123.81 394.64,123.81 398.88,123.81 411.6,123.81 420.08,123.81 428.56,123.81 432.8,123.81 441.28,123.81 445.52,123.81 458.24,123.81 466.72,123.81 496.4,77.52" fill="none" stroke="#ec95a0" stroke-width="0.55" stroke-opacity="0.7" stroke-linejoin="round"/>
<polyline points="348,74.65 352.24,90.43 364.96,90.43 373.44,123.81 381.92,123.81 386.16,123.81 390.4,123.81 398.88,123.81 415.84,123.81 420.08,123.81 424.32,123.81 432.8,123.81 449.76,123.81 458.24,110.9 462.48,123.81 496.4,123.81" fill="none" stroke="#ec95a0" stroke-width="0.55" stroke-opacity="0.7" stroke-linejoin="round"/>
<polyline points="348,110.9 356.48,123.81 360.72,110.9 369.2,123.81 390.4,123.81 394.64,123.81 398.88,123.81 407.36,123.81 411.6,123.81 428.56,123.81 432.8,123.81 441.28,97.99 445.52,97.99 449.76,90.43 454,77.52 458.24,85.07 496.4,97.99" fill="none" stroke="#ec95a0" stroke-width="0.55" stroke-opacity="0.7" stroke-linejoin="round"/>
<polyline points="348,60.45 356.48,77.52 360.72,74.65 364.96,80.91 373.44,90.43 390.4,97.99 407.36,110.9 432.8,110.9 437.04,90.43 441.28,90.43 454,97.99 496.4,123.81" fill="none" stroke="#ec95a0" stroke-width="0.55" stroke-opacity="0.7" stroke-linejoin="round"/>
<polyline points="348,72.16 352.24,90.43 356.48,90.43 360.72,90.43 364.96,110.9 369.2,110.9 373.44,90.43 377.68,123.81 381.92,123.81 386.16,123.81 398.88,123.81 407.36,123.81 411.6,123.81 415.84,123.81 420.08,123.81 424.32,123.81 432.8,123.81 437.04,123.81 445.52,97.99 449.76,85.07 454,85.07 496.4,80.91" fill="none" stroke="#ec95a0" stroke-width="0.55" stroke-opacity="0.7" stroke-linejoin="round"/>
<polyline points="348,69.96 352.24,74.65 360.72,77.52 364.96,85.07 369.2,90.43 377.68,90.43 381.92,97.99 386.16,90.43 390.4,110.9 398.88,97.99 403.12,110.9 415.84,123.81 420.08,110.9 424.32,123.81 437.04,123.81 441.28,97.99 445.52,85.07 454,80.91 462.48,61.73 496.4,110.9" fill="none" stroke="#ec95a0" stroke-width="0.55" stroke-opacity="0.7" stroke-linejoin="round"/>
<polyline points="348,60.45 356.48,97.99 360.72,97.99 369.2,97.99 373.44,97.99 381.92,123.81 394.64,123.81 398.88,123.81 411.6,123.81 415.84,123.81 420.08,123.81 424.32,110.9 428.56,123.81 432.8,123.81 445.52,123.81 449.76,123.81 466.72,123.81 496.4,97.99" fill="none" stroke="#ec95a0" stroke-width="0.55" stroke-opacity="0.7" stroke-linejoin="round"/>
<polyline points="348,85.07 360.72,97.99 364.96,110.9 369.2,123.81 377.68,123.81 386.16,123.81 390.4,123.81 398.88,123.81 407.36,123.81 424.32,80.91 432.8,69.96 441.28,74.65 445.52,74.65 449.76,74.65 454,68 462.48,80.91 496.4,97.99" fill="none" stroke="#ec95a0" stroke-width="0.55" stroke-opacity="0.7" stroke-linejoin="round"/>
<polyline points="348,97.99 352.24,97.99 356.48,97.99 360.72,97.99 369.2,110.9 373.44,123.81 377.68,123.81 394.64,123.81 403.12,123.81 420.08,123.81 424.32,123.81 428.56,123.81 432.8,123.81 437.04,123.81 445.52,97.99 454,72.16 458.24,80.91 496.4,123.81" fill="none" stroke="#ec95a0" stroke-width="0.55" stroke-opacity="0.7" stroke-linejoin="round"/>
<polyline points="348,123.81 356.48,123.81 369.2,123.81 373.44,123.81 377.68,123.81 381.92,123.81 386.16,123.81 390.4,123.81 398.88,123.81 403.12,123.81 407.36,123.81 411.6,123.81 424.32,123.81 428.56,110.9 445.52,60.45 454,56.04 458.24,48.82 466.72,56.04 496.4,123.81" fill="none" stroke="#ec95a0" stroke-width="0.55" stroke-opacity="0.7" stroke-linejoin="round"/>
<polyline points="348,80.91 352.24,80.91 356.48,97.99 360.72,90.43 364.96,97.99 369.2,97.99 386.16,123.81 390.4,123.81 394.64,123.81 398.88,123.81 407.36,123.81 424.32,59.24 428.56,54.18 437.04,35.57 441.28,36.58 445.52,44.66 449.76,28.35 462.48,41.71 466.72,35.25 496.4,97.99" fill="none" stroke="#ec95a0" stroke-width="0.55" stroke-opacity="0.7" stroke-linejoin="round"/>
<polyline points="348,123.81 356.48,123.81 364.96,123.81 369.2,123.81 373.44,123.81 377.68,123.81 381.92,123.81 390.4,123.81 394.64,123.81 407.36,123.81 411.6,123.81 415.84,123.81 420.08,123.81 437.04,123.81 441.28,123.81 445.52,123.81 449.76,123.81 454,123.81 496.4,90.43" fill="none" stroke="#ec95a0" stroke-width="0.55" stroke-opacity="0.7" stroke-linejoin="round"/>
<polyline points="348,77.52 356.48,97.99 360.72,97.99 364.96,90.43 369.2,97.99 377.68,123.81 386.16,110.9 390.4,110.9 394.64,110.9 415.84,123.81 420.08,123.81 428.56,123.81 432.8,110.9 437.04,123.81 441.28,123.81 454,123.81 462.48,110.9 496.4,97.99" fill="none" stroke="#ec95a0" stroke-width="0.55" stroke-opacity="0.7" stroke-linejoin="round"/>
<polyline points="348,74.65 360.72,77.52 364.96,80.91 369.2,85.07 373.44,85.07 377.68,97.99 394.64,123.81 403.12,97.99 411.6,123.81 449.76,123.81 454,123.81 462.48,123.81 496.4,123.81" fill="none" stroke="#ec95a0" stroke-width="0.55" stroke-opacity="0.7" stroke-linejoin="round"/>
<polyline points="348,123.81 352.24,123.81 364.96,123.81 377.68,123.81 381.92,123.81 403.12,123.81 407.36,123.81 411.6,123.81 420.08,123.81 424.32,123.81 437.04,123.81 441.28,110.9 445.52,110.9 458.24,110.9 462.48,97.99 496.4,123.81" fill="none" stroke="#ec95a0" stroke-width="0.55" stroke-opacity="0.7" stroke-linejoin="round"/>
<polyline points="348,77.52 390.4,123.81 394.64,123.81 398.88,123.81 403.12,123.81 407.36,123.81 411.6,123.81 424.32,123.81 428.56,97.99 432.8,90.43 437.04,97.99 441.28,90.43 449.76,85.07 458.24,97.99 496.4,97.99" fill="none" stroke="#ec95a0" stroke-width="0.55" stroke-opacity="0.7" stroke-linejoin="round"/>
<polyline points="348,90.43 356.48,97.99 360.72,110.9 364.96,123.81 369.2,110.9 377.68,123.81 381.92,123.81 390.4,123.81 394.64,123.81 403.12,123.81 411.6,123.81 415.84,123.81 420.08,123.81 424.32,123.81 428.56,123.81 432.8,110.9 437.04,123.81 441.28,123.81 449.76,63.11 454,77.52 458.24,90.43 462.48,68 496.4,110.9" fill="none" stroke="#ec95a0" stroke-width="0.55" stroke-opacity="0.7" stroke-linejoin="round"/>
<polyline points="348,46.33 352.24,63.11 356.48,64.6 360.72,72.16 369.2,85.07 373.44,90.43 377.68,97.99 381.92,90.43 386.16,123.81 398.88,123.81 403.12,123.81 420.08,123.81 424.32,123.81 437.04,123.81 441.28,123.81 445.52,123.81 449.76,123.81 458.24,123.81 466.72,123.81 496.4,85.07" fill="none" stroke="#ec95a0" stroke-width="0.55" stroke-opacity="0.7" stroke-linejoin="round"/>
<polyline points="348,97.99 352.24,90.43 356.48,90.43 360.72,90.43 364.96,97.99 369.2,97.99 373.44,110.9 377.68,97.99 390.4,110.9 394.64,123.81 415.84,123.81 420.08,123.81 428.56,123.81 432.8,123.81 441.28,123.81 445.52,123.81 454,123.81 466.72,123.81 496.4,97.99" fill="none" stroke="#ec95a0" stroke-width="0.55" stroke-opacity="0.7" stroke-linejoin="round"/>
<polyline points="348,80.91 352.24,90.43 364.96,123.81 369.2,110.9 377.68,123.81 386.16,123.81 394.64,123.81 411.6,123.81 420.08,123.81 424.32,123.81 432.8,123.81 437.04,123.81 441.28,85.07 458.24,77.52 496.4,123.81" fill="none" stroke="#ec95a0" stroke-width="0.55" stroke-opacity="0.7" stroke-linejoin="round"/>
<polyline points="348,63.11 352.24,58.11 360.72,80.91 373.44,69.96 377.68,85.07 381.92,97.99 386.16,90.43 403.12,110.9 415.84,97.99 420.08,90.43 424.32,69.96 428.56,63.11 437.04,57.05 454,58.11 462.48,63.11 466.72,55.09 496.4,77.52" fill="none" stroke="#a3b0de" stroke-width="0.55" stroke-opacity="0.7" stroke-linejoin="round"/>
<polyline points="348,85.07 352.24,72.16 356.48,85.07 360.72,80.91 369.2,85.07 373.44,85.07 377.68,97.99 390.4,123.81 394.64,97.99 403.12,123.81 407.36,110.9 411.6,110.9 420.08,97.99 424.32,97.99 428.56,85.07 441.28,61.73 445.52,66.22 449.76,51.69 458.24,50.2 496.4,60.45" fill="none" stroke="#a3b0de" stroke-width="0.55" stroke-opacity="0.7" stroke-linejoin="round"/>
<polyline points="348,77.52 352.24,85.07 364.96,90.43 373.44,110.9 381.92,110.9 386.16,123.81 390.4,123.81 398.88,97.99 407.36,80.91 420.08,43.13 432.8,28.57 437.04,34.93 445.52,29.03 449.76,35.57 454,25.86 462.48,30.71 496.4,43.13" fill="none" stroke="#a3b0de" stroke-width="0.55" stroke-opacity="0.7" stroke-linejoin="round"/>
<polyline points="348,66.22 352.24,72.16 356.48,77.52 360.72,85.07 373.44,110.9 386.16,97.99 394.64,97.99 398.88,123.81 403.12,110.9 420.08,97.99 424.32,97.99 428.56,97.99 437.04,74.65 449.76,64.6 458.24,63.11 462.48,61.73 496.4,85.07" fill="none" stroke="#a3b0de" stroke-width="0.55" stroke-opacity="0.7" stroke-linejoin="round"/>
<polyline points="348,53.31 352.24,61.73 356.48,51.69 360.72,72.16 364.96,74.65 369.2,74.65 373.44,85.07 377.68,80.91 381.92,97.99 390.4,110.9 394.64,97.99 411.6,110.9 415.84,110.9 420.08,123.81 424.32,90.43 428.56,80.91 432.8,74.65 496.4,63.11" fill="none" stroke="#a3b0de" stroke-width="0.55" stroke-opacity="0.7" stroke-linejoin="round"/>
<polyline points="348,55.09 360.72,77.52 369.2,97.99 373.44,97.99 377.68,85.07 381.92,97.99 394.64,110.9 403.12,110.9 415.84,80.91 420.08,72.16 424.32,64.6 428.56,69.96 437.04,69.96 441.28,60.45 449.76,60.45 454,66.22 458.24,59.24 496.4,69.96" fill="none" stroke="#a3b0de" stroke-width="0.55" stroke-opacity="0.7" stroke-linejoin="round"/>
<polyline points="348,85.07 352.24,77.52 356.48,90.43 360.72,90.43 369.2,97.99 373.44,90.43 377.68,110.9 386.16,90.43 390.4,97.99 394.64,90.43 403.12,110.9 407.36,97.99 415.84,74.65 424.32,59.24 432.8,63.11 437.04,64.6 441.28,54.18 445.52,56.04 454,60.45 458.24,64.6 462.48,55.09 496.4,54.18" fill="none" stroke="#a3b0de" stroke-width="0.55" stroke-opacity="0.7" stroke-linejoin="round"/>
<polyline points="348,49.49 352.24,64.6 373.44,74.65 377.68,90.43 381.92,85.07 390.4,80.91 398.88,90.43 415.84,60.45 428.56,48.16 441.28,51.69 445.52,43.13 449.76,57.05 454,43.62 462.48,42.17 466.72,48.82 496.4,72.16" fill="none" stroke="#a3b0de" stroke-width="0.55" stroke-opacity="0.7" stroke-linejoin="round"/>
<polyline points="348,74.65 352.24,97.99 356.48,85.07 360.72,97.99 373.44,85.07 377.68,97.99 381.92,97.99 386.16,85.07 390.4,90.43 398.88,90.43 403.12,85.07 407.36,72.16 411.6,68 437.04,44.13 441.28,45.76 445.52,39.57 449.76,38.39 454,47.53 462.48,39.98 466.72,55.09 496.4,44.13" fill="none" stroke="#a3b0de" stroke-width="0.55" stroke-opacity="0.7" stroke-linejoin="round"/>
<polyline points="348,85.07 352.24,80.91 356.48,97.99 360.72,90.43 369.2,97.99 373.44,90.43 377.68,110.9 381.92,110.9 386.16,110.9 398.88,97.99 407.36,123.81 415.84,110.9 432.8,80.91 449.76,72.16 454,77.52 458.24,66.22 462.48,68 466.72,66.22 496.4,60.45" fill="none" stroke="#a3b0de" stroke-width="0.55" stroke-opacity="0.7" stroke-linejoin="round"/>
<polyline points="348,69.96 352.24,74.65 360.72,68 364.96,85.07 377.68,97.99 381.92,110.9 386.16,97.99 394.64,90.43 398.88,110.9 403.12,97.99 407.36,97.99 411.6,97.99 424.32,80.91 428.56,72.16 445.52,72.16 449.76,80.91 458.24,85.07 466.72,68 496.4,66.22" fill="none" stroke="#a3b0de" stroke-width="0.55" stroke-opacity="0.7" stroke-linejoin="round"/>
<polyline points="348,77.52 360.72,90.43 373.44,97.99 377.68,90.43 403.12,97.99 407.36,97.99 424.32,80.91 432.8,66.22 458.24,53.31 462.48,38.39 496.4,66.22" fill="none" stroke="#a3b0de" stroke-width="0.55" stroke-opacity="0.7" stroke-linejoin="round"/>
<polyline points="348,54.18 352.24,68 356.48,72.16 360.72,85.07 364.96,72.16 369.2,80.91 381.92,97.99 386.16,85.07 390.4,85.07 398.88,90.43 403.12,80.91 407.36,90.43 411.6,90.43 415.84,85.07 424.32,97.99 428.56,85.07 437.04,90.43 445.52,80.91 454,77.52 462.48,85.07 466.72,90.43 496.4,77.52" fill="none" stroke="#a3b0de" stroke-width="0.55" stroke-opacity="0.7" stroke-linejoin="round"/>
<polyline points="348,18.83 360.72,37.28 364.96,53.31 369.2,48.16 373.44,48.82 377.68,49.49 381.92,57.05 386.16,61.73 394.64,64.6 398.88,63.11 403.12,85.07 407.36,85.07 411.6,69.96 420.08,45.76 424.32,39.57 428.56,44.13 441.28,53.31 449.76,43.62 466.72,51.69 496.4,63.11" fill="none" stroke="#a3b0de" stroke-width="0.55" stroke-opacity="0.7" stroke-linejoin="round"/>
<polyline points="348,45.2 352.24,48.82 369.2,48.82 373.44,72.16 377.68,74.65 381.92,68 386.16,77.52 390.4,68 394.64,85.07 398.88,85.07 403.12,77.52 424.32,97.99 432.8,63.11 437.04,56.04 454,38.77 462.48,30.96 466.72,43.62 496.4,74.65" fill="none" stroke="#a3b0de" stroke-width="0.55" stroke-opacity="0.7" stroke-linejoin="round"/>
<polyline points="348,50.93 352.24,63.11 381.92,90.43 386.16,80.91 390.4,80.91 394.64,97.99 403.12,90.43 407.36,97.99 411.6,97.99 415.84,90.43 424.32,61.73 428.56,47.53 445.52,46.33 454,53.31 466.72,43.13 496.4,85.07" fill="none" stroke="#a3b0de" stroke-width="0.55" stroke-opacity="0.7" stroke-linejoin="round"/>
<polyline points="348,77.52 364.96,97.99 369.2,85.07 373.44,97.99 377.68,97.99 390.4,123.81 398.88,97.99 407.36,110.9 420.08,97.99 424.32,90.43 432.8,68 437.04,61.73 454,54.18 458.24,46.92 466.72,66.22 496.4,63.11" fill="none" stroke="#a3b0de" stroke-width="0.55" stroke-opacity="0.7" stroke-linejoin="round"/>
<polyline points="348,97.99 352.24,97.99 356.48,110.9 360.72,110.9 364.96,123.81 377.68,110.9 386.16,97.99 390.4,123.81 403.12,123.81 411.6,123.81 415.84,110.9 428.56,97.99 437.04,60.45 445.52,64.6 462.48,56.04 466.72,61.73 496.4,74.65" fill="none" stroke="#a3b0de" stroke-width="0.55" stroke-opacity="0.7" stroke-linejoin="round"/>
<polyline points="348,90.43 356.48,97.99 360.72,90.43 369.2,97.99 373.44,123.81 377.68,110.9 381.92,97.99 386.16,123.81 390.4,97.99 403.12,123.81 411.6,110.9 437.04,39.57 441.28,50.93 454,39.57 496.4,72.16" fill="none" stroke="#a3b0de" stroke-width="0.55" stroke-opacity="0.7" stroke-linejoin="round"/>
<polyline points="348,58.11 352.24,61.73 356.48,61.73 360.72,63.11 369.2,77.52 377.68,68 381.92,97.99 386.16,80.91 390.4,90.43 398.88,85.07 415.84,97.99 420.08,90.43 424.32,90.43 428.56,85.07 432.8,77.52 437.04,74.65 445.52,77.52 449.76,64.6 454,80.91 458.24,74.65 462.48,72.16 466.72,72.16 496.4,69.96" fill="none" stroke="#a3b0de" stroke-width="0.55" stroke-opacity="0.7" stroke-linejoin="round"/>
<polyline points="348,40.4 369.2,61.73 373.44,64.6 390.4,68 398.88,85.07 420.08,46.33 424.32,58.11 428.56,50.2 441.28,54.18 445.52,54.18 449.76,45.76 454,60.45 458.24,39.57 466.72,59.24 496.4,90.43" fill="none" stroke="#a3b0de" stroke-width="0.55" stroke-opacity="0.7" stroke-linejoin="round"/>
<polyline points="348,56.04 352.24,58.11 356.48,54.18 360.72,74.65 373.44,74.65 377.68,80.91 381.92,90.43 386.16,97.99 390.4,97.99 394.64,97.99 415.84,90.43 428.56,66.22 432.8,50.2 437.04,58.11 441.28,56.04 445.52,64.6 458.24,57.05 462.48,68 496.4,85.07" fill="none" stroke="#a3b0de" stroke-width="0.55" stroke-opacity="0.7" stroke-linejoin="round"/>
<polyline points="348,53.31 360.72,77.52 369.2,90.43 390.4,85.07 394.64,85.07 403.12,85.07 407.36,77.52 424.32,40.82 445.52,32.29 458.24,32.29 462.48,44.66 466.72,34.31 496.4,55.09" fill="none" stroke="#a3b0de" stroke-width="0.55" stroke-opacity="0.7" stroke-linejoin="round"/>
<polyline points="348,85.07 352.24,110.9 364.96,97.99 377.68,110.9 386.16,123.81 390.4,123.81 394.64,123.81 411.6,123.81 420.08,85.07 424.32,90.43 437.04,53.31 445.52,69.96 458.24,51.69 462.48,60.45 466.72,56.04 496.4,72.16" fill="none" stroke="#a3b0de" stroke-width="0.55" stroke-opacity="0.7" stroke-linejoin="round"/>
<polyline points="348,74.65 356.48,74.65 360.72,80.91 364.96,90.43 369.2,90.43 373.44,90.43 377.68,97.99 381.92,85.07 386.16,110.9 394.64,97.99 411.6,90.43 420.08,63.11 428.56,42.17 449.76,31.22 454,22.17 458.24,35.25 466.72,28.57 496.4,90.43" fill="none" stroke="#a3b0de" stroke-width="0.55" stroke-opacity="0.7" stroke-linejoin="round"/>
<polyline points="348,61.73 352.24,59.24 364.96,77.52 369.2,72.16 377.68,85.07 381.92,80.91 390.4,80.91 407.36,85.07 411.6,97.99 415.84,85.07 420.08,97.99 437.04,72.16 441.28,77.52 449.76,80.91 454,74.65 496.4,66.22" fill="none" stroke="#a3b0de" stroke-width="0.55" stroke-opacity="0.7" stroke-linejoin="round"/>
<polyline points="348,97.99 356.48,97.99 360.72,90.43 364.96,110.9 369.2,110.9 377.68,97.99 390.4,90.43 394.64,123.81 398.88,110.9 411.6,110.9 420.08,123.81 445.52,90.43 449.76,90.43 454,90.43 458.24,85.07 462.48,97.99 496.4,64.6" fill="none" stroke="#a3b0de" stroke-width="0.55" stroke-opacity="0.7" stroke-linejoin="round"/>
<polyline points="348,69.96 352.24,74.65 356.48,77.52 360.72,90.43 364.96,97.99 369.2,110.9 373.44,97.99 377.68,97.99 381.92,110.9 386.16,97.99 390.4,123.81 394.64,110.9 398.88,97.99 407.36,110.9 415.84,123.81 420.08,90.43 424.32,85.07 428.56,66.22 432.8,56.04 437.04,49.49 441.28,38.01 445.52,30.96 458.24,37.28 462.48,35.57 496.4,80.91" fill="none" stroke="#a3b0de" stroke-width="0.55" stroke-opacity="0.7" stroke-linejoin="round"/>
<polyline points="348,123.81 352.24,110.9 360.72,85.07 369.2,90.43 377.68,97.99 386.16,90.43 390.4,97.99 394.64,90.43 398.88,80.91 403.12,97.99 407.36,85.07 432.8,72.16 437.04,74.65 441.28,72.16 449.76,77.52 454,77.52 458.24,72.16 466.72,85.07 496.4,66.22" fill="none" stroke="#a3b0de" stroke-width="0.55" stroke-opacity="0.7" stroke-linejoin="round"/>
<polyline points="348,77.52 352.24,69.96 356.48,72.16 360.72,90.43 369.2,90.43 381.92,123.81 390.4,123.81 394.64,123.81 407.36,123.81 411.6,123.81 415.84,123.81 420.08,110.9 424.32,97.99 428.56,97.99 432.8,80.91 449.76,66.22 454,74.65 466.72,77.52 496.4,50.93" fill="none" stroke="#a3b0de" stroke-width="0.55" stroke-opacity="0.7" stroke-linejoin="round"/>
<rect x="347.2" y="123.01" width="1.6" height="1.6" fill="#8a4453" fill-opacity="0.75"/>
<rect x="351.44" y="123.01" width="1.6" height="1.6" fill="#8a4453" fill-opacity="0.75"/>
<rect x="368.4" y="110.1" width="1.6" height="1.6" fill="#8a4453" fill-opacity="0.75"/>
<rect x="372.64" y="123.01" width="1.6" height="1.6" fill="#8a4453" fill-opacity="0.75"/>
<rect x="376.88" y="123.01" width="1.6" height="1.6" fill="#8a4453" fill-opacity="0.75"/>
<rect x="381.12" y="123.01" width="1.6" height="1.6" fill="#8a4453" fill-opacity="0.75"/>
<rect x="389.6" y="123.01" width="1.6" height="1.6" fill="#8a4453" fill-opacity="0.75"/>
<rect x="393.84" y="123.01" width="1.6" height="1.6" fill="#8a4453" fill-opacity="0.75"/>
<rect x="398.08" y="123.01" width="1.6" height="1.6" fill="#8a4453" fill-opacity="0.75"/>
<rect x="410.8" y="123.01" width="1.6" height="1.6" fill="#8a4453" fill-opacity="0.75"/>
<rect x="419.28" y="123.01" width="1.6" height="1.6" fill="#8a4453" fill-opacity="0.75"/>
<rect x="427.76" y="123.01" width="1.6" height="1.6" fill="#8a4453" fill-opacity="0.75"/>
<rect x="432" y="123.01" width="1.6" height="1.6" fill="#8a4453" fill-opacity="0.75"/>
<rect x="440.48" y="123.01" width="1.6" height="1.6" fill="#8a4453" fill-opacity="0.75"/>
<rect x="444.72" y="123.01" width="1.6" height="1.6" fill="#8a4453" fill-opacity="0.75"/>
<rect x="457.44" y="123.01" width="1.6" height="1.6" fill="#8a4453" fill-opacity="0.75"/>
<rect x="465.92" y="123.01" width="1.6" height="1.6" fill="#8a4453" fill-opacity="0.75"/>
<rect x="495.6" y="76.72" width="1.6" height="1.6" fill="#8a4453" fill-opacity="0.75"/>
<rect x="347.2" y="73.85" width="1.6" height="1.6" fill="#8a4453" fill-opacity="0.75"/>
<rect x="351.44" y="89.63" width="1.6" height="1.6" fill="#8a4453" fill-opacity="0.75"/>
<rect x="364.16" y="89.63" width="1.6" height="1.6" fill="#8a4453" fill-opacity="0.75"/>
<rect x="372.64" y="123.01" width="1.6" height="1.6" fill="#8a4453" fill-opacity="0.75"/>
<rect x="381.12" y="123.01" width="1.6" height="1.6" fill="#8a4453" fill-opacity="0.75"/>
<rect x="385.36" y="123.01" width="1.6" height="1.6" fill="#8a4453" fill-opacity="0.75"/>
<rect x="389.6" y="123.01" width="1.6" height="1.6" fill="#8a4453" fill-opacity="0.75"/>
<rect x="398.08" y="123.01" width="1.6" height="1.6" fill="#8a4453" fill-opacity="0.75"/>
<rect x="415.04" y="123.01" width="1.6" height="1.6" fill="#8a4453" fill-opacity="0.75"/>
<rect x="419.28" y="123.01" width="1.6" height="1.6" fill="#8a4453" fill-opacity="0.75"/>
<rect x="423.52" y="123.01" width="1.6" height="1.6" fill="#8a4453" fill-opacity="0.75"/>
<rect x="432" y="123.01" width="1.6" height="1.6" fill="#8a4453" fill-opacity="0.75"/>
<rect x="448.96" y="123.01" width="1.6" height="1.6" fill="#8a4453" fill-opacity="0.75"/>
<rect x="457.44" y="110.1" width="1.6" height="1.6" fill="#8a4453" fill-opacity="0.75"/>
<rect x="461.68" y="123.01" width="1.6" height="1.6" fill="#8a4453" fill-opacity="0.75"/>
<rect x="495.6" y="123.01" width="1.6" height="1.6" fill="#8a4453" fill-opacity="0.75"/>
<rect x="347.2" y="110.1" width="1.6" height="1.6" fill="#8a4453" fill-opacity="0.75"/>
<rect x="355.68" y="123.01" width="1.6" height="1.6" fill="#8a4453" fill-opacity="0.75"/>
<rect x="359.92" y="110.1" width="1.6" height="1.6" fill="#8a4453" fill-opacity="0.75"/>
<rect x="368.4" y="123.01" width="1.6" height="1.6" fill="#8a4453" fill-opacity="0.75"/>
<rect x="389.6" y="123.01" width="1.6" height="1.6" fill="#8a4453" fill-opacity="0.75"/>
<rect x="393.84" y="123.01" width="1.6" height="1.6" fill="#8a4453" fill-opacity="0.75"/>
<rect x="398.08" y="123.01" width="1.6" height="1.6" fill="#8a4453" fill-opacity="0.75"/>
<rect x="406.56" y="123.01" width="1.6" height="1.6" fill="#8a4453" fill-opacity="0.75"/>
<rect x="410.8" y="123.01" width="1.6" height="1.6" fill="#8a4453" fill-opacity="0.75"/>
<rect x="427.76" y="123.01" width="1.6" height="1.6" fill="#8a4453" fill-opacity="0.75"/>
<rect x="432" y="123.01" width="1.6" height="1.6" fill="#8a4453" fill-opacity="0.75"/>
<rect x="440.48" y="97.19" width="1.6" height="1.6" fill="#8a4453" fill-opacity="0.75"/>
<rect x="444.72" y="97.19" width="1.6" height="1.6" fill="#8a4453" fill-opacity="0.75"/>
<rect x="448.96" y="89.63" width="1.6" height="1.6" fill="#8a4453" fill-opacity="0.75"/>
<rect x="453.2" y="76.72" width="1.6" height="1.6" fill="#8a4453" fill-opacity="0.75"/>
<rect x="457.44" y="84.27" width="1.6" height="1.6" fill="#8a4453" fill-opacity="0.75"/>
<rect x="495.6" y="97.19" width="1.6" height="1.6" fill="#8a4453" fill-opacity="0.75"/>
<rect x="347.2" y="59.65" width="1.6" height="1.6" fill="#8a4453" fill-opacity="0.75"/>
<rect x="355.68" y="76.72" width="1.6" height="1.6" fill="#8a4453" fill-opacity="0.75"/>
<rect x="359.92" y="73.85" width="1.6" height="1.6" fill="#8a4453" fill-opacity="0.75"/>
<rect x="364.16" y="80.11" width="1.6" height="1.6" fill="#8a4453" fill-opacity="0.75"/>
<rect x="372.64" y="89.63" width="1.6" height="1.6" fill="#8a4453" fill-opacity="0.75"/>
<rect x="389.6" y="97.19" width="1.6" height="1.6" fill="#8a4453" fill-opacity="0.75"/>
<rect x="406.56" y="110.1" width="1.6" height="1.6" fill="#8a4453" fill-opacity="0.75"/>
<rect x="432" y="110.1" width="1.6" height="1.6" fill="#8a4453" fill-opacity="0.75"/>
<rect x="436.24" y="89.63" width="1.6" height="1.6" fill="#8a4453" fill-opacity="0.75"/>
<rect x="440.48" y="89.63" width="1.6" height="1.6" fill="#8a4453" fill-opacity="0.75"/>
<rect x="453.2" y="97.19" width="1.6" height="1.6" fill="#8a4453" fill-opacity="0.75"/>
<rect x="495.6" y="123.01" width="1.6" height="1.6" fill="#8a4453" fill-opacity="0.75"/>
<rect x="347.2" y="71.36" width="1.6" height="1.6" fill="#8a4453" fill-opacity="0.75"/>
<rect x="351.44" y="89.63" width="1.6" height="1.6" fill="#8a4453" fill-opacity="0.75"/>
<rect x="355.68" y="89.63" width="1.6" height="1.6" fill="#8a4453" fill-opacity="0.75"/>
<rect x="359.92" y="89.63" width="1.6" height="1.6" fill="#8a4453" fill-opacity="0.75"/>
<rect x="364.16" y="110.1" width="1.6" height="1.6" fill="#8a4453" fill-opacity="0.75"/>
<rect x="368.4" y="110.1" width="1.6" height="1.6" fill="#8a4453" fill-opacity="0.75"/>
<rect x="372.64" y="89.63" width="1.6" height="1.6" fill="#8a4453" fill-opacity="0.75"/>
<rect x="376.88" y="123.01" width="1.6" height="1.6" fill="#8a4453" fill-opacity="0.75"/>
<rect x="381.12" y="123.01" width="1.6" height="1.6" fill="#8a4453" fill-opacity="0.75"/>
<rect x="385.36" y="123.01" width="1.6" height="1.6" fill="#8a4453" fill-opacity="0.75"/>
<rect x="398.08" y="123.01" width="1.6" height="1.6" fill="#8a4453" fill-opacity="0.75"/>
<rect x="406.56" y="123.01" width="1.6" height="1.6" fill="#8a4453" fill-opacity="0.75"/>
<rect x="410.8" y="123.01" width="1.6" height="1.6" fill="#8a4453" fill-opacity="0.75"/>
<rect x="415.04" y="123.01" width="1.6" height="1.6" fill="#8a4453" fill-opacity="0.75"/>
<rect x="419.28" y="123.01" width="1.6" height="1.6" fill="#8a4453" fill-opacity="0.75"/>
<rect x="423.52" y="123.01" width="1.6" height="1.6" fill="#8a4453" fill-opacity="0.75"/>
<rect x="432" y="123.01" width="1.6" height="1.6" fill="#8a4453" fill-opacity="0.75"/>
<rect x="436.24" y="123.01" width="1.6" height="1.6" fill="#8a4453" fill-opacity="0.75"/>
<rect x="444.72" y="97.19" width="1.6" height="1.6" fill="#8a4453" fill-opacity="0.75"/>
<rect x="448.96" y="84.27" width="1.6" height="1.6" fill="#8a4453" fill-opacity="0.75"/>
<rect x="453.2" y="84.27" width="1.6" height="1.6" fill="#8a4453" fill-opacity="0.75"/>
<rect x="495.6" y="80.11" width="1.6" height="1.6" fill="#8a4453" fill-opacity="0.75"/>
<rect x="347.2" y="69.16" width="1.6" height="1.6" fill="#8a4453" fill-opacity="0.75"/>
<rect x="351.44" y="73.85" width="1.6" height="1.6" fill="#8a4453" fill-opacity="0.75"/>
<rect x="359.92" y="76.72" width="1.6" height="1.6" fill="#8a4453" fill-opacity="0.75"/>
<rect x="364.16" y="84.27" width="1.6" height="1.6" fill="#8a4453" fill-opacity="0.75"/>
<rect x="368.4" y="89.63" width="1.6" height="1.6" fill="#8a4453" fill-opacity="0.75"/>
<rect x="376.88" y="89.63" width="1.6" height="1.6" fill="#8a4453" fill-opacity="0.75"/>
<rect x="381.12" y="97.19" width="1.6" height="1.6" fill="#8a4453" fill-opacity="0.75"/>
<rect x="385.36" y="89.63" width="1.6" height="1.6" fill="#8a4453" fill-opacity="0.75"/>
<rect x="389.6" y="110.1" width="1.6" height="1.6" fill="#8a4453" fill-opacity="0.75"/>
<rect x="398.08" y="97.19" width="1.6" height="1.6" fill="#8a4453" fill-opacity="0.75"/>
<rect x="402.32" y="110.1" width="1.6" height="1.6" fill="#8a4453" fill-opacity="0.75"/>
<rect x="415.04" y="123.01" width="1.6" height="1.6" fill="#8a4453" fill-opacity="0.75"/>
<rect x="419.28" y="110.1" width="1.6" height="1.6" fill="#8a4453" fill-opacity="0.75"/>
<rect x="423.52" y="123.01" width="1.6" height="1.6" fill="#8a4453" fill-opacity="0.75"/>
<rect x="436.24" y="123.01" width="1.6" height="1.6" fill="#8a4453" fill-opacity="0.75"/>
<rect x="440.48" y="97.19" width="1.6" height="1.6" fill="#8a4453" fill-opacity="0.75"/>
<rect x="444.72" y="84.27" width="1.6" height="1.6" fill="#8a4453" fill-opacity="0.75"/>
<rect x="453.2" y="80.11" width="1.6" height="1.6" fill="#8a4453" fill-opacity="0.75"/>
<rect x="461.68" y="60.93" width="1.6" height="1.6" fill="#8a4453" fill-opacity="0.75"/>
<rect x="495.6" y="110.1" width="1.6" height="1.6" fill="#8a4453" fill-opacity="0.75"/>
<rect x="347.2" y="59.65" width="1.6" height="1.6" fill="#8a4453" fill-opacity="0.75"/>
<rect x="355.68" y="97.19" width="1.6" height="1.6" fill="#8a4453" fill-opacity="0.75"/>
<rect x="359.92" y="97.19" width="1.6" height="1.6" fill="#8a4453" fill-opacity="0.75"/>
<rect x="368.4" y="97.19" width="1.6" height="1.6" fill="#8a4453" fill-opacity="0.75"/>
<rect x="372.64" y="97.19" width="1.6" height="1.6" fill="#8a4453" fill-opacity="0.75"/>
<rect x="381.12" y="123.01" width="1.6" height="1.6" fill="#8a4453" fill-opacity="0.75"/>
<rect x="393.84" y="123.01" width="1.6" height="1.6" fill="#8a4453" fill-opacity="0.75"/>
<rect x="398.08" y="123.01" width="1.6" height="1.6" fill="#8a4453" fill-opacity="0.75"/>
<rect x="410.8" y="123.01" width="1.6" height="1.6" fill="#8a4453" fill-opacity="0.75"/>
<rect x="415.04" y="123.01" width="1.6" height="1.6" fill="#8a4453" fill-opacity="0.75"/>
<rect x="419.28" y="123.01" width="1.6" height="1.6" fill="#8a4453" fill-opacity="0.75"/>
<rect x="423.52" y="110.1" width="1.6" height="1.6" fill="#8a4453" fill-opacity="0.75"/>
<rect x="427.76" y="123.01" width="1.6" height="1.6" fill="#8a4453" fill-opacity="0.75"/>
<rect x="432" y="123.01" width="1.6" height="1.6" fill="#8a4453" fill-opacity="0.75"/>
<rect x="444.72" y="123.01" width="1.6" height="1.6" fill="#8a4453" fill-opacity="0.75"/>
<rect x="448.96" y="123.01" width="1.6" height="1.6" fill="#8a4453" fill-opacity="0.75"/>
<rect x="465.92" y="123.01" width="1.6" height="1.6" fill="#8a4453" fill-opacity="0.75"/>
<rect x="495.6" y="97.19" width="1.6" height="1.6" fill="#8a4453" fill-opacity="0.75"/>
<rect x="347.2" y="84.27" width="1.6" height="1.6" fill="#8a4453" fill-opacity="0.75"/>
<rect x="359.92" y="97.19" width="1.6" height="1.6" fill="#8a4453" fill-opacity="0.75"/>
<rect x="364.16" y="110.1" width="1.6" height="1.6" fill="#8a4453" fill-opacity="0.75"/>
<rect x="368.4" y="123.01" width="1.6" height="1.6" fill="#8a4453" fill-opacity="0.75"/>
<rect x="376.88" y="123.01" width="1.6" height="1.6" fill="#8a4453" fill-opacity="0.75"/>
<rect x="385.36" y="123.01" width="1.6" height="1.6" fill="#8a4453" fill-opacity="0.75"/>
<rect x="389.6" y="123.01" width="1.6" height="1.6" fill="#8a4453" fill-opacity="0.75"/>
<rect x="398.08" y="123.01" width="1.6" height="1.6" fill="#8a4453" fill-opacity="0.75"/>
<rect x="406.56" y="123.01" width="1.6" height="1.6" fill="#8a4453" fill-opacity="0.75"/>
<rect x="423.52" y="80.11" width="1.6" height="1.6" fill="#8a4453" fill-opacity="0.75"/>
<rect x="432" y="69.16" width="1.6" height="1.6" fill="#8a4453" fill-opacity="0.75"/>
<rect x="440.48" y="73.85" width="1.6" height="1.6" fill="#8a4453" fill-opacity="0.75"/>
<rect x="444.72" y="73.85" width="1.6" height="1.6" fill="#8a4453" fill-opacity="0.75"/>
<rect x="448.96" y="73.85" width="1.6" height="1.6" fill="#8a4453" fill-opacity="0.75"/>
<rect x="453.2" y="67.2" width="1.6" height="1.6" fill="#8a4453" fill-opacity="0.75"/>
<rect x="461.68" y="80.11" width="1.6" height="1.6" fill="#8a4453" fill-opacity="0.75"/>
<rect x="495.6" y="97.19" width="1.6" height="1.6" fill="#8a4453" fill-opacity="0.75"/>
<rect x="347.2" y="97.19" width="1.6" height="1.6" fill="#8a4453" fill-opacity="0.75"/>
<rect x="351.44" y="97.19" width="1.6" height="1.6" fill="#8a4453" fill-opacity="0.75"/>
<rect x="355.68" y="97.19" width="1.6" height="1.6" fill="#8a4453" fill-opacity="0.75"/>
<rect x="359.92" y="97.19" width="1.6" height="1.6" fill="#8a4453" fill-opacity="0.75"/>
<rect x="368.4" y="110.1" width="1.6" height="1.6" fill="#8a4453" fill-opacity="0.75"/>
<rect x="372.64" y="123.01" width="1.6" height="1.6" fill="#8a4453" fill-opacity="0.75"/>
<rect x="376.88" y="123.01" width="1.6" height="1.6" fill="#8a4453" fill-opacity="0.75"/>
<rect x="393.84" y="123.01" width="1.6" height="1.6" fill="#8a4453" fill-opacity="0.75"/>
<rect x="402.32" y="123.01" width="1.6" height="1.6" fill="#8a4453" fill-opacity="0.75"/>
<rect x="419.28" y="123.01" width="1.6" height="1.6" fill="#8a4453" fill-opacity="0.75"/>
<rect x="423.52" y="123.01" width="1.6" height="1.6" fill="#8a4453" fill-opacity="0.75"/>
<rect x="427.76" y="123.01" width="1.6" height="1.6" fill="#8a4453" fill-opacity="0.75"/>
<rect x="432" y="123.01" width="1.6" height="1.6" fill="#8a4453" fill-opacity="0.75"/>
<rect x="436.24" y="123.01" width="1.6" height="1.6" fill="#8a4453" fill-opacity="0.75"/>
<rect x="444.72" y="97.19" width="1.6" height="1.6" fill="#8a4453" fill-opacity="0.75"/>
<rect x="453.2" y="71.36" width="1.6" height="1.6" fill="#8a4453" fill-opacity="0.75"/>
<rect x="457.44" y="80.11" width="1.6" height="1.6" fill="#8a4453" fill-opacity="0.75"/>
<rect x="495.6" y="123.01" width="1.6" height="1.6" fill="#8a4453" fill-opacity="0.75"/>
<rect x="347.2" y="123.01" width="1.6" height="1.6" fill="#8a4453" fill-opacity="0.75"/>
<rect x="355.68" y="123.01" width="1.6" height="1.6" fill="#8a4453" fill-opacity="0.75"/>
<rect x="368.4" y="123.01" width="1.6" height="1.6" fill="#8a4453" fill-opacity="0.75"/>
<rect x="372.64" y="123.01" width="1.6" height="1.6" fill="#8a4453" fill-opacity="0.75"/>
<rect x="376.88" y="123.01" width="1.6" height="1.6" fill="#8a4453" fill-opacity="0.75"/>
<rect x="381.12" y="123.01" width="1.6" height="1.6" fill="#8a4453" fill-opacity="0.75"/>
<rect x="385.36" y="123.01" width="1.6" height="1.6" fill="#8a4453" fill-opacity="0.75"/>
<rect x="389.6" y="123.01" width="1.6" height="1.6" fill="#8a4453" fill-opacity="0.75"/>
<rect x="398.08" y="123.01" width="1.6" height="1.6" fill="#8a4453" fill-opacity="0.75"/>
<rect x="402.32" y="123.01" width="1.6" height="1.6" fill="#8a4453" fill-opacity="0.75"/>
<rect x="406.56" y="123.01" width="1.6" height="1.6" fill="#8a4453" fill-opacity="0.75"/>
<rect x="410.8" y="123.01" width="1.6" height="1.6" fill="#8a4453" fill-opacity="0.75"/>
<rect x="423.52" y="123.01" width="1.6" height="1.6" fill="#8a4453" fill-opacity="0.75"/>
<rect x="427.76" y="110.1" width="1.6" height="1.6" fill="#8a4453" fill-opacity="0.75"/>
<rect x="444.72" y="59.65" width="1.6" height="1.6" fill="#8a4453" fill-opacity="0.75"/>
<rect x="453.2" y="55.24" width="1.6" height="1.6" fill="#8a4453" fill-opacity="0.75"/>
<rect x="457.44" y="48.02" width="1.6" height="1.6" fill="#8a4453" fill-opacity="0.75"/>
<rect x="465.92" y="55.24" width="1.6" height="1.6" fill="#8a4453" fill-opacity="0.75"/>
<rect x="495.6" y="123.01" width="1.6" height="1.6" fill="#8a4453" fill-opacity="0.75"/>
<rect x="347.2" y="80.11" width="1.6" height="1.6" fill="#8a4453" fill-opacity="0.75"/>
<rect x="351.44" y="80.11" width="1.6" height="1.6" fill="#8a4453" fill-opacity="0.75"/>
<rect x="355.68" y="97.19" width="1.6" height="1.6" fill="#8a4453" fill-opacity="0.75"/>
<rect x="359.92" y="89.63" width="1.6" height="1.6" fill="#8a4453" fill-opacity="0.75"/>
<rect x="364.16" y="97.19" width="1.6" height="1.6" fill="#8a4453" fill-opacity="0.75"/>
<rect x="368.4" y="97.19" width="1.6" height="1.6" fill="#8a4453" fill-opacity="0.75"/>
<rect x="385.36" y="123.01" width="1.6" height="1.6" fill="#8a4453" fill-opacity="0.75"/>
<rect x="389.6" y="123.01" width="1.6" height="1.6" fill="#8a4453" fill-opacity="0.75"/>
<rect x="393.84" y="123.01" width="1.6" height="1.6" fill="#8a4453" fill-opacity="0.75"/>
<rect x="398.08" y="123.01" width="1.6" height="1.6" fill="#8a4453" fill-opacity="0.75"/>
<rect x="406.56" y="123.01" width="1.6" height="1.6" fill="#8a4453" fill-opacity="0.75"/>
<rect x="423.52" y="58.44" width="1.6" height="1.6" fill="#8a4453" fill-opacity="0.75"/>
<rect x="427.76" y="53.38" width="1.6" height="1.6" fill="#8a4453" fill-opacity="0.75"/>
<rect x="436.24" y="34.77" width="1.6" height="1.6" fill="#8a4453" fill-opacity="0.75"/>
<rect x="440.48" y="35.78" width="1.6" height="1.6" fill="#8a4453" fill-opacity="0.75"/>
<rect x="444.72" y="43.86" width="1.6" height="1.6" fill="#8a4453" fill-opacity="0.75"/>
<rect x="448.96" y="27.55" width="1.6" height="1.6" fill="#8a4453" fill-opacity="0.75"/>
<rect x="461.68" y="40.91" width="1.6" height="1.6" fill="#8a4453" fill-opacity="0.75"/>
<rect x="465.92" y="34.45" width="1.6" height="1.6" fill="#8a4453" fill-opacity="0.75"/>
<rect x="495.6" y="97.19" width="1.6" height="1.6" fill="#8a4453" fill-opacity="0.75"/>
<rect x="347.2" y="123.01" width="1.6" height="1.6" fill="#8a4453" fill-opacity="0.75"/>
<rect x="355.68" y="123.01" width="1.6" height="1.6" fill="#8a4453" fill-opacity="0.75"/>
<rect x="364.16" y="123.01" width="1.6" height="1.6" fill="#8a4453" fill-opacity="0.75"/>
<rect x="368.4" y="123.01" width="1.6" height="1.6" fill="#8a4453" fill-opacity="0.75"/>
<rect x="372.64" y="123.01" width="1.6" height="1.6" fill="#8a4453" fill-opacity="0.75"/>
<rect x="376.88" y="123.01" width="1.6" height="1.6" fill="#8a4453" fill-opacity="0.75"/>
<rect x="381.12" y="123.01" width="1.6" height="1.6" fill="#8a4453" fill-opacity="0.75"/>
<rect x="389.6" y="123.01" width="1.6" height="1.6" fill="#8a4453" fill-opacity="0.75"/>
<rect x="393.84" y="123.01" width="1.6" height="1.6" fill="#8a4453" fill-opacity="0.75"/>
<rect x="406.56" y="123.01" width="1.6" height="1.6" fill="#8a4453" fill-opacity="0.75"/>
<rect x="410.8" y="123.01" width="1.6" height="1.6" fill="#8a4453" fill-opacity="0.75"/>
<rect x="415.04" y="123.01" width="1.6" height="1.6" fill="#8a4453" fill-opacity="0.75"/>
<rect x="419.28" y="123.01" width="1.6" height="1.6" fill="#8a4453" fill-opacity="0.75"/>
<rect x="436.24" y="123.01" width="1.6" height="1.6" fill="#8a4453" fill-opacity="0.75"/>
<rect x="440.48" y="123.01" width="1.6" height="1.6" fill="#8a4453" fill-opacity="0.75"/>
<rect x="444.72" y="123.01" width="1.6" height="1.6" fill="#8a4453" fill-opacity="0.75"/>
<rect x="448.96" y="123.01" width="1.6" height="1.6" fill="#8a4453" fill-opacity="0.75"/>
<rect x="453.2" y="123.01" width="1.6" height="1.6" fill="#8a4453" fill-opacity="0.75"/>
<rect x="495.6" y="89.63" width="1.6" height="1.6" fill="#8a4453" fill-opacity="0.75"/>
<rect x="347.2" y="76.72" width="1.6" height="1.6" fill="#8a4453" fill-opacity="0.75"/>
<rect x="355.68" y="97.19" width="1.6" height="1.6" fill="#8a4453" fill-opacity="0.75"/>
<rect x="359.92" y="97.19" width="1.6" height="1.6" fill="#8a4453" fill-opacity="0.75"/>
<rect x="364.16" y="89.63" width="1.6" height="1.6" fill="#8a4453" fill-opacity="0.75"/>
<rect x="368.4" y="97.19" width="1.6" height="1.6" fill="#8a4453" fill-opacity="0.75"/>
<rect x="376.88" y="123.01" width="1.6" height="1.6" fill="#8a4453" fill-opacity="0.75"/>
<rect x="385.36" y="110.1" width="1.6" height="1.6" fill="#8a4453" fill-opacity="0.75"/>
<rect x="389.6" y="110.1" width="1.6" height="1.6" fill="#8a4453" fill-opacity="0.75"/>
<rect x="393.84" y="110.1" width="1.6" height="1.6" fill="#8a4453" fill-opacity="0.75"/>
<rect x="415.04" y="123.01" width="1.6" height="1.6" fill="#8a4453" fill-opacity="0.75"/>
<rect x="419.28" y="123.01" width="1.6" height="1.6" fill="#8a4453" fill-opacity="0.75"/>
<rect x="427.76" y="123.01" width="1.6" height="1.6" fill="#8a4453" fill-opacity="0.75"/>
<rect x="432" y="110.1" width="1.6" height="1.6" fill="#8a4453" fill-opacity="0.75"/>
<rect x="436.24" y="123.01" width="1.6" height="1.6" fill="#8a4453" fill-opacity="0.75"/>
<rect x="440.48" y="123.01" width="1.6" height="1.6" fill="#8a4453" fill-opacity="0.75"/>
<rect x="453.2" y="123.01" width="1.6" height="1.6" fill="#8a4453" fill-opacity="0.75"/>
<rect x="461.68" y="110.1" width="1.6" height="1.6" fill="#8a4453" fill-opacity="0.75"/>
<rect x="495.6" y="97.19" width="1.6" height="1.6" fill="#8a4453" fill-opacity="0.75"/>
<rect x="347.2" y="73.85" width="1.6" height="1.6" fill="#8a4453" fill-opacity="0.75"/>
<rect x="359.92" y="76.72" width="1.6" height="1.6" fill="#8a4453" fill-opacity="0.75"/>
<rect x="364.16" y="80.11" width="1.6" height="1.6" fill="#8a4453" fill-opacity="0.75"/>
<rect x="368.4" y="84.27" width="1.6" height="1.6" fill="#8a4453" fill-opacity="0.75"/>
<rect x="372.64" y="84.27" width="1.6" height="1.6" fill="#8a4453" fill-opacity="0.75"/>
<rect x="376.88" y="97.19" width="1.6" height="1.6" fill="#8a4453" fill-opacity="0.75"/>
<rect x="393.84" y="123.01" width="1.6" height="1.6" fill="#8a4453" fill-opacity="0.75"/>
<rect x="402.32" y="97.19" width="1.6" height="1.6" fill="#8a4453" fill-opacity="0.75"/>
<rect x="410.8" y="123.01" width="1.6" height="1.6" fill="#8a4453" fill-opacity="0.75"/>
<rect x="448.96" y="123.01" width="1.6" height="1.6" fill="#8a4453" fill-opacity="0.75"/>
<rect x="453.2" y="123.01" width="1.6" height="1.6" fill="#8a4453" fill-opacity="0.75"/>
<rect x="461.68" y="123.01" width="1.6" height="1.6" fill="#8a4453" fill-opacity="0.75"/>
<rect x="495.6" y="123.01" width="1.6" height="1.6" fill="#8a4453" fill-opacity="0.75"/>
<rect x="347.2" y="123.01" width="1.6" height="1.6" fill="#8a4453" fill-opacity="0.75"/>
<rect x="351.44" y="123.01" width="1.6" height="1.6" fill="#8a4453" fill-opacity="0.75"/>
<rect x="364.16" y="123.01" width="1.6" height="1.6" fill="#8a4453" fill-opacity="0.75"/>
<rect x="376.88" y="123.01" width="1.6" height="1.6" fill="#8a4453" fill-opacity="0.75"/>
<rect x="381.12" y="123.01" width="1.6" height="1.6" fill="#8a4453" fill-opacity="0.75"/>
<rect x="402.32" y="123.01" width="1.6" height="1.6" fill="#8a4453" fill-opacity="0.75"/>
<rect x="406.56" y="123.01" width="1.6" height="1.6" fill="#8a4453" fill-opacity="0.75"/>
<rect x="410.8" y="123.01" width="1.6" height="1.6" fill="#8a4453" fill-opacity="0.75"/>
<rect x="419.28" y="123.01" width="1.6" height="1.6" fill="#8a4453" fill-opacity="0.75"/>
<rect x="423.52" y="123.01" width="1.6" height="1.6" fill="#8a4453" fill-opacity="0.75"/>
<rect x="436.24" y="123.01" width="1.6" height="1.6" fill="#8a4453" fill-opacity="0.75"/>
<rect x="440.48" y="110.1" width="1.6" height="1.6" fill="#8a4453" fill-opacity="0.75"/>
<rect x="444.72" y="110.1" width="1.6" height="1.6" fill="#8a4453" fill-opacity="0.75"/>
<rect x="457.44" y="110.1" width="1.6" height="1.6" fill="#8a4453" fill-opacity="0.75"/>
<rect x="461.68" y="97.19" width="1.6" height="1.6" fill="#8a4453" fill-opacity="0.75"/>
<rect x="495.6" y="123.01" width="1.6" height="1.6" fill="#8a4453" fill-opacity="0.75"/>
<rect x="347.2" y="76.72" width="1.6" height="1.6" fill="#8a4453" fill-opacity="0.75"/>
<rect x="389.6" y="123.01" width="1.6" height="1.6" fill="#8a4453" fill-opacity="0.75"/>
<rect x="393.84" y="123.01" width="1.6" height="1.6" fill="#8a4453" fill-opacity="0.75"/>
<rect x="398.08" y="123.01" width="1.6" height="1.6" fill="#8a4453" fill-opacity="0.75"/>
<rect x="402.32" y="123.01" width="1.6" height="1.6" fill="#8a4453" fill-opacity="0.75"/>
<rect x="406.56" y="123.01" width="1.6" height="1.6" fill="#8a4453" fill-opacity="0.75"/>
<rect x="410.8" y="123.01" width="1.6" height="1.6" fill="#8a4453" fill-opacity="0.75"/>
<rect x="423.52" y="123.01" width="1.6" height="1.6" fill="#8a4453" fill-opacity="0.75"/>
<rect x="427.76" y="97.19" width="1.6" height="1.6" fill="#8a4453" fill-opacity="0.75"/>
<rect x="432" y="89.63" width="1.6" height="1.6" fill="#8a4453" fill-opacity="0.75"/>
<rect x="436.24" y="97.19" width="1.6" height="1.6" fill="#8a4453" fill-opacity="0.75"/>
<rect x="440.48" y="89.63" width="1.6" height="1.6" fill="#8a4453" fill-opacity="0.75"/>
<rect x="448.96" y="84.27" width="1.6" height="1.6" fill="#8a4453" fill-opacity="0.75"/>
<rect x="457.44" y="97.19" width="1.6" height="1.6" fill="#8a4453" fill-opacity="0.75"/>
<rect x="495.6" y="97.19" width="1.6" height="1.6" fill="#8a4453" fill-opacity="0.75"/>
<rect x="347.2" y="89.63" width="1.6" height="1.6" fill="#8a4453" fill-opacity="0.75"/>
<rect x="355.68" y="97.19" width="1.6" height="1.6" fill="#8a4453" fill-opacity="0.75"/>
<rect x="359.92" y="110.1" width="1.6" height="1.6" fill="#8a4453" fill-opacity="0.75"/>
<rect x="364.16" y="123.01" width="1.6" height="1.6" fill="#8a4453" fill-opacity="0.75"/>
<rect x="368.4" y="110.1" width="1.6" height="1.6" fill="#8a4453" fill-opacity="0.75"/>
<rect x="376.88" y="123.01" width="1.6" height="1.6" fill="#8a4453" fill-opacity="0.75"/>
<rect x="381.12" y="123.01" width="1.6" height="1.6" fill="#8a4453" fill-opacity="0.75"/>
<rect x="389.6" y="123.01" width="1.6" height="1.6" fill="#8a4453" fill-opacity="0.75"/>
<rect x="393.84" y="123.01" width="1.6" height="1.6" fill="#8a4453" fill-opacity="0.75"/>
<rect x="402.32" y="123.01" width="1.6" height="1.6" fill="#8a4453" fill-opacity="0.75"/>
<rect x="410.8" y="123.01" width="1.6" height="1.6" fill="#8a4453" fill-opacity="0.75"/>
<rect x="415.04" y="123.01" width="1.6" height="1.6" fill="#8a4453" fill-opacity="0.75"/>
<rect x="419.28" y="123.01" width="1.6" height="1.6" fill="#8a4453" fill-opacity="0.75"/>
<rect x="423.52" y="123.01" width="1.6" height="1.6" fill="#8a4453" fill-opacity="0.75"/>
<rect x="427.76" y="123.01" width="1.6" height="1.6" fill="#8a4453" fill-opacity="0.75"/>
<rect x="432" y="110.1" width="1.6" height="1.6" fill="#8a4453" fill-opacity="0.75"/>
<rect x="436.24" y="123.01" width="1.6" height="1.6" fill="#8a4453" fill-opacity="0.75"/>
<rect x="440.48" y="123.01" width="1.6" height="1.6" fill="#8a4453" fill-opacity="0.75"/>
<rect x="448.96" y="62.31" width="1.6" height="1.6" fill="#8a4453" fill-opacity="0.75"/>
<rect x="453.2" y="76.72" width="1.6" height="1.6" fill="#8a4453" fill-opacity="0.75"/>
<rect x="457.44" y="89.63" width="1.6" height="1.6" fill="#8a4453" fill-opacity="0.75"/>
<rect x="461.68" y="67.2" width="1.6" height="1.6" fill="#8a4453" fill-opacity="0.75"/>
<rect x="495.6" y="110.1" width="1.6" height="1.6" fill="#8a4453" fill-opacity="0.75"/>
<rect x="347.2" y="45.53" width="1.6" height="1.6" fill="#8a4453" fill-opacity="0.75"/>
<rect x="351.44" y="62.31" width="1.6" height="1.6" fill="#8a4453" fill-opacity="0.75"/>
<rect x="355.68" y="63.8" width="1.6" height="1.6" fill="#8a4453" fill-opacity="0.75"/>
<rect x="359.92" y="71.36" width="1.6" height="1.6" fill="#8a4453" fill-opacity="0.75"/>
<rect x="368.4" y="84.27" width="1.6" height="1.6" fill="#8a4453" fill-opacity="0.75"/>
<rect x="372.64" y="89.63" width="1.6" height="1.6" fill="#8a4453" fill-opacity="0.75"/>
<rect x="376.88" y="97.19" width="1.6" height="1.6" fill="#8a4453" fill-opacity="0.75"/>
<rect x="381.12" y="89.63" width="1.6" height="1.6" fill="#8a4453" fill-opacity="0.75"/>
<rect x="385.36" y="123.01" width="1.6" height="1.6" fill="#8a4453" fill-opacity="0.75"/>
<rect x="398.08" y="123.01" width="1.6" height="1.6" fill="#8a4453" fill-opacity="0.75"/>
<rect x="402.32" y="123.01" width="1.6" height="1.6" fill="#8a4453" fill-opacity="0.75"/>
<rect x="419.28" y="123.01" width="1.6" height="1.6" fill="#8a4453" fill-opacity="0.75"/>
<rect x="423.52" y="123.01" width="1.6" height="1.6" fill="#8a4453" fill-opacity="0.75"/>
<rect x="436.24" y="123.01" width="1.6" height="1.6" fill="#8a4453" fill-opacity="0.75"/>
<rect x="440.48" y="123.01" width="1.6" height="1.6" fill="#8a4453" fill-opacity="0.75"/>
<rect x="444.72" y="123.01" width="1.6" height="1.6" fill="#8a4453" fill-opacity="0.75"/>
<rect x="448.96" y="123.01" width="1.6" height="1.6" fill="#8a4453" fill-opacity="0.75"/>
<rect x="457.44" y="123.01" width="1.6" height="1.6" fill="#8a4453" fill-opacity="0.75"/>
<rect x="465.92" y="123.01" width="1.6" height="1.6" fill="#8a4453" fill-opacity="0.75"/>
<rect x="495.6" y="84.27" width="1.6" height="1.6" fill="#8a4453" fill-opacity="0.75"/>
<rect x="347.2" y="97.19" width="1.6" height="1.6" fill="#8a4453" fill-opacity="0.75"/>
<rect x="351.44" y="89.63" width="1.6" height="1.6" fill="#8a4453" fill-opacity="0.75"/>
<rect x="355.68" y="89.63" width="1.6" height="1.6" fill="#8a4453" fill-opacity="0.75"/>
<rect x="359.92" y="89.63" width="1.6" height="1.6" fill="#8a4453" fill-opacity="0.75"/>
<rect x="364.16" y="97.19" width="1.6" height="1.6" fill="#8a4453" fill-opacity="0.75"/>
<rect x="368.4" y="97.19" width="1.6" height="1.6" fill="#8a4453" fill-opacity="0.75"/>
<rect x="372.64" y="110.1" width="1.6" height="1.6" fill="#8a4453" fill-opacity="0.75"/>
<rect x="376.88" y="97.19" width="1.6" height="1.6" fill="#8a4453" fill-opacity="0.75"/>
<rect x="389.6" y="110.1" width="1.6" height="1.6" fill="#8a4453" fill-opacity="0.75"/>
<rect x="393.84" y="123.01" width="1.6" height="1.6" fill="#8a4453" fill-opacity="0.75"/>
<rect x="415.04" y="123.01" width="1.6" height="1.6" fill="#8a4453" fill-opacity="0.75"/>
<rect x="419.28" y="123.01" width="1.6" height="1.6" fill="#8a4453" fill-opacity="0.75"/>
<rect x="427.76" y="123.01" width="1.6" height="1.6" fill="#8a4453" fill-opacity="0.75"/>
<rect x="432" y="123.01" width="1.6" height="1.6" fill="#8a4453" fill-opacity="0.75"/>
<rect x="440.48" y="123.01" width="1.6" height="1.6" fill="#8a4453" fill-opacity="0.75"/>
<rect x="444.72" y="123.01" width="1.6" height="1.6" fill="#8a4453" fill-opacity="0.75"/>
<rect x="453.2" y="123.01" width="1.6" height="1.6" fill="#8a4453" fill-opacity="0.75"/>
<rect x="465.92" y="123.01" width="1.6" height="1.6" fill="#8a4453" fill-opacity="0.75"/>
<rect x="495.6" y="97.19" width="1.6" height="1.6" fill="#8a4453" fill-opacity="0.75"/>
<rect x="347.2" y="80.11" width="1.6" height="1.6" fill="#8a4453" fill-opacity="0.75"/>
<rect x="351.44" y="89.63" width="1.6" height="1.6" fill="#8a4453" fill-opacity="0.75"/>
<rect x="364.16" y="123.01" width="1.6" height="1.6" fill="#8a4453" fill-opacity="0.75"/>
<rect x="368.4" y="110.1" width="1.6" height="1.6" fill="#8a4453" fill-opacity="0.75"/>
<rect x="376.88" y="123.01" width="1.6" height="1.6" fill="#8a4453" fill-opacity="0.75"/>
<rect x="385.36" y="123.01" width="1.6" height="1.6" fill="#8a4453" fill-opacity="0.75"/>
<rect x="393.84" y="123.01" width="1.6" height="1.6" fill="#8a4453" fill-opacity="0.75"/>
<rect x="410.8" y="123.01" width="1.6" height="1.6" fill="#8a4453" fill-opacity="0.75"/>
<rect x="419.28" y="123.01" width="1.6" height="1.6" fill="#8a4453" fill-opacity="0.75"/>
<rect x="423.52" y="123.01" width="1.6" height="1.6" fill="#8a4453" fill-opacity="0.75"/>
<rect x="432" y="123.01" width="1.6" height="1.6" fill="#8a4453" fill-opacity="0.75"/>
<rect x="436.24" y="123.01" width="1.6" height="1.6" fill="#8a4453" fill-opacity="0.75"/>
<rect x="440.48" y="84.27" width="1.6" height="1.6" fill="#8a4453" fill-opacity="0.75"/>
<rect x="457.44" y="76.72" width="1.6" height="1.6" fill="#8a4453" fill-opacity="0.75"/>
<rect x="495.6" y="123.01" width="1.6" height="1.6" fill="#8a4453" fill-opacity="0.75"/>
<rect x="347.2" y="62.31" width="1.6" height="1.6" fill="#4a5478" fill-opacity="0.75"/>
<rect x="351.44" y="57.31" width="1.6" height="1.6" fill="#4a5478" fill-opacity="0.75"/>
<rect x="359.92" y="80.11" width="1.6" height="1.6" fill="#4a5478" fill-opacity="0.75"/>
<rect x="372.64" y="69.16" width="1.6" height="1.6" fill="#4a5478" fill-opacity="0.75"/>
<rect x="376.88" y="84.27" width="1.6" height="1.6" fill="#4a5478" fill-opacity="0.75"/>
<rect x="381.12" y="97.19" width="1.6" height="1.6" fill="#4a5478" fill-opacity="0.75"/>
<rect x="385.36" y="89.63" width="1.6" height="1.6" fill="#4a5478" fill-opacity="0.75"/>
<rect x="402.32" y="110.1" width="1.6" height="1.6" fill="#4a5478" fill-opacity="0.75"/>
<rect x="415.04" y="97.19" width="1.6" height="1.6" fill="#4a5478" fill-opacity="0.75"/>
<rect x="419.28" y="89.63" width="1.6" height="1.6" fill="#4a5478" fill-opacity="0.75"/>
<rect x="423.52" y="69.16" width="1.6" height="1.6" fill="#4a5478" fill-opacity="0.75"/>
<rect x="427.76" y="62.31" width="1.6" height="1.6" fill="#4a5478" fill-opacity="0.75"/>
<rect x="436.24" y="56.25" width="1.6" height="1.6" fill="#4a5478" fill-opacity="0.75"/>
<rect x="453.2" y="57.31" width="1.6" height="1.6" fill="#4a5478" fill-opacity="0.75"/>
<rect x="461.68" y="62.31" width="1.6" height="1.6" fill="#4a5478" fill-opacity="0.75"/>
<rect x="465.92" y="54.29" width="1.6" height="1.6" fill="#4a5478" fill-opacity="0.75"/>
<rect x="495.6" y="76.72" width="1.6" height="1.6" fill="#4a5478" fill-opacity="0.75"/>
<rect x="347.2" y="84.27" width="1.6" height="1.6" fill="#4a5478" fill-opacity="0.75"/>
<rect x="351.44" y="71.36" width="1.6" height="1.6" fill="#4a5478" fill-opacity="0.75"/>
<rect x="355.68" y="84.27" width="1.6" height="1.6" fill="#4a5478" fill-opacity="0.75"/>
<rect x="359.92" y="80.11" width="1.6" height="1.6" fill="#4a5478" fill-opacity="0.75"/>
<rect x="368.4" y="84.27" width="1.6" height="1.6" fill="#4a5478" fill-opacity="0.75"/>
<rect x="372.64" y="84.27" width="1.6" height="1.6" fill="#4a5478" fill-opacity="0.75"/>
<rect x="376.88" y="97.19" width="1.6" height="1.6" fill="#4a5478" fill-opacity="0.75"/>
<rect x="389.6" y="123.01" width="1.6" height="1.6" fill="#4a5478" fill-opacity="0.75"/>
<rect x="393.84" y="97.19" width="1.6" height="1.6" fill="#4a5478" fill-opacity="0.75"/>
<rect x="402.32" y="123.01" width="1.6" height="1.6" fill="#4a5478" fill-opacity="0.75"/>
<rect x="406.56" y="110.1" width="1.6" height="1.6" fill="#4a5478" fill-opacity="0.75"/>
<rect x="410.8" y="110.1" width="1.6" height="1.6" fill="#4a5478" fill-opacity="0.75"/>
<rect x="419.28" y="97.19" width="1.6" height="1.6" fill="#4a5478" fill-opacity="0.75"/>
<rect x="423.52" y="97.19" width="1.6" height="1.6" fill="#4a5478" fill-opacity="0.75"/>
<rect x="427.76" y="84.27" width="1.6" height="1.6" fill="#4a5478" fill-opacity="0.75"/>
<rect x="440.48" y="60.93" width="1.6" height="1.6" fill="#4a5478" fill-opacity="0.75"/>
<rect x="444.72" y="65.42" width="1.6" height="1.6" fill="#4a5478" fill-opacity="0.75"/>
<rect x="448.96" y="50.89" width="1.6" height="1.6" fill="#4a5478" fill-opacity="0.75"/>
<rect x="457.44" y="49.4" width="1.6" height="1.6" fill="#4a5478" fill-opacity="0.75"/>
<rect x="495.6" y="59.65" width="1.6" height="1.6" fill="#4a5478" fill-opacity="0.75"/>
<rect x="347.2" y="76.72" width="1.6" height="1.6" fill="#4a5478" fill-opacity="0.75"/>
<rect x="351.44" y="84.27" width="1.6" height="1.6" fill="#4a5478" fill-opacity="0.75"/>
<rect x="364.16" y="89.63" width="1.6" height="1.6" fill="#4a5478" fill-opacity="0.75"/>
<rect x="372.64" y="110.1" width="1.6" height="1.6" fill="#4a5478" fill-opacity="0.75"/>
<rect x="381.12" y="110.1" width="1.6" height="1.6" fill="#4a5478" fill-opacity="0.75"/>
<rect x="385.36" y="123.01" width="1.6" height="1.6" fill="#4a5478" fill-opacity="0.75"/>
<rect x="389.6" y="123.01" width="1.6" height="1.6" fill="#4a5478" fill-opacity="0.75"/>
<rect x="398.08" y="97.19" width="1.6" height="1.6" fill="#4a5478" fill-opacity="0.75"/>
<rect x="406.56" y="80.11" width="1.6" height="1.6" fill="#4a5478" fill-opacity="0.75"/>
<rect x="419.28" y="42.33" width="1.6" height="1.6" fill="#4a5478" fill-opacity="0.75"/>
<rect x="432" y="27.77" width="1.6" height="1.6" fill="#4a5478" fill-opacity="0.75"/>
<rect x="436.24" y="34.13" width="1.6" height="1.6" fill="#4a5478" fill-opacity="0.75"/>
<rect x="444.72" y="28.23" width="1.6" height="1.6" fill="#4a5478" fill-opacity="0.75"/>
<rect x="448.96" y="34.77" width="1.6" height="1.6" fill="#4a5478" fill-opacity="0.75"/>
<rect x="453.2" y="25.06" width="1.6" height="1.6" fill="#4a5478" fill-opacity="0.75"/>
<rect x="461.68" y="29.91" width="1.6" height="1.6" fill="#4a5478" fill-opacity="0.75"/>
<rect x="495.6" y="42.33" width="1.6" height="1.6" fill="#4a5478" fill-opacity="0.75"/>
<rect x="347.2" y="65.42" width="1.6" height="1.6" fill="#4a5478" fill-opacity="0.75"/>
<rect x="351.44" y="71.36" width="1.6" height="1.6" fill="#4a5478" fill-opacity="0.75"/>
<rect x="355.68" y="76.72" width="1.6" height="1.6" fill="#4a5478" fill-opacity="0.75"/>
<rect x="359.92" y="84.27" width="1.6" height="1.6" fill="#4a5478" fill-opacity="0.75"/>
<rect x="372.64" y="110.1" width="1.6" height="1.6" fill="#4a5478" fill-opacity="0.75"/>
<rect x="385.36" y="97.19" width="1.6" height="1.6" fill="#4a5478" fill-opacity="0.75"/>
<rect x="393.84" y="97.19" width="1.6" height="1.6" fill="#4a5478" fill-opacity="0.75"/>
<rect x="398.08" y="123.01" width="1.6" height="1.6" fill="#4a5478" fill-opacity="0.75"/>
<rect x="402.32" y="110.1" width="1.6" height="1.6" fill="#4a5478" fill-opacity="0.75"/>
<rect x="419.28" y="97.19" width="1.6" height="1.6" fill="#4a5478" fill-opacity="0.75"/>
<rect x="423.52" y="97.19" width="1.6" height="1.6" fill="#4a5478" fill-opacity="0.75"/>
<rect x="427.76" y="97.19" width="1.6" height="1.6" fill="#4a5478" fill-opacity="0.75"/>
<rect x="436.24" y="73.85" width="1.6" height="1.6" fill="#4a5478" fill-opacity="0.75"/>
<rect x="448.96" y="63.8" width="1.6" height="1.6" fill="#4a5478" fill-opacity="0.75"/>
<rect x="457.44" y="62.31" width="1.6" height="1.6" fill="#4a5478" fill-opacity="0.75"/>
<rect x="461.68" y="60.93" width="1.6" height="1.6" fill="#4a5478" fill-opacity="0.75"/>
<rect x="495.6" y="84.27" width="1.6" height="1.6" fill="#4a5478" fill-opacity="0.75"/>
<rect x="347.2" y="52.51" width="1.6" height="1.6" fill="#4a5478" fill-opacity="0.75"/>
<rect x="351.44" y="60.93" width="1.6" height="1.6" fill="#4a5478" fill-opacity="0.75"/>
<rect x="355.68" y="50.89" width="1.6" height="1.6" fill="#4a5478" fill-opacity="0.75"/>
<rect x="359.92" y="71.36" width="1.6" height="1.6" fill="#4a5478" fill-opacity="0.75"/>
<rect x="364.16" y="73.85" width="1.6" height="1.6" fill="#4a5478" fill-opacity="0.75"/>
<rect x="368.4" y="73.85" width="1.6" height="1.6" fill="#4a5478" fill-opacity="0.75"/>
<rect x="372.64" y="84.27" width="1.6" height="1.6" fill="#4a5478" fill-opacity="0.75"/>
<rect x="376.88" y="80.11" width="1.6" height="1.6" fill="#4a5478" fill-opacity="0.75"/>
<rect x="381.12" y="97.19" width="1.6" height="1.6" fill="#4a5478" fill-opacity="0.75"/>
<rect x="389.6" y="110.1" width="1.6" height="1.6" fill="#4a5478" fill-opacity="0.75"/>
<rect x="393.84" y="97.19" width="1.6" height="1.6" fill="#4a5478" fill-opacity="0.75"/>
<rect x="410.8" y="110.1" width="1.6" height="1.6" fill="#4a5478" fill-opacity="0.75"/>
<rect x="415.04" y="110.1" width="1.6" height="1.6" fill="#4a5478" fill-opacity="0.75"/>
<rect x="419.28" y="123.01" width="1.6" height="1.6" fill="#4a5478" fill-opacity="0.75"/>
<rect x="423.52" y="89.63" width="1.6" height="1.6" fill="#4a5478" fill-opacity="0.75"/>
<rect x="427.76" y="80.11" width="1.6" height="1.6" fill="#4a5478" fill-opacity="0.75"/>
<rect x="432" y="73.85" width="1.6" height="1.6" fill="#4a5478" fill-opacity="0.75"/>
<rect x="495.6" y="62.31" width="1.6" height="1.6" fill="#4a5478" fill-opacity="0.75"/>
<rect x="347.2" y="54.29" width="1.6" height="1.6" fill="#4a5478" fill-opacity="0.75"/>
<rect x="359.92" y="76.72" width="1.6" height="1.6" fill="#4a5478" fill-opacity="0.75"/>
<rect x="368.4" y="97.19" width="1.6" height="1.6" fill="#4a5478" fill-opacity="0.75"/>
<rect x="372.64" y="97.19" width="1.6" height="1.6" fill="#4a5478" fill-opacity="0.75"/>
<rect x="376.88" y="84.27" width="1.6" height="1.6" fill="#4a5478" fill-opacity="0.75"/>
<rect x="381.12" y="97.19" width="1.6" height="1.6" fill="#4a5478" fill-opacity="0.75"/>
<rect x="393.84" y="110.1" width="1.6" height="1.6" fill="#4a5478" fill-opacity="0.75"/>
<rect x="402.32" y="110.1" width="1.6" height="1.6" fill="#4a5478" fill-opacity="0.75"/>
<rect x="415.04" y="80.11" width="1.6" height="1.6" fill="#4a5478" fill-opacity="0.75"/>
<rect x="419.28" y="71.36" width="1.6" height="1.6" fill="#4a5478" fill-opacity="0.75"/>
<rect x="423.52" y="63.8" width="1.6" height="1.6" fill="#4a5478" fill-opacity="0.75"/>
<rect x="427.76" y="69.16" width="1.6" height="1.6" fill="#4a5478" fill-opacity="0.75"/>
<rect x="436.24" y="69.16" width="1.6" height="1.6" fill="#4a5478" fill-opacity="0.75"/>
<rect x="440.48" y="59.65" width="1.6" height="1.6" fill="#4a5478" fill-opacity="0.75"/>
<rect x="448.96" y="59.65" width="1.6" height="1.6" fill="#4a5478" fill-opacity="0.75"/>
<rect x="453.2" y="65.42" width="1.6" height="1.6" fill="#4a5478" fill-opacity="0.75"/>
<rect x="457.44" y="58.44" width="1.6" height="1.6" fill="#4a5478" fill-opacity="0.75"/>
<rect x="495.6" y="69.16" width="1.6" height="1.6" fill="#4a5478" fill-opacity="0.75"/>
<rect x="347.2" y="84.27" width="1.6" height="1.6" fill="#4a5478" fill-opacity="0.75"/>
<rect x="351.44" y="76.72" width="1.6" height="1.6" fill="#4a5478" fill-opacity="0.75"/>
<rect x="355.68" y="89.63" width="1.6" height="1.6" fill="#4a5478" fill-opacity="0.75"/>
<rect x="359.92" y="89.63" width="1.6" height="1.6" fill="#4a5478" fill-opacity="0.75"/>
<rect x="368.4" y="97.19" width="1.6" height="1.6" fill="#4a5478" fill-opacity="0.75"/>
<rect x="372.64" y="89.63" width="1.6" height="1.6" fill="#4a5478" fill-opacity="0.75"/>
<rect x="376.88" y="110.1" width="1.6" height="1.6" fill="#4a5478" fill-opacity="0.75"/>
<rect x="385.36" y="89.63" width="1.6" height="1.6" fill="#4a5478" fill-opacity="0.75"/>
<rect x="389.6" y="97.19" width="1.6" height="1.6" fill="#4a5478" fill-opacity="0.75"/>
<rect x="393.84" y="89.63" width="1.6" height="1.6" fill="#4a5478" fill-opacity="0.75"/>
<rect x="402.32" y="110.1" width="1.6" height="1.6" fill="#4a5478" fill-opacity="0.75"/>
<rect x="406.56" y="97.19" width="1.6" height="1.6" fill="#4a5478" fill-opacity="0.75"/>
<rect x="415.04" y="73.85" width="1.6" height="1.6" fill="#4a5478" fill-opacity="0.75"/>
<rect x="423.52" y="58.44" width="1.6" height="1.6" fill="#4a5478" fill-opacity="0.75"/>
<rect x="432" y="62.31" width="1.6" height="1.6" fill="#4a5478" fill-opacity="0.75"/>
<rect x="436.24" y="63.8" width="1.6" height="1.6" fill="#4a5478" fill-opacity="0.75"/>
<rect x="440.48" y="53.38" width="1.6" height="1.6" fill="#4a5478" fill-opacity="0.75"/>
<rect x="444.72" y="55.24" width="1.6" height="1.6" fill="#4a5478" fill-opacity="0.75"/>
<rect x="453.2" y="59.65" width="1.6" height="1.6" fill="#4a5478" fill-opacity="0.75"/>
<rect x="457.44" y="63.8" width="1.6" height="1.6" fill="#4a5478" fill-opacity="0.75"/>
<rect x="461.68" y="54.29" width="1.6" height="1.6" fill="#4a5478" fill-opacity="0.75"/>
<rect x="495.6" y="53.38" width="1.6" height="1.6" fill="#4a5478" fill-opacity="0.75"/>
<rect x="347.2" y="48.69" width="1.6" height="1.6" fill="#4a5478" fill-opacity="0.75"/>
<rect x="351.44" y="63.8" width="1.6" height="1.6" fill="#4a5478" fill-opacity="0.75"/>
<rect x="372.64" y="73.85" width="1.6" height="1.6" fill="#4a5478" fill-opacity="0.75"/>
<rect x="376.88" y="89.63" width="1.6" height="1.6" fill="#4a5478" fill-opacity="0.75"/>
<rect x="381.12" y="84.27" width="1.6" height="1.6" fill="#4a5478" fill-opacity="0.75"/>
<rect x="389.6" y="80.11" width="1.6" height="1.6" fill="#4a5478" fill-opacity="0.75"/>
<rect x="398.08" y="89.63" width="1.6" height="1.6" fill="#4a5478" fill-opacity="0.75"/>
<rect x="415.04" y="59.65" width="1.6" height="1.6" fill="#4a5478" fill-opacity="0.75"/>
<rect x="427.76" y="47.36" width="1.6" height="1.6" fill="#4a5478" fill-opacity="0.75"/>
<rect x="440.48" y="50.89" width="1.6" height="1.6" fill="#4a5478" fill-opacity="0.75"/>
<rect x="444.72" y="42.33" width="1.6" height="1.6" fill="#4a5478" fill-opacity="0.75"/>
<rect x="448.96" y="56.25" width="1.6" height="1.6" fill="#4a5478" fill-opacity="0.75"/>
<rect x="453.2" y="42.82" width="1.6" height="1.6" fill="#4a5478" fill-opacity="0.75"/>
<rect x="461.68" y="41.37" width="1.6" height="1.6" fill="#4a5478" fill-opacity="0.75"/>
<rect x="465.92" y="48.02" width="1.6" height="1.6" fill="#4a5478" fill-opacity="0.75"/>
<rect x="495.6" y="71.36" width="1.6" height="1.6" fill="#4a5478" fill-opacity="0.75"/>
<rect x="347.2" y="73.85" width="1.6" height="1.6" fill="#4a5478" fill-opacity="0.75"/>
<rect x="351.44" y="97.19" width="1.6" height="1.6" fill="#4a5478" fill-opacity="0.75"/>
<rect x="355.68" y="84.27" width="1.6" height="1.6" fill="#4a5478" fill-opacity="0.75"/>
<rect x="359.92" y="97.19" width="1.6" height="1.6" fill="#4a5478" fill-opacity="0.75"/>
<rect x="372.64" y="84.27" width="1.6" height="1.6" fill="#4a5478" fill-opacity="0.75"/>
<rect x="376.88" y="97.19" width="1.6" height="1.6" fill="#4a5478" fill-opacity="0.75"/>
<rect x="381.12" y="97.19" width="1.6" height="1.6" fill="#4a5478" fill-opacity="0.75"/>
<rect x="385.36" y="84.27" width="1.6" height="1.6" fill="#4a5478" fill-opacity="0.75"/>
<rect x="389.6" y="89.63" width="1.6" height="1.6" fill="#4a5478" fill-opacity="0.75"/>
<rect x="398.08" y="89.63" width="1.6" height="1.6" fill="#4a5478" fill-opacity="0.75"/>
<rect x="402.32" y="84.27" width="1.6" height="1.6" fill="#4a5478" fill-opacity="0.75"/>
<rect x="406.56" y="71.36" width="1.6" height="1.6" fill="#4a5478" fill-opacity="0.75"/>
<rect x="410.8" y="67.2" width="1.6" height="1.6" fill="#4a5478" fill-opacity="0.75"/>
<rect x="436.24" y="43.33" width="1.6" height="1.6" fill="#4a5478" fill-opacity="0.75"/>
<rect x="440.48" y="44.96" width="1.6" height="1.6" fill="#4a5478" fill-opacity="0.75"/>
<rect x="444.72" y="38.77" width="1.6" height="1.6" fill="#4a5478" fill-opacity="0.75"/>
<rect x="448.96" y="37.59" width="1.6" height="1.6" fill="#4a5478" fill-opacity="0.75"/>
<rect x="453.2" y="46.73" width="1.6" height="1.6" fill="#4a5478" fill-opacity="0.75"/>
<rect x="461.68" y="39.18" width="1.6" height="1.6" fill="#4a5478" fill-opacity="0.75"/>
<rect x="465.92" y="54.29" width="1.6" height="1.6" fill="#4a5478" fill-opacity="0.75"/>
<rect x="495.6" y="43.33" width="1.6" height="1.6" fill="#4a5478" fill-opacity="0.75"/>
<rect x="347.2" y="84.27" width="1.6" height="1.6" fill="#4a5478" fill-opacity="0.75"/>
<rect x="351.44" y="80.11" width="1.6" height="1.6" fill="#4a5478" fill-opacity="0.75"/>
<rect x="355.68" y="97.19" width="1.6" height="1.6" fill="#4a5478" fill-opacity="0.75"/>
<rect x="359.92" y="89.63" width="1.6" height="1.6" fill="#4a5478" fill-opacity="0.75"/>
<rect x="368.4" y="97.19" width="1.6" height="1.6" fill="#4a5478" fill-opacity="0.75"/>
<rect x="372.64" y="89.63" width="1.6" height="1.6" fill="#4a5478" fill-opacity="0.75"/>
<rect x="376.88" y="110.1" width="1.6" height="1.6" fill="#4a5478" fill-opacity="0.75"/>
<rect x="381.12" y="110.1" width="1.6" height="1.6" fill="#4a5478" fill-opacity="0.75"/>
<rect x="385.36" y="110.1" width="1.6" height="1.6" fill="#4a5478" fill-opacity="0.75"/>
<rect x="398.08" y="97.19" width="1.6" height="1.6" fill="#4a5478" fill-opacity="0.75"/>
<rect x="406.56" y="123.01" width="1.6" height="1.6" fill="#4a5478" fill-opacity="0.75"/>
<rect x="415.04" y="110.1" width="1.6" height="1.6" fill="#4a5478" fill-opacity="0.75"/>
<rect x="432" y="80.11" width="1.6" height="1.6" fill="#4a5478" fill-opacity="0.75"/>
<rect x="448.96" y="71.36" width="1.6" height="1.6" fill="#4a5478" fill-opacity="0.75"/>
<rect x="453.2" y="76.72" width="1.6" height="1.6" fill="#4a5478" fill-opacity="0.75"/>
<rect x="457.44" y="65.42" width="1.6" height="1.6" fill="#4a5478" fill-opacity="0.75"/>
<rect x="461.68" y="67.2" width="1.6" height="1.6" fill="#4a5478" fill-opacity="0.75"/>
<rect x="465.92" y="65.42" width="1.6" height="1.6" fill="#4a5478" fill-opacity="0.75"/>
<rect x="495.6" y="59.65" width="1.6" height="1.6" fill="#4a5478" fill-opacity="0.75"/>
<rect x="347.2" y="69.16" width="1.6" height="1.6" fill="#4a5478" fill-opacity="0.75"/>
<rect x="351.44" y="73.85" width="1.6" height="1.6" fill="#4a5478" fill-opacity="0.75"/>
<rect x="359.92" y="67.2" width="1.6" height="1.6" fill="#4a5478" fill-opacity="0.75"/>
<rect x="364.16" y="84.27" width="1.6" height="1.6" fill="#4a5478" fill-opacity="0.75"/>
<rect x="376.88" y="97.19" width="1.6" height="1.6" fill="#4a5478" fill-opacity="0.75"/>
<rect x="381.12" y="110.1" width="1.6" height="1.6" fill="#4a5478" fill-opacity="0.75"/>
<rect x="385.36" y="97.19" width="1.6" height="1.6" fill="#4a5478" fill-opacity="0.75"/>
<rect x="393.84" y="89.63" width="1.6" height="1.6" fill="#4a5478" fill-opacity="0.75"/>
<rect x="398.08" y="110.1" width="1.6" height="1.6" fill="#4a5478" fill-opacity="0.75"/>
<rect x="402.32" y="97.19" width="1.6" height="1.6" fill="#4a5478" fill-opacity="0.75"/>
<rect x="406.56" y="97.19" width="1.6" height="1.6" fill="#4a5478" fill-opacity="0.75"/>
<rect x="410.8" y="97.19" width="1.6" height="1.6" fill="#4a5478" fill-opacity="0.75"/>
<rect x="423.52" y="80.11" width="1.6" height="1.6" fill="#4a5478" fill-opacity="0.75"/>
<rect x="427.76" y="71.36" width="1.6" height="1.6" fill="#4a5478" fill-opacity="0.75"/>
<rect x="444.72" y="71.36" width="1.6" height="1.6" fill="#4a5478" fill-opacity="0.75"/>
<rect x="448.96" y="80.11" width="1.6" height="1.6" fill="#4a5478" fill-opacity="0.75"/>
<rect x="457.44" y="84.27" width="1.6" height="1.6" fill="#4a5478" fill-opacity="0.75"/>
<rect x="465.92" y="67.2" width="1.6" height="1.6" fill="#4a5478" fill-opacity="0.75"/>
<rect x="495.6" y="65.42" width="1.6" height="1.6" fill="#4a5478" fill-opacity="0.75"/>
<rect x="347.2" y="76.72" width="1.6" height="1.6" fill="#4a5478" fill-opacity="0.75"/>
<rect x="359.92" y="89.63" width="1.6" height="1.6" fill="#4a5478" fill-opacity="0.75"/>
<rect x="372.64" y="97.19" width="1.6" height="1.6" fill="#4a5478" fill-opacity="0.75"/>
<rect x="376.88" y="89.63" width="1.6" height="1.6" fill="#4a5478" fill-opacity="0.75"/>
<rect x="402.32" y="97.19" width="1.6" height="1.6" fill="#4a5478" fill-opacity="0.75"/>
<rect x="406.56" y="97.19" width="1.6" height="1.6" fill="#4a5478" fill-opacity="0.75"/>
<rect x="423.52" y="80.11" width="1.6" height="1.6" fill="#4a5478" fill-opacity="0.75"/>
<rect x="432" y="65.42" width="1.6" height="1.6" fill="#4a5478" fill-opacity="0.75"/>
<rect x="457.44" y="52.51" width="1.6" height="1.6" fill="#4a5478" fill-opacity="0.75"/>
<rect x="461.68" y="37.59" width="1.6" height="1.6" fill="#4a5478" fill-opacity="0.75"/>
<rect x="495.6" y="65.42" width="1.6" height="1.6" fill="#4a5478" fill-opacity="0.75"/>
<rect x="347.2" y="53.38" width="1.6" height="1.6" fill="#4a5478" fill-opacity="0.75"/>
<rect x="351.44" y="67.2" width="1.6" height="1.6" fill="#4a5478" fill-opacity="0.75"/>
<rect x="355.68" y="71.36" width="1.6" height="1.6" fill="#4a5478" fill-opacity="0.75"/>
<rect x="359.92" y="84.27" width="1.6" height="1.6" fill="#4a5478" fill-opacity="0.75"/>
<rect x="364.16" y="71.36" width="1.6" height="1.6" fill="#4a5478" fill-opacity="0.75"/>
<rect x="368.4" y="80.11" width="1.6" height="1.6" fill="#4a5478" fill-opacity="0.75"/>
<rect x="381.12" y="97.19" width="1.6" height="1.6" fill="#4a5478" fill-opacity="0.75"/>
<rect x="385.36" y="84.27" width="1.6" height="1.6" fill="#4a5478" fill-opacity="0.75"/>
<rect x="389.6" y="84.27" width="1.6" height="1.6" fill="#4a5478" fill-opacity="0.75"/>
<rect x="398.08" y="89.63" width="1.6" height="1.6" fill="#4a5478" fill-opacity="0.75"/>
<rect x="402.32" y="80.11" width="1.6" height="1.6" fill="#4a5478" fill-opacity="0.75"/>
<rect x="406.56" y="89.63" width="1.6" height="1.6" fill="#4a5478" fill-opacity="0.75"/>
<rect x="410.8" y="89.63" width="1.6" height="1.6" fill="#4a5478" fill-opacity="0.75"/>
<rect x="415.04" y="84.27" width="1.6" height="1.6" fill="#4a5478" fill-opacity="0.75"/>
<rect x="423.52" y="97.19" width="1.6" height="1.6" fill="#4a5478" fill-opacity="0.75"/>
<rect x="427.76" y="84.27" width="1.6" height="1.6" fill="#4a5478" fill-opacity="0.75"/>
<rect x="436.24" y="89.63" width="1.6" height="1.6" fill="#4a5478" fill-opacity="0.75"/>
<rect x="444.72" y="80.11" width="1.6" height="1.6" fill="#4a5478" fill-opacity="0.75"/>
<rect x="453.2" y="76.72" width="1.6" height="1.6" fill="#4a5478" fill-opacity="0.75"/>
<rect x="461.68" y="84.27" width="1.6" height="1.6" fill="#4a5478" fill-opacity="0.75"/>
<rect x="465.92" y="89.63" width="1.6" height="1.6" fill="#4a5478" fill-opacity="0.75"/>
<rect x="495.6" y="76.72" width="1.6" height="1.6" fill="#4a5478" fill-opacity="0.75"/>
<rect x="347.2" y="18.03" width="1.6" height="1.6" fill="#4a5478" fill-opacity="0.75"/>
<rect x="359.92" y="36.48" width="1.6" height="1.6" fill="#4a5478" fill-opacity="0.75"/>
<rect x="364.16" y="52.51" width="1.6" height="1.6" fill="#4a5478" fill-opacity="0.75"/>
<rect x="368.4" y="47.36" width="1.6" height="1.6" fill="#4a5478" fill-opacity="0.75"/>
<rect x="372.64" y="48.02" width="1.6" height="1.6" fill="#4a5478" fill-opacity="0.75"/>
<rect x="376.88" y="48.69" width="1.6" height="1.6" fill="#4a5478" fill-opacity="0.75"/>
<rect x="381.12" y="56.25" width="1.6" height="1.6" fill="#4a5478" fill-opacity="0.75"/>
<rect x="385.36" y="60.93" width="1.6" height="1.6" fill="#4a5478" fill-opacity="0.75"/>
<rect x="393.84" y="63.8" width="1.6" height="1.6" fill="#4a5478" fill-opacity="0.75"/>
<rect x="398.08" y="62.31" width="1.6" height="1.6" fill="#4a5478" fill-opacity="0.75"/>
<rect x="402.32" y="84.27" width="1.6" height="1.6" fill="#4a5478" fill-opacity="0.75"/>
<rect x="406.56" y="84.27" width="1.6" height="1.6" fill="#4a5478" fill-opacity="0.75"/>
<rect x="410.8" y="69.16" width="1.6" height="1.6" fill="#4a5478" fill-opacity="0.75"/>
<rect x="419.28" y="44.96" width="1.6" height="1.6" fill="#4a5478" fill-opacity="0.75"/>
<rect x="423.52" y="38.77" width="1.6" height="1.6" fill="#4a5478" fill-opacity="0.75"/>
<rect x="427.76" y="43.33" width="1.6" height="1.6" fill="#4a5478" fill-opacity="0.75"/>
<rect x="440.48" y="52.51" width="1.6" height="1.6" fill="#4a5478" fill-opacity="0.75"/>
<rect x="448.96" y="42.82" width="1.6" height="1.6" fill="#4a5478" fill-opacity="0.75"/>
<rect x="465.92" y="50.89" width="1.6" height="1.6" fill="#4a5478" fill-opacity="0.75"/>
<rect x="495.6" y="62.31" width="1.6" height="1.6" fill="#4a5478" fill-opacity="0.75"/>
<rect x="347.2" y="44.4" width="1.6" height="1.6" fill="#4a5478" fill-opacity="0.75"/>
<rect x="351.44" y="48.02" width="1.6" height="1.6" fill="#4a5478" fill-opacity="0.75"/>
<rect x="368.4" y="48.02" width="1.6" height="1.6" fill="#4a5478" fill-opacity="0.75"/>
<rect x="372.64" y="71.36" width="1.6" height="1.6" fill="#4a5478" fill-opacity="0.75"/>
<rect x="376.88" y="73.85" width="1.6" height="1.6" fill="#4a5478" fill-opacity="0.75"/>
<rect x="381.12" y="67.2" width="1.6" height="1.6" fill="#4a5478" fill-opacity="0.75"/>
<rect x="385.36" y="76.72" width="1.6" height="1.6" fill="#4a5478" fill-opacity="0.75"/>
<rect x="389.6" y="67.2" width="1.6" height="1.6" fill="#4a5478" fill-opacity="0.75"/>
<rect x="393.84" y="84.27" width="1.6" height="1.6" fill="#4a5478" fill-opacity="0.75"/>
<rect x="398.08" y="84.27" width="1.6" height="1.6" fill="#4a5478" fill-opacity="0.75"/>
<rect x="402.32" y="76.72" width="1.6" height="1.6" fill="#4a5478" fill-opacity="0.75"/>
<rect x="423.52" y="97.19" width="1.6" height="1.6" fill="#4a5478" fill-opacity="0.75"/>
<rect x="432" y="62.31" width="1.6" height="1.6" fill="#4a5478" fill-opacity="0.75"/>
<rect x="436.24" y="55.24" width="1.6" height="1.6" fill="#4a5478" fill-opacity="0.75"/>
<rect x="453.2" y="37.97" width="1.6" height="1.6" fill="#4a5478" fill-opacity="0.75"/>
<rect x="461.68" y="30.16" width="1.6" height="1.6" fill="#4a5478" fill-opacity="0.75"/>
<rect x="465.92" y="42.82" width="1.6" height="1.6" fill="#4a5478" fill-opacity="0.75"/>
<rect x="495.6" y="73.85" width="1.6" height="1.6" fill="#4a5478" fill-opacity="0.75"/>
<rect x="347.2" y="50.13" width="1.6" height="1.6" fill="#4a5478" fill-opacity="0.75"/>
<rect x="351.44" y="62.31" width="1.6" height="1.6" fill="#4a5478" fill-opacity="0.75"/>
<rect x="381.12" y="89.63" width="1.6" height="1.6" fill="#4a5478" fill-opacity="0.75"/>
<rect x="385.36" y="80.11" width="1.6" height="1.6" fill="#4a5478" fill-opacity="0.75"/>
<rect x="389.6" y="80.11" width="1.6" height="1.6" fill="#4a5478" fill-opacity="0.75"/>
<rect x="393.84" y="97.19" width="1.6" height="1.6" fill="#4a5478" fill-opacity="0.75"/>
<rect x="402.32" y="89.63" width="1.6" height="1.6" fill="#4a5478" fill-opacity="0.75"/>
<rect x="406.56" y="97.19" width="1.6" height="1.6" fill="#4a5478" fill-opacity="0.75"/>
<rect x="410.8" y="97.19" width="1.6" height="1.6" fill="#4a5478" fill-opacity="0.75"/>
<rect x="415.04" y="89.63" width="1.6" height="1.6" fill="#4a5478" fill-opacity="0.75"/>
<rect x="423.52" y="60.93" width="1.6" height="1.6" fill="#4a5478" fill-opacity="0.75"/>
<rect x="427.76" y="46.73" width="1.6" height="1.6" fill="#4a5478" fill-opacity="0.75"/>
<rect x="444.72" y="45.53" width="1.6" height="1.6" fill="#4a5478" fill-opacity="0.75"/>
<rect x="453.2" y="52.51" width="1.6" height="1.6" fill="#4a5478" fill-opacity="0.75"/>
<rect x="465.92" y="42.33" width="1.6" height="1.6" fill="#4a5478" fill-opacity="0.75"/>
<rect x="495.6" y="84.27" width="1.6" height="1.6" fill="#4a5478" fill-opacity="0.75"/>
<rect x="347.2" y="76.72" width="1.6" height="1.6" fill="#4a5478" fill-opacity="0.75"/>
<rect x="364.16" y="97.19" width="1.6" height="1.6" fill="#4a5478" fill-opacity="0.75"/>
<rect x="368.4" y="84.27" width="1.6" height="1.6" fill="#4a5478" fill-opacity="0.75"/>
<rect x="372.64" y="97.19" width="1.6" height="1.6" fill="#4a5478" fill-opacity="0.75"/>
<rect x="376.88" y="97.19" width="1.6" height="1.6" fill="#4a5478" fill-opacity="0.75"/>
<rect x="389.6" y="123.01" width="1.6" height="1.6" fill="#4a5478" fill-opacity="0.75"/>
<rect x="398.08" y="97.19" width="1.6" height="1.6" fill="#4a5478" fill-opacity="0.75"/>
<rect x="406.56" y="110.1" width="1.6" height="1.6" fill="#4a5478" fill-opacity="0.75"/>
<rect x="419.28" y="97.19" width="1.6" height="1.6" fill="#4a5478" fill-opacity="0.75"/>
<rect x="423.52" y="89.63" width="1.6" height="1.6" fill="#4a5478" fill-opacity="0.75"/>
<rect x="432" y="67.2" width="1.6" height="1.6" fill="#4a5478" fill-opacity="0.75"/>
<rect x="436.24" y="60.93" width="1.6" height="1.6" fill="#4a5478" fill-opacity="0.75"/>
<rect x="453.2" y="53.38" width="1.6" height="1.6" fill="#4a5478" fill-opacity="0.75"/>
<rect x="457.44" y="46.12" width="1.6" height="1.6" fill="#4a5478" fill-opacity="0.75"/>
<rect x="465.92" y="65.42" width="1.6" height="1.6" fill="#4a5478" fill-opacity="0.75"/>
<rect x="495.6" y="62.31" width="1.6" height="1.6" fill="#4a5478" fill-opacity="0.75"/>
<rect x="347.2" y="97.19" width="1.6" height="1.6" fill="#4a5478" fill-opacity="0.75"/>
<rect x="351.44" y="97.19" width="1.6" height="1.6" fill="#4a5478" fill-opacity="0.75"/>
<rect x="355.68" y="110.1" width="1.6" height="1.6" fill="#4a5478" fill-opacity="0.75"/>
<rect x="359.92" y="110.1" width="1.6" height="1.6" fill="#4a5478" fill-opacity="0.75"/>
<rect x="364.16" y="123.01" width="1.6" height="1.6" fill="#4a5478" fill-opacity="0.75"/>
<rect x="376.88" y="110.1" width="1.6" height="1.6" fill="#4a5478" fill-opacity="0.75"/>
<rect x="385.36" y="97.19" width="1.6" height="1.6" fill="#4a5478" fill-opacity="0.75"/>
<rect x="389.6" y="123.01" width="1.6" height="1.6" fill="#4a5478" fill-opacity="0.75"/>
<rect x="402.32" y="123.01" width="1.6" height="1.6" fill="#4a5478" fill-opacity="0.75"/>
<rect x="410.8" y="123.01" width="1.6" height="1.6" fill="#4a5478" fill-opacity="0.75"/>
<rect x="415.04" y="110.1" width="1.6" height="1.6" fill="#4a5478" fill-opacity="0.75"/>
<rect x="427.76" y="97.19" width="1.6" height="1.6" fill="#4a5478" fill-opacity="0.75"/>
<rect x="436.24" y="59.65" width="1.6" height="1.6" fill="#4a5478" fill-opacity="0.75"/>
<rect x="444.72" y="63.8" width="1.6" height="1.6" fill="#4a5478" fill-opacity="0.75"/>
<rect x="461.68" y="55.24" width="1.6" height="1.6" fill="#4a5478" fill-opacity="0.75"/>
<rect x="465.92" y="60.93" width="1.6" height="1.6" fill="#4a5478" fill-opacity="0.75"/>
<rect x="495.6" y="73.85" width="1.6" height="1.6" fill="#4a5478" fill-opacity="0.75"/>
<rect x="347.2" y="89.63" width="1.6" height="1.6" fill="#4a5478" fill-opacity="0.75"/>
<rect x="355.68" y="97.19" width="1.6" height="1.6" fill="#4a5478" fill-opacity="0.75"/>
<rect x="359.92" y="89.63" width="1.6" height="1.6" fill="#4a5478" fill-opacity="0.75"/>
<rect x="368.4" y="97.19" width="1.6" height="1.6" fill="#4a5478" fill-opacity="0.75"/>
<rect x="372.64" y="123.01" width="1.6" height="1.6" fill="#4a5478" fill-opacity="0.75"/>
<rect x="376.88" y="110.1" width="1.6" height="1.6" fill="#4a5478" fill-opacity="0.75"/>
<rect x="381.12" y="97.19" width="1.6" height="1.6" fill="#4a5478" fill-opacity="0.75"/>
<rect x="385.36" y="123.01" width="1.6" height="1.6" fill="#4a5478" fill-opacity="0.75"/>
<rect x="389.6" y="97.19" width="1.6" height="1.6" fill="#4a5478" fill-opacity="0.75"/>
<rect x="402.32" y="123.01" width="1.6" height="1.6" fill="#4a5478" fill-opacity="0.75"/>
<rect x="410.8" y="110.1" width="1.6" height="1.6" fill="#4a5478" fill-opacity="0.75"/>
<rect x="436.24" y="38.77" width="1.6" height="1.6" fill="#4a5478" fill-opacity="0.75"/>
<rect x="440.48" y="50.13" width="1.6" height="1.6" fill="#4a5478" fill-opacity="0.75"/>
<rect x="453.2" y="38.77" width="1.6" height="1.6" fill="#4a5478" fill-opacity="0.75"/>
<rect x="495.6" y="71.36" width="1.6" height="1.6" fill="#4a5478" fill-opacity="0.75"/>
<rect x="347.2" y="57.31" width="1.6" height="1.6" fill="#4a5478" fill-opacity="0.75"/>
<rect x="351.44" y="60.93" width="1.6" height="1.6" fill="#4a5478" fill-opacity="0.75"/>
<rect x="355.68" y="60.93" width="1.6" height="1.6" fill="#4a5478" fill-opacity="0.75"/>
<rect x="359.92" y="62.31" width="1.6" height="1.6" fill="#4a5478" fill-opacity="0.75"/>
<rect x="368.4" y="76.72" width="1.6" height="1.6" fill="#4a5478" fill-opacity="0.75"/>
<rect x="376.88" y="67.2" width="1.6" height="1.6" fill="#4a5478" fill-opacity="0.75"/>
<rect x="381.12" y="97.19" width="1.6" height="1.6" fill="#4a5478" fill-opacity="0.75"/>
<rect x="385.36" y="80.11" width="1.6" height="1.6" fill="#4a5478" fill-opacity="0.75"/>
<rect x="389.6" y="89.63" width="1.6" height="1.6" fill="#4a5478" fill-opacity="0.75"/>
<rect x="398.08" y="84.27" width="1.6" height="1.6" fill="#4a5478" fill-opacity="0.75"/>
<rect x="415.04" y="97.19" width="1.6" height="1.6" fill="#4a5478" fill-opacity="0.75"/>
<rect x="419.28" y="89.63" width="1.6" height="1.6" fill="#4a5478" fill-opacity="0.75"/>
<rect x="423.52" y="89.63" width="1.6" height="1.6" fill="#4a5478" fill-opacity="0.75"/>
<rect x="427.76" y="84.27" width="1.6" height="1.6" fill="#4a5478" fill-opacity="0.75"/>
<rect x="432" y="76.72" width="1.6" height="1.6" fill="#4a5478" fill-opacity="0.75"/>
<rect x="436.24" y="73.85" width="1.6" height="1.6" fill="#4a5478" fill-opacity="0.75"/>
<rect x="444.72" y="76.72" width="1.6" height="1.6" fill="#4a5478" fill-opacity="0.75"/>
<rect x="448.96" y="63.8" width="1.6" height="1.6" fill="#4a5478" fill-opacity="0.75"/>
<rect x="453.2" y="80.11" width="1.6" height="1.6" fill="#4a5478" fill-opacity="0.75"/>
<rect x="457.44" y="73.85" width="1.6" height="1.6" fill="#4a5478" fill-opacity="0.75"/>
<rect x="461.68" y="71.36" width="1.6" height="1.6" fill="#4a5478" fill-opacity="0.75"/>
<rect x="465.92" y="71.36" width="1.6" height="1.6" fill="#4a5478" fill-opacity="0.75"/>
<rect x="495.6" y="69.16" width="1.6" height="1.6" fill="#4a5478" fill-opacity="0.75"/>
<rect x="347.2" y="39.6" width="1.6" height="1.6" fill="#4a5478" fill-opacity="0.75"/>
<rect x="368.4" y="60.93" width="1.6" height="1.6" fill="#4a5478" fill-opacity="0.75"/>
<rect x="372.64" y="63.8" width="1.6" height="1.6" fill="#4a5478" fill-opacity="0.75"/>
<rect x="389.6" y="67.2" width="1.6" height="1.6" fill="#4a5478" fill-opacity="0.75"/>
<rect x="398.08" y="84.27" width="1.6" height="1.6" fill="#4a5478" fill-opacity="0.75"/>
<rect x="419.28" y="45.53" width="1.6" height="1.6" fill="#4a5478" fill-opacity="0.75"/>
<rect x="423.52" y="57.31" width="1.6" height="1.6" fill="#4a5478" fill-opacity="0.75"/>
<rect x="427.76" y="49.4" width="1.6" height="1.6" fill="#4a5478" fill-opacity="0.75"/>
<rect x="440.48" y="53.38" width="1.6" height="1.6" fill="#4a5478" fill-opacity="0.75"/>
<rect x="444.72" y="53.38" width="1.6" height="1.6" fill="#4a5478" fill-opacity="0.75"/>
<rect x="448.96" y="44.96" width="1.6" height="1.6" fill="#4a5478" fill-opacity="0.75"/>
<rect x="453.2" y="59.65" width="1.6" height="1.6" fill="#4a5478" fill-opacity="0.75"/>
<rect x="457.44" y="38.77" width="1.6" height="1.6" fill="#4a5478" fill-opacity="0.75"/>
<rect x="465.92" y="58.44" width="1.6" height="1.6" fill="#4a5478" fill-opacity="0.75"/>
<rect x="495.6" y="89.63" width="1.6" height="1.6" fill="#4a5478" fill-opacity="0.75"/>
<rect x="347.2" y="55.24" width="1.6" height="1.6" fill="#4a5478" fill-opacity="0.75"/>
<rect x="351.44" y="57.31" width="1.6" height="1.6" fill="#4a5478" fill-opacity="0.75"/>
<rect x="355.68" y="53.38" width="1.6" height="1.6" fill="#4a5478" fill-opacity="0.75"/>
<rect x="359.92" y="73.85" width="1.6" height="1.6" fill="#4a5478" fill-opacity="0.75"/>
<rect x="372.64" y="73.85" width="1.6" height="1.6" fill="#4a5478" fill-opacity="0.75"/>
<rect x="376.88" y="80.11" width="1.6" height="1.6" fill="#4a5478" fill-opacity="0.75"/>
<rect x="381.12" y="89.63" width="1.6" height="1.6" fill="#4a5478" fill-opacity="0.75"/>
<rect x="385.36" y="97.19" width="1.6" height="1.6" fill="#4a5478" fill-opacity="0.75"/>
<rect x="389.6" y="97.19" width="1.6" height="1.6" fill="#4a5478" fill-opacity="0.75"/>
<rect x="393.84" y="97.19" width="1.6" height="1.6" fill="#4a5478" fill-opacity="0.75"/>
<rect x="415.04" y="89.63" width="1.6" height="1.6" fill="#4a5478" fill-opacity="0.75"/>
<rect x="427.76" y="65.42" width="1.6" height="1.6" fill="#4a5478" fill-opacity="0.75"/>
<rect x="432" y="49.4" width="1.6" height="1.6" fill="#4a5478" fill-opacity="0.75"/>
<rect x="436.24" y="57.31" width="1.6" height="1.6" fill="#4a5478" fill-opacity="0.75"/>
<rect x="440.48" y="55.24" width="1.6" height="1.6" fill="#4a5478" fill-opacity="0.75"/>
<rect x="444.72" y="63.8" width="1.6" height="1.6" fill="#4a5478" fill-opacity="0.75"/>
<rect x="457.44" y="56.25" width="1.6" height="1.6" fill="#4a5478" fill-opacity="0.75"/>
<rect x="461.68" y="67.2" width="1.6" height="1.6" fill="#4a5478" fill-opacity="0.75"/>
<rect x="495.6" y="84.27" width="1.6" height="1.6" fill="#4a5478" fill-opacity="0.75"/>
<rect x="347.2" y="52.51" width="1.6" height="1.6" fill="#4a5478" fill-opacity="0.75"/>
<rect x="359.92" y="76.72" width="1.6" height="1.6" fill="#4a5478" fill-opacity="0.75"/>
<rect x="368.4" y="89.63" width="1.6" height="1.6" fill="#4a5478" fill-opacity="0.75"/>
<rect x="389.6" y="84.27" width="1.6" height="1.6" fill="#4a5478" fill-opacity="0.75"/>
<rect x="393.84" y="84.27" width="1.6" height="1.6" fill="#4a5478" fill-opacity="0.75"/>
<rect x="402.32" y="84.27" width="1.6" height="1.6" fill="#4a5478" fill-opacity="0.75"/>
<rect x="406.56" y="76.72" width="1.6" height="1.6" fill="#4a5478" fill-opacity="0.75"/>
<rect x="423.52" y="40.02" width="1.6" height="1.6" fill="#4a5478" fill-opacity="0.75"/>
<rect x="444.72" y="31.49" width="1.6" height="1.6" fill="#4a5478" fill-opacity="0.75"/>
<rect x="457.44" y="31.49" width="1.6" height="1.6" fill="#4a5478" fill-opacity="0.75"/>
<rect x="461.68" y="43.86" width="1.6" height="1.6" fill="#4a5478" fill-opacity="0.75"/>
<rect x="465.92" y="33.51" width="1.6" height="1.6" fill="#4a5478" fill-opacity="0.75"/>
<rect x="495.6" y="54.29" width="1.6" height="1.6" fill="#4a5478" fill-opacity="0.75"/>
<rect x="347.2" y="84.27" width="1.6" height="1.6" fill="#4a5478" fill-opacity="0.75"/>
<rect x="351.44" y="110.1" width="1.6" height="1.6" fill="#4a5478" fill-opacity="0.75"/>
<rect x="364.16" y="97.19" width="1.6" height="1.6" fill="#4a5478" fill-opacity="0.75"/>
<rect x="376.88" y="110.1" width="1.6" height="1.6" fill="#4a5478" fill-opacity="0.75"/>
<rect x="385.36" y="123.01" width="1.6" height="1.6" fill="#4a5478" fill-opacity="0.75"/>
<rect x="389.6" y="123.01" width="1.6" height="1.6" fill="#4a5478" fill-opacity="0.75"/>
<rect x="393.84" y="123.01" width="1.6" height="1.6" fill="#4a5478" fill-opacity="0.75"/>
<rect x="410.8" y="123.01" width="1.6" height="1.6" fill="#4a5478" fill-opacity="0.75"/>
<rect x="419.28" y="84.27" width="1.6" height="1.6" fill="#4a5478" fill-opacity="0.75"/>
<rect x="423.52" y="89.63" width="1.6" height="1.6" fill="#4a5478" fill-opacity="0.75"/>
<rect x="436.24" y="52.51" width="1.6" height="1.6" fill="#4a5478" fill-opacity="0.75"/>
<rect x="444.72" y="69.16" width="1.6" height="1.6" fill="#4a5478" fill-opacity="0.75"/>
<rect x="457.44" y="50.89" width="1.6" height="1.6" fill="#4a5478" fill-opacity="0.75"/>
<rect x="461.68" y="59.65" width="1.6" height="1.6" fill="#4a5478" fill-opacity="0.75"/>
<rect x="465.92" y="55.24" width="1.6" height="1.6" fill="#4a5478" fill-opacity="0.75"/>
<rect x="495.6" y="71.36" width="1.6" height="1.6" fill="#4a5478" fill-opacity="0.75"/>
<rect x="347.2" y="73.85" width="1.6" height="1.6" fill="#4a5478" fill-opacity="0.75"/>
<rect x="355.68" y="73.85" width="1.6" height="1.6" fill="#4a5478" fill-opacity="0.75"/>
<rect x="359.92" y="80.11" width="1.6" height="1.6" fill="#4a5478" fill-opacity="0.75"/>
<rect x="364.16" y="89.63" width="1.6" height="1.6" fill="#4a5478" fill-opacity="0.75"/>
<rect x="368.4" y="89.63" width="1.6" height="1.6" fill="#4a5478" fill-opacity="0.75"/>
<rect x="372.64" y="89.63" width="1.6" height="1.6" fill="#4a5478" fill-opacity="0.75"/>
<rect x="376.88" y="97.19" width="1.6" height="1.6" fill="#4a5478" fill-opacity="0.75"/>
<rect x="381.12" y="84.27" width="1.6" height="1.6" fill="#4a5478" fill-opacity="0.75"/>
<rect x="385.36" y="110.1" width="1.6" height="1.6" fill="#4a5478" fill-opacity="0.75"/>
<rect x="393.84" y="97.19" width="1.6" height="1.6" fill="#4a5478" fill-opacity="0.75"/>
<rect x="410.8" y="89.63" width="1.6" height="1.6" fill="#4a5478" fill-opacity="0.75"/>
<rect x="419.28" y="62.31" width="1.6" height="1.6" fill="#4a5478" fill-opacity="0.75"/>
<rect x="427.76" y="41.37" width="1.6" height="1.6" fill="#4a5478" fill-opacity="0.75"/>
<rect x="448.96" y="30.42" width="1.6" height="1.6" fill="#4a5478" fill-opacity="0.75"/>
<rect x="453.2" y="21.37" width="1.6" height="1.6" fill="#4a5478" fill-opacity="0.75"/>
<rect x="457.44" y="34.45" width="1.6" height="1.6" fill="#4a5478" fill-opacity="0.75"/>
<rect x="465.92" y="27.77" width="1.6" height="1.6" fill="#4a5478" fill-opacity="0.75"/>
<rect x="495.6" y="89.63" width="1.6" height="1.6" fill="#4a5478" fill-opacity="0.75"/>
<rect x="347.2" y="60.93" width="1.6" height="1.6" fill="#4a5478" fill-opacity="0.75"/>
<rect x="351.44" y="58.44" width="1.6" height="1.6" fill="#4a5478" fill-opacity="0.75"/>
<rect x="364.16" y="76.72" width="1.6" height="1.6" fill="#4a5478" fill-opacity="0.75"/>
<rect x="368.4" y="71.36" width="1.6" height="1.6" fill="#4a5478" fill-opacity="0.75"/>
<rect x="376.88" y="84.27" width="1.6" height="1.6" fill="#4a5478" fill-opacity="0.75"/>
<rect x="381.12" y="80.11" width="1.6" height="1.6" fill="#4a5478" fill-opacity="0.75"/>
<rect x="389.6" y="80.11" width="1.6" height="1.6" fill="#4a5478" fill-opacity="0.75"/>
<rect x="406.56" y="84.27" width="1.6" height="1.6" fill="#4a5478" fill-opacity="0.75"/>
<rect x="410.8" y="97.19" width="1.6" height="1.6" fill="#4a5478" fill-opacity="0.75"/>
<rect x="415.04" y="84.27" width="1.6" height="1.6" fill="#4a5478" fill-opacity="0.75"/>
<rect x="419.28" y="97.19" width="1.6" height="1.6" fill="#4a5478" fill-opacity="0.75"/>
<rect x="436.24" y="71.36" width="1.6" height="1.6" fill="#4a5478" fill-opacity="0.75"/>
<rect x="440.48" y="76.72" width="1.6" height="1.6" fill="#4a5478" fill-opacity="0.75"/>
<rect x="448.96" y="80.11" width="1.6" height="1.6" fill="#4a5478" fill-opacity="0.75"/>
<rect x="453.2" y="73.85" width="1.6" height="1.6" fill="#4a5478" fill-opacity="0.75"/>
<rect x="495.6" y="65.42" width="1.6" height="1.6" fill="#4a5478" fill-opacity="0.75"/>
<rect x="347.2" y="97.19" width="1.6" height="1.6" fill="#4a5478" fill-opacity="0.75"/>
<rect x="355.68" y="97.19" width="1.6" height="1.6" fill="#4a5478" fill-opacity="0.75"/>
<rect x="359.92" y="89.63" width="1.6" height="1.6" fill="#4a5478" fill-opacity="0.75"/>
<rect x="364.16" y="110.1" width="1.6" height="1.6" fill="#4a5478" fill-opacity="0.75"/>
<rect x="368.4" y="110.1" width="1.6" height="1.6" fill="#4a5478" fill-opacity="0.75"/>
<rect x="376.88" y="97.19" width="1.6" height="1.6" fill="#4a5478" fill-opacity="0.75"/>
<rect x="389.6" y="89.63" width="1.6" height="1.6" fill="#4a5478" fill-opacity="0.75"/>
<rect x="393.84" y="123.01" width="1.6" height="1.6" fill="#4a5478" fill-opacity="0.75"/>
<rect x="398.08" y="110.1" width="1.6" height="1.6" fill="#4a5478" fill-opacity="0.75"/>
<rect x="410.8" y="110.1" width="1.6" height="1.6" fill="#4a5478" fill-opacity="0.75"/>
<rect x="419.28" y="123.01" width="1.6" height="1.6" fill="#4a5478" fill-opacity="0.75"/>
<rect x="444.72" y="89.63" width="1.6" height="1.6" fill="#4a5478" fill-opacity="0.75"/>
<rect x="448.96" y="89.63" width="1.6" height="1.6" fill="#4a5478" fill-opacity="0.75"/>
<rect x="453.2" y="89.63" width="1.6" height="1.6" fill="#4a5478" fill-opacity="0.75"/>
<rect x="457.44" y="84.27" width="1.6" height="1.6" fill="#4a5478" fill-opacity="0.75"/>
<rect x="461.68" y="97.19" width="1.6" height="1.6" fill="#4a5478" fill-opacity="0.75"/>
<rect x="495.6" y="63.8" width="1.6" height="1.6" fill="#4a5478" fill-opacity="0.75"/>
<rect x="347.2" y="69.16" width="1.6" height="1.6" fill="#4a5478" fill-opacity="0.75"/>
<rect x="351.44" y="73.85" width="1.6" height="1.6" fill="#4a5478" fill-opacity="0.75"/>
<rect x="355.68" y="76.72" width="1.6" height="1.6" fill="#4a5478" fill-opacity="0.75"/>
<rect x="359.92" y="89.63" width="1.6" height="1.6" fill="#4a5478" fill-opacity="0.75"/>
<rect x="364.16" y="97.19" width="1.6" height="1.6" fill="#4a5478" fill-opacity="0.75"/>
<rect x="368.4" y="110.1" width="1.6" height="1.6" fill="#4a5478" fill-opacity="0.75"/>
<rect x="372.64" y="97.19" width="1.6" height="1.6" fill="#4a5478" fill-opacity="0.75"/>
<rect x="376.88" y="97.19" width="1.6" height="1.6" fill="#4a5478" fill-opacity="0.75"/>
<rect x="381.12" y="110.1" width="1.6" height="1.6" fill="#4a5478" fill-opacity="0.75"/>
<rect x="385.36" y="97.19" width="1.6" height="1.6" fill="#4a5478" fill-opacity="0.75"/>
<rect x="389.6" y="123.01" width="1.6" height="1.6" fill="#4a5478" fill-opacity="0.75"/>
<rect x="393.84" y="110.1" width="1.6" height="1.6" fill="#4a5478" fill-opacity="0.75"/>
<rect x="398.08" y="97.19" width="1.6" height="1.6" fill="#4a5478" fill-opacity="0.75"/>
<rect x="406.56" y="110.1" width="1.6" height="1.6" fill="#4a5478" fill-opacity="0.75"/>
<rect x="415.04" y="123.01" width="1.6" height="1.6" fill="#4a5478" fill-opacity="0.75"/>
<rect x="419.28" y="89.63" width="1.6" height="1.6" fill="#4a5478" fill-opacity="0.75"/>
<rect x="423.52" y="84.27" width="1.6" height="1.6" fill="#4a5478" fill-opacity="0.75"/>
<rect x="427.76" y="65.42" width="1.6" height="1.6" fill="#4a5478" fill-opacity="0.75"/>
<rect x="432" y="55.24" width="1.6" height="1.6" fill="#4a5478" fill-opacity="0.75"/>
<rect x="436.24" y="48.69" width="1.6" height="1.6" fill="#4a5478" fill-opacity="0.75"/>
<rect x="440.48" y="37.21" width="1.6" height="1.6" fill="#4a5478" fill-opacity="0.75"/>
<rect x="444.72" y="30.16" width="1.6" height="1.6" fill="#4a5478" fill-opacity="0.75"/>
<rect x="457.44" y="36.48" width="1.6" height="1.6" fill="#4a5478" fill-opacity="0.75"/>
<rect x="461.68" y="34.77" width="1.6" height="1.6" fill="#4a5478" fill-opacity="0.75"/>
<rect x="495.6" y="80.11" width="1.6" height="1.6" fill="#4a5478" fill-opacity="0.75"/>
<rect x="347.2" y="123.01" width="1.6" height="1.6" fill="#4a5478" fill-opacity="0.75"/>
<rect x="351.44" y="110.1" width="1.6" height="1.6" fill="#4a5478" fill-opacity="0.75"/>
<rect x="359.92" y="84.27" width="1.6" height="1.6" fill="#4a5478" fill-opacity="0.75"/>
<rect x="368.4" y="89.63" width="1.6" height="1.6" fill="#4a5478" fill-opacity="0.75"/>
<rect x="376.88" y="97.19" width="1.6" height="1.6" fill="#4a5478" fill-opacity="0.75"/>
<rect x="385.36" y="89.63" width="1.6" height="1.6" fill="#4a5478" fill-opacity="0.75"/>
<rect x="389.6" y="97.19" width="1.6" height="1.6" fill="#4a5478" fill-opacity="0.75"/>
<rect x="393.84" y="89.63" width="1.6" height="1.6" fill="#4a5478" fill-opacity="0.75"/>
<rect x="398.08" y="80.11" width="1.6" height="1.6" fill="#4a5478" fill-opacity="0.75"/>
<rect x="402.32" y="97.19" width="1.6" height="1.6" fill="#4a5478" fill-opacity="0.75"/>
<rect x="406.56" y="84.27" width="1.6" height="1.6" fill="#4a5478" fill-opacity="0.75"/>
<rect x="432" y="71.36" width="1.6" height="1.6" fill="#4a5478" fill-opacity="0.75"/>
<rect x="436.24" y="73.85" width="1.6" height="1.6" fill="#4a5478" fill-opacity="0.75"/>
<rect x="440.48" y="71.36" width="1.6" height="1.6" fill="#4a5478" fill-opacity="0.75"/>
<rect x="448.96" y="76.72" width="1.6" height="1.6" fill="#4a5478" fill-opacity="0.75"/>
<rect x="453.2" y="76.72" width="1.6" height="1.6" fill="#4a5478" fill-opacity="0.75"/>
<rect x="457.44" y="71.36" width="1.6" height="1.6" fill="#4a5478" fill-opacity="0.75"/>
<rect x="465.92" y="84.27" width="1.6" height="1.6" fill="#4a5478" fill-opacity="0.75"/>
<rect x="495.6" y="65.42" width="1.6" height="1.6" fill="#4a5478" fill-opacity="0.75"/>
<rect x="347.2" y="76.72" width="1.6" height="1.6" fill="#4a5478" fill-opacity="0.75"/>
<rect x="351.44" y="69.16" width="1.6" height="1.6" fill="#4a5478" fill-opacity="0.75"/>
<rect x="355.68" y="71.36" width="1.6" height="1.6" fill="#4a5478" fill-opacity="0.75"/>
<rect x="359.92" y="89.63" width="1.6" height="1.6" fill="#4a5478" fill-opacity="0.75"/>
<rect x="368.4" y="89.63" width="1.6" height="1.6" fill="#4a5478" fill-opacity="0.75"/>
<rect x="381.12" y="123.01" width="1.6" height="1.6" fill="#4a5478" fill-opacity="0.75"/>
<rect x="389.6" y="123.01" width="1.6" height="1.6" fill="#4a5478" fill-opacity="0.75"/>
<rect x="393.84" y="123.01" width="1.6" height="1.6" fill="#4a5478" fill-opacity="0.75"/>
<rect x="406.56" y="123.01" width="1.6" height="1.6" fill="#4a5478" fill-opacity="0.75"/>
<rect x="410.8" y="123.01" width="1.6" height="1.6" fill="#4a5478" fill-opacity="0.75"/>
<rect x="415.04" y="123.01" width="1.6" height="1.6" fill="#4a5478" fill-opacity="0.75"/>
<rect x="419.28" y="110.1" width="1.6" height="1.6" fill="#4a5478" fill-opacity="0.75"/>
<rect x="423.52" y="97.19" width="1.6" height="1.6" fill="#4a5478" fill-opacity="0.75"/>
<rect x="427.76" y="97.19" width="1.6" height="1.6" fill="#4a5478" fill-opacity="0.75"/>
<rect x="432" y="80.11" width="1.6" height="1.6" fill="#4a5478" fill-opacity="0.75"/>
<rect x="448.96" y="65.42" width="1.6" height="1.6" fill="#4a5478" fill-opacity="0.75"/>
<rect x="453.2" y="73.85" width="1.6" height="1.6" fill="#4a5478" fill-opacity="0.75"/>
<rect x="465.92" y="76.72" width="1.6" height="1.6" fill="#4a5478" fill-opacity="0.75"/>
<rect x="495.6" y="50.13" width="1.6" height="1.6" fill="#4a5478" fill-opacity="0.75"/>
<polyline points="348,97.99 352.24,97.99 356.48,97.99 360.72,101.01 364.96,110.9 369.2,109.12 373.44,110.9 377.68,110.9 381.92,123.81 386.16,123.81 390.4,111.86 394.64,123.81 398.88,123.81 403.12,123.81 407.36,120.42 411.6,123.81 415.84,123.81 420.08,123.81 424.32,123.81 428.56,123.81 432.8,123.81 437.04,97.99 441.28,117.55 445.52,123.81 449.76,102.14 454,89.82 458.24,97.99 462.48,107.5 466.72,95.38 496.4,104.63" fill="none" stroke="#c0142c" stroke-width="1.7" stroke-opacity="1.0" stroke-linejoin="round"/>
<polyline points="348,72.63 352.24,81.29 356.48,80.18 360.72,83.72 364.96,94.59 369.2,88.66 373.44,89.23 377.68,88.1 381.92,93.1 386.16,102.14 390.4,96.21 394.64,99.95 398.88,110.9 403.12,112.86 407.36,110.9 411.6,110.9 415.84,110.9 420.08,97.99 424.32,110.9 428.56,86.52 432.8,66.22 437.04,60.45 441.28,68.96 445.52,56.04 449.76,69.96 454,66.22 458.24,61.08 462.48,63.11 466.72,56.04 496.4,66.22" fill="none" stroke="#1d4a85" stroke-width="1.7" stroke-opacity="1.0" stroke-linejoin="round"/>
<circle cx="360" cy="588" r="0.8" fill="#777" />
<rect x="0.5" y="0.5" width="519" height="731" fill="none" stroke="#555" stroke-width="1"/>
</svg>
</body></html>
